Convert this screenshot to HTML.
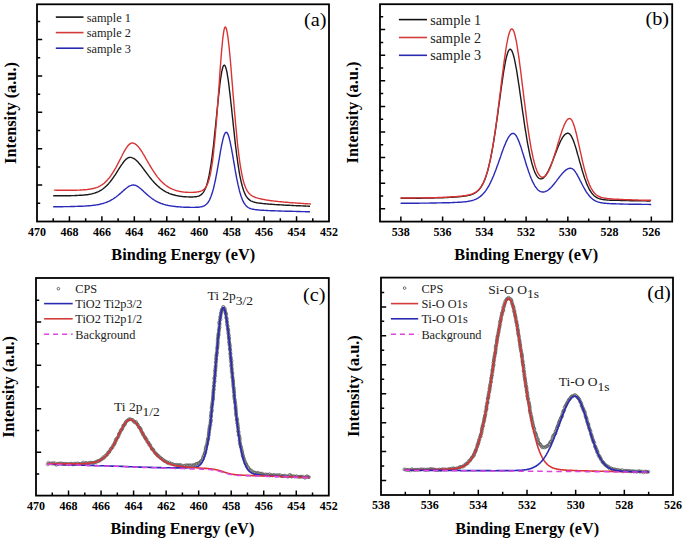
<!DOCTYPE html>
<html><head><meta charset="utf-8"><style>
html,body{margin:0;padding:0;background:#fff;width:685px;height:539px;overflow:hidden}
svg{display:block}
text{font-family:"Liberation Serif", serif}
</style></head><body>
<svg width="685" height="539" viewBox="0 0 685 539" font-family='"Liberation Serif", serif'>
<rect width="685" height="539" fill="#fff"/>
<rect x="37" y="4.3" width="292" height="217.2" fill="none" stroke="#000" stroke-width="1.8"/>
<path d="M53.22 221.5V218.3 M69.44 221.5V216.3 M85.67 221.5V218.3 M101.89 221.5V216.3 M118.11 221.5V218.3 M134.33 221.5V216.3 M150.56 221.5V218.3 M166.78 221.5V216.3 M183 221.5V218.3 M199.22 221.5V216.3 M215.44 221.5V218.3 M231.67 221.5V216.3 M247.89 221.5V218.3 M264.11 221.5V216.3 M280.33 221.5V218.3 M296.56 221.5V216.3 M312.78 221.5V218.3 M37 203.31H40.2 M37 185.12H42.2 M37 166.93H40.2 M37 148.74H42.2 M37 130.55H40.2 M37 112.36H42.2 M37 94.17H40.2 M37 75.98H42.2 M37 57.79H40.2 M37 39.6H42.2 M37 21.41H40.2" stroke="#000" stroke-width="1.5" fill="none"/>
<text transform="translate(37,236) scale(1,1.0)" font-size="12" font-weight="bold" text-anchor="middle">470</text>
<text transform="translate(69.44,236) scale(1,1.0)" font-size="12" font-weight="bold" text-anchor="middle">468</text>
<text transform="translate(101.89,236) scale(1,1.0)" font-size="12" font-weight="bold" text-anchor="middle">466</text>
<text transform="translate(134.33,236) scale(1,1.0)" font-size="12" font-weight="bold" text-anchor="middle">464</text>
<text transform="translate(166.78,236) scale(1,1.0)" font-size="12" font-weight="bold" text-anchor="middle">462</text>
<text transform="translate(199.22,236) scale(1,1.0)" font-size="12" font-weight="bold" text-anchor="middle">460</text>
<text transform="translate(231.67,236) scale(1,1.0)" font-size="12" font-weight="bold" text-anchor="middle">458</text>
<text transform="translate(264.11,236) scale(1,1.0)" font-size="12" font-weight="bold" text-anchor="middle">456</text>
<text transform="translate(296.56,236) scale(1,1.0)" font-size="12" font-weight="bold" text-anchor="middle">454</text>
<text transform="translate(329,236) scale(1,1.0)" font-size="12" font-weight="bold" text-anchor="middle">452</text>
<text x="183.2" y="259.8" font-size="16.3" font-weight="bold" text-anchor="middle">Binding Energy (eV)</text>
<text transform="translate(15.8,113) rotate(-90)" font-size="16.3" font-weight="bold" text-anchor="middle">Intensity (a.u.)</text>
<text transform="translate(326.6,26.3) scale(1.04,0.96)" font-size="19.5" text-anchor="end">(a)</text>
<rect x="380" y="4.2" width="292.2" height="217.4" fill="none" stroke="#000" stroke-width="1.8"/>
<path d="M400.87 221.6V216.4 M421.74 221.6V218.4 M442.61 221.6V216.4 M463.49 221.6V218.4 M484.36 221.6V216.4 M505.23 221.6V218.4 M526.1 221.6V216.4 M546.97 221.6V218.4 M567.84 221.6V216.4 M588.71 221.6V218.4 M609.59 221.6V216.4 M630.46 221.6V218.4 M651.33 221.6V216.4 M380 208.8H385.2 M380 196H383.2 M380 183.2H385.2 M380 170.4H383.2 M380 157.6H385.2 M380 144.8H383.2 M380 132H385.2 M380 119.2H383.2 M380 106.4H385.2 M380 93.6H383.2 M380 80.8H385.2 M380 68H383.2 M380 55.2H385.2 M380 42.4H383.2 M380 29.6H385.2 M380 16.8H383.2" stroke="#000" stroke-width="1.5" fill="none"/>
<text transform="translate(400.87,236) scale(1,1.0)" font-size="12" font-weight="bold" text-anchor="middle">538</text>
<text transform="translate(442.61,236) scale(1,1.0)" font-size="12" font-weight="bold" text-anchor="middle">536</text>
<text transform="translate(484.36,236) scale(1,1.0)" font-size="12" font-weight="bold" text-anchor="middle">534</text>
<text transform="translate(526.1,236) scale(1,1.0)" font-size="12" font-weight="bold" text-anchor="middle">532</text>
<text transform="translate(567.84,236) scale(1,1.0)" font-size="12" font-weight="bold" text-anchor="middle">530</text>
<text transform="translate(609.59,236) scale(1,1.0)" font-size="12" font-weight="bold" text-anchor="middle">528</text>
<text transform="translate(651.33,236) scale(1,1.0)" font-size="12" font-weight="bold" text-anchor="middle">526</text>
<text x="526.2" y="260" font-size="16.3" font-weight="bold" text-anchor="middle">Binding Energy (eV)</text>
<text transform="translate(358.4,112.5) rotate(-90)" font-size="16.3" font-weight="bold" text-anchor="middle">Intensity (a.u.)</text>
<text transform="translate(669.1,25.3) scale(1.04,0.96)" font-size="19.5" text-anchor="end">(b)</text>
<rect x="36" y="278" width="292.8" height="217.6" fill="none" stroke="#000" stroke-width="1.8"/>
<path d="M52.27 495.6V492.4 M68.53 495.6V490.4 M84.8 495.6V492.4 M101.07 495.6V490.4 M117.33 495.6V492.4 M133.6 495.6V490.4 M149.87 495.6V492.4 M166.13 495.6V490.4 M182.4 495.6V492.4 M198.67 495.6V490.4 M214.93 495.6V492.4 M231.2 495.6V490.4 M247.47 495.6V492.4 M263.73 495.6V490.4 M280 495.6V492.4 M296.27 495.6V490.4 M312.53 495.6V492.4 M36 473.89H39.2 M36 452.18H41.2 M36 430.47H39.2 M36 408.76H41.2 M36 387.05H39.2 M36 365.34H41.2 M36 343.63H39.2 M36 321.92H41.2 M36 300.21H39.2" stroke="#000" stroke-width="1.5" fill="none"/>
<text transform="translate(36,510) scale(1,1.0)" font-size="12" font-weight="bold" text-anchor="middle">470</text>
<text transform="translate(68.53,510) scale(1,1.0)" font-size="12" font-weight="bold" text-anchor="middle">468</text>
<text transform="translate(101.07,510) scale(1,1.0)" font-size="12" font-weight="bold" text-anchor="middle">466</text>
<text transform="translate(133.6,510) scale(1,1.0)" font-size="12" font-weight="bold" text-anchor="middle">464</text>
<text transform="translate(166.13,510) scale(1,1.0)" font-size="12" font-weight="bold" text-anchor="middle">462</text>
<text transform="translate(198.67,510) scale(1,1.0)" font-size="12" font-weight="bold" text-anchor="middle">460</text>
<text transform="translate(231.2,510) scale(1,1.0)" font-size="12" font-weight="bold" text-anchor="middle">458</text>
<text transform="translate(263.73,510) scale(1,1.0)" font-size="12" font-weight="bold" text-anchor="middle">456</text>
<text transform="translate(296.27,510) scale(1,1.0)" font-size="12" font-weight="bold" text-anchor="middle">454</text>
<text transform="translate(328.8,510) scale(1,1.0)" font-size="12" font-weight="bold" text-anchor="middle">452</text>
<text x="182.4" y="533.9" font-size="16.3" font-weight="bold" text-anchor="middle">Binding Energy (eV)</text>
<text transform="translate(13.8,386.9) rotate(-90)" font-size="16.3" font-weight="bold" text-anchor="middle">Intensity (a.u.)</text>
<text transform="translate(325.5,300.5) scale(1.04,0.96)" font-size="19.5" text-anchor="end">(c)</text>
<rect x="381" y="277.6" width="292" height="217.4" fill="none" stroke="#000" stroke-width="1.8"/>
<path d="M405.33 495V491.8 M429.67 495V489.8 M454 495V491.8 M478.33 495V489.8 M502.67 495V491.8 M527 495V489.8 M551.33 495V491.8 M575.67 495V489.8 M600 495V491.8 M624.33 495V489.8 M648.67 495V491.8 M381 480.53H386.2 M381 466.06H384.2 M381 451.59H386.2 M381 437.12H384.2 M381 422.65H386.2 M381 408.18H384.2 M381 393.71H386.2 M381 379.24H384.2 M381 364.77H386.2 M381 350.3H384.2 M381 335.83H386.2 M381 321.36H384.2 M381 306.89H386.2 M381 292.42H384.2" stroke="#000" stroke-width="1.5" fill="none"/>
<text transform="translate(381,509) scale(1,1.0)" font-size="12" font-weight="bold" text-anchor="middle">538</text>
<text transform="translate(429.67,509) scale(1,1.0)" font-size="12" font-weight="bold" text-anchor="middle">536</text>
<text transform="translate(478.33,509) scale(1,1.0)" font-size="12" font-weight="bold" text-anchor="middle">534</text>
<text transform="translate(527,509) scale(1,1.0)" font-size="12" font-weight="bold" text-anchor="middle">532</text>
<text transform="translate(575.67,509) scale(1,1.0)" font-size="12" font-weight="bold" text-anchor="middle">530</text>
<text transform="translate(624.33,509) scale(1,1.0)" font-size="12" font-weight="bold" text-anchor="middle">528</text>
<text transform="translate(673,509) scale(1,1.0)" font-size="12" font-weight="bold" text-anchor="middle">526</text>
<text x="527.2" y="533.8" font-size="16.3" font-weight="bold" text-anchor="middle">Binding Energy (eV)</text>
<text transform="translate(359.4,386.1) rotate(-90)" font-size="16.3" font-weight="bold" text-anchor="middle">Intensity (a.u.)</text>
<text transform="translate(670.8,298.6) scale(1.04,0.96)" font-size="19.5" text-anchor="end">(d)</text>
<path d="M55.8 17.1H83.5" stroke="#111" stroke-width="1.6"/>
<text x="86.8" y="21.53" font-size="12.3" fill="#222">sample 1</text>
<path d="M55.8 32.6H83.5" stroke="#d43c3c" stroke-width="1.6"/>
<text x="86.8" y="37.03" font-size="12.3" fill="#222">sample 2</text>
<path d="M55.8 48.2H83.5" stroke="#2a2ab0" stroke-width="1.6"/>
<text x="86.8" y="52.63" font-size="12.3" fill="#222">sample 3</text>
<path d="M398.9 19.6H427" stroke="#111" stroke-width="1.6"/>
<text x="430.3" y="24.71" font-size="14.2" fill="#222">sample 1</text>
<path d="M398.9 37.5H427" stroke="#d43c3c" stroke-width="1.6"/>
<text x="430.3" y="42.61" font-size="14.2" fill="#222">sample 2</text>
<path d="M398.9 55.3H427" stroke="#2a2ab0" stroke-width="1.6"/>
<text x="430.3" y="60.41" font-size="14.2" fill="#222">sample 3</text>
<circle cx="58.4" cy="288.7" r="1.3" fill="none" stroke="#333" stroke-width="0.7"/>
<text x="75.3" y="293.13" font-size="12.3" fill="#222">CPS</text>
<path d="M44.1 303.6H72.7" stroke="#2a2ab0" stroke-width="1.6"/>
<text x="75.3" y="308.03" font-size="12.3" fill="#222">TiO2 Ti2p3/2</text>
<path d="M44.1 318.8H72.7" stroke="#d43c3c" stroke-width="1.6"/>
<text x="75.3" y="323.23" font-size="12.3" fill="#222">TiO2 Ti2p1/2</text>
<path d="M44.1 334.2H72.7" stroke="#dd44dd" stroke-width="1.6" stroke-dasharray="5,4"/>
<text x="75.3" y="338.63" font-size="12.3" fill="#222">Background</text>
<circle cx="404.55" cy="288.1" r="1.3" fill="none" stroke="#333" stroke-width="0.7"/>
<text x="421.4" y="292.53" font-size="12.3" fill="#222">CPS</text>
<path d="M390.9 303.6H418.2" stroke="#d43c3c" stroke-width="1.6"/>
<text x="421.4" y="308.03" font-size="12.3" fill="#222">Si-O O1s</text>
<path d="M390.9 318.8H418.2" stroke="#2a2ab0" stroke-width="1.6"/>
<text x="421.4" y="323.23" font-size="12.3" fill="#222">Ti-O O1s</text>
<path d="M390.9 334.2H418.2" stroke="#dd44dd" stroke-width="1.6" stroke-dasharray="5,4"/>
<text x="421.4" y="338.63" font-size="12.3" fill="#222">Background</text>
<text transform="translate(207.4,300.4) scale(1,1.0)" font-size="13.5" fill="#222">Ti 2p<tspan dy="4.4">3/2</tspan></text>
<text transform="translate(114,411.4) scale(1,1.0)" font-size="13.5" fill="#222">Ti 2p<tspan dy="4.4">1/2</tspan></text>
<text transform="translate(488.3,293.6) scale(1,1.0)" font-size="13.5" fill="#222">Si-O O<tspan dy="4.4">1s</tspan></text>
<text transform="translate(558.7,386.4) scale(1,1.0)" font-size="13.5" fill="#222">Ti-O O<tspan dy="4.4">1s</tspan></text>
<path d="M53.2 206.7 L53.8 206.7 L54.5 206.7 L55.1 206.7 L55.8 206.7 L56.4 206.7 L57.1 206.7 L57.7 206.7 L58.3 206.7 L59.0 206.7 L59.6 206.7 L60.3 206.7 L60.9 206.7 L61.6 206.7 L62.2 206.7 L62.9 206.7 L63.5 206.6 L64.1 206.6 L64.8 206.6 L65.4 206.6 L66.1 206.6 L66.7 206.6 L67.4 206.6 L68.0 206.6 L68.6 206.6 L69.3 206.6 L69.9 206.6 L70.6 206.5 L71.2 206.5 L71.9 206.5 L72.5 206.5 L73.2 206.5 L73.8 206.5 L74.4 206.5 L75.1 206.4 L75.7 206.4 L76.4 206.4 L77.0 206.4 L77.7 206.4 L78.3 206.3 L78.9 206.3 L79.6 206.3 L80.2 206.3 L80.9 206.2 L81.5 206.2 L82.2 206.2 L82.8 206.2 L83.4 206.1 L84.1 206.1 L84.7 206.1 L85.4 206.0 L86.0 206.0 L86.7 205.9 L87.3 205.9 L88.0 205.8 L88.6 205.8 L89.2 205.7 L89.9 205.7 L90.5 205.6 L91.2 205.6 L91.8 205.5 L92.5 205.4 L93.1 205.4 L93.7 205.3 L94.4 205.2 L95.0 205.1 L95.7 205.0 L96.3 204.9 L97.0 204.8 L97.6 204.7 L98.3 204.6 L98.9 204.5 L99.5 204.3 L100.2 204.2 L100.8 204.0 L101.5 203.9 L102.1 203.7 L102.8 203.5 L103.4 203.3 L104.0 203.1 L104.7 202.9 L105.3 202.7 L106.0 202.5 L106.6 202.2 L107.3 202.0 L107.9 201.7 L108.6 201.4 L109.2 201.1 L109.8 200.8 L110.5 200.5 L111.1 200.1 L111.8 199.7 L112.4 199.4 L113.1 199.0 L113.7 198.5 L114.3 198.1 L115.0 197.7 L115.6 197.2 L116.3 196.7 L116.9 196.2 L117.6 195.7 L118.2 195.2 L118.8 194.7 L119.5 194.1 L120.1 193.6 L120.8 193.0 L121.4 192.4 L122.1 191.9 L122.7 191.3 L123.4 190.7 L124.0 190.1 L124.6 189.6 L125.3 189.0 L125.9 188.5 L126.6 188.0 L127.2 187.5 L127.9 187.0 L128.5 186.6 L129.1 186.2 L129.8 185.9 L130.4 185.6 L131.1 185.4 L131.7 185.2 L132.4 185.1 L133.0 185.0 L133.7 185.0 L134.3 185.1 L134.9 185.2 L135.6 185.4 L136.2 185.7 L136.9 186.0 L137.5 186.4 L138.2 186.8 L138.8 187.2 L139.4 187.7 L140.1 188.2 L140.7 188.8 L141.4 189.3 L142.0 189.9 L142.7 190.5 L143.3 191.1 L143.9 191.7 L144.6 192.3 L145.2 192.9 L145.9 193.5 L146.5 194.1 L147.2 194.6 L147.8 195.2 L148.5 195.7 L149.1 196.3 L149.7 196.8 L150.4 197.3 L151.0 197.8 L151.7 198.3 L152.3 198.8 L153.0 199.2 L153.6 199.6 L154.2 200.0 L154.9 200.4 L155.5 200.8 L156.2 201.2 L156.8 201.5 L157.5 201.8 L158.1 202.2 L158.8 202.5 L159.4 202.7 L160.0 203.0 L160.7 203.3 L161.3 203.5 L162.0 203.7 L162.6 204.0 L163.3 204.2 L163.9 204.4 L164.5 204.6 L165.2 204.7 L165.8 204.9 L166.5 205.1 L167.1 205.2 L167.8 205.3 L168.4 205.5 L169.0 205.6 L169.7 205.7 L170.3 205.8 L171.0 205.9 L171.6 206.0 L172.3 206.1 L172.9 206.2 L173.6 206.3 L174.2 206.4 L174.8 206.5 L175.5 206.5 L176.1 206.6 L176.8 206.7 L177.4 206.7 L178.1 206.8 L178.7 206.8 L179.3 206.9 L180.0 206.9 L180.6 207.0 L181.3 207.0 L181.9 207.1 L182.6 207.1 L183.2 207.1 L183.9 207.2 L184.5 207.2 L185.1 207.2 L185.8 207.2 L186.4 207.3 L187.1 207.3 L187.7 207.3 L188.4 207.3 L189.0 207.3 L189.6 207.3 L190.3 207.4 L190.9 207.4 L191.6 207.4 L192.2 207.4 L192.9 207.4 L193.5 207.4 L194.2 207.4 L194.8 207.4 L195.4 207.3 L196.1 207.3 L196.7 207.3 L197.4 207.3 L198.0 207.2 L198.7 207.2 L199.3 207.1 L199.9 207.0 L200.6 206.9 L201.2 206.8 L201.9 206.6 L202.5 206.5 L203.2 206.2 L203.8 206.0 L204.4 205.7 L205.1 205.3 L205.7 204.8 L206.4 204.3 L207.0 203.6 L207.7 202.9 L208.3 202.0 L209.0 200.9 L209.6 199.7 L210.2 198.4 L210.9 196.8 L211.5 195.1 L212.2 193.1 L212.8 190.9 L213.5 188.5 L214.1 185.9 L214.7 183.1 L215.4 180.0 L216.0 176.8 L216.7 173.3 L217.3 169.8 L218.0 166.1 L218.6 162.4 L219.3 158.6 L219.9 154.8 L220.5 151.2 L221.2 147.6 L221.8 144.3 L222.5 141.3 L223.1 138.6 L223.8 136.3 L224.4 134.5 L225.0 133.2 L225.7 132.4 L226.3 132.3 L227.0 132.6 L227.6 133.6 L228.3 135.1 L228.9 137.0 L229.5 139.4 L230.2 142.2 L230.8 145.3 L231.5 148.7 L232.1 152.2 L232.8 155.9 L233.4 159.7 L234.1 163.5 L234.7 167.2 L235.3 170.9 L236.0 174.5 L236.6 177.9 L237.3 181.1 L237.9 184.2 L238.6 187.0 L239.2 189.7 L239.8 192.1 L240.5 194.3 L241.1 196.3 L241.8 198.1 L242.4 199.7 L243.1 201.1 L243.7 202.4 L244.4 203.5 L245.0 204.4 L245.6 205.2 L246.3 205.9 L246.9 206.5 L247.6 207.1 L248.2 207.5 L248.9 207.9 L249.5 208.2 L250.1 208.5 L250.8 208.7 L251.4 208.9 L252.1 209.1 L252.7 209.2 L253.4 209.3 L254.0 209.4 L254.6 209.5 L255.3 209.6 L255.9 209.7 L256.6 209.8 L257.2 209.8 L257.9 209.9 L258.5 210.0 L259.2 210.0 L259.8 210.1 L260.4 210.1 L261.1 210.2 L261.7 210.2 L262.4 210.2 L263.0 210.3 L263.7 210.3 L264.3 210.4 L264.9 210.4 L265.6 210.4 L266.2 210.5 L266.9 210.5 L267.5 210.5 L268.2 210.6 L268.8 210.6 L269.5 210.6 L270.1 210.6 L270.7 210.7 L271.4 210.7 L272.0 210.7 L272.7 210.8 L273.3 210.8 L274.0 210.8 L274.6 210.8 L275.2 210.9 L275.9 210.9 L276.5 210.9 L277.2 210.9 L277.8 210.9 L278.5 211.0 L279.1 211.0 L279.8 211.0 L280.4 211.0 L281.0 211.0 L281.7 211.1 L282.3 211.1 L283.0 211.1 L283.6 211.1 L284.3 211.1 L284.9 211.2 L285.5 211.2 L286.2 211.2 L286.8 211.2 L287.5 211.2 L288.1 211.2 L288.8 211.3 L289.4 211.3 L290.0 211.3 L290.7 211.3 L291.3 211.3 L292.0 211.3 L292.6 211.4 L293.3 211.4 L293.9 211.4 L294.6 211.4 L295.2 211.4 L295.8 211.4 L296.5 211.5 L297.1 211.5 L297.8 211.5 L298.4 211.5 L299.1 211.5 L299.7 211.5 L300.3 211.5 L301.0 211.6 L301.6 211.6 L302.3 211.6 L302.9 211.6 L303.6 211.6 L304.2 211.6 L304.9 211.6 L305.5 211.7 L306.1 211.7 L306.8 211.7 L307.4 211.7 L308.1 211.7 L308.7 211.7 L309.4 211.7 L310.0 211.7" fill="none" stroke="#2a2ab8" stroke-width="1.4" stroke-linejoin="round"/>
<path d="M53.2 195.7 L53.8 195.7 L54.5 195.8 L55.1 195.8 L55.8 195.8 L56.4 195.8 L57.1 195.8 L57.7 195.8 L58.3 195.8 L59.0 195.8 L59.6 195.8 L60.3 195.8 L60.9 195.8 L61.6 195.8 L62.2 195.8 L62.9 195.7 L63.5 195.7 L64.1 195.7 L64.8 195.7 L65.4 195.7 L66.1 195.7 L66.7 195.7 L67.4 195.7 L68.0 195.7 L68.6 195.7 L69.3 195.7 L69.9 195.7 L70.6 195.7 L71.2 195.6 L71.9 195.6 L72.5 195.6 L73.2 195.6 L73.8 195.6 L74.4 195.6 L75.1 195.5 L75.7 195.5 L76.4 195.5 L77.0 195.5 L77.7 195.4 L78.3 195.4 L78.9 195.4 L79.6 195.3 L80.2 195.3 L80.9 195.3 L81.5 195.2 L82.2 195.2 L82.8 195.1 L83.4 195.1 L84.1 195.0 L84.7 195.0 L85.4 194.9 L86.0 194.8 L86.7 194.7 L87.3 194.7 L88.0 194.6 L88.6 194.5 L89.2 194.4 L89.9 194.3 L90.5 194.1 L91.2 194.0 L91.8 193.9 L92.5 193.7 L93.1 193.5 L93.7 193.4 L94.4 193.2 L95.0 193.0 L95.7 192.7 L96.3 192.5 L97.0 192.2 L97.6 192.0 L98.3 191.7 L98.9 191.4 L99.5 191.0 L100.2 190.7 L100.8 190.3 L101.5 189.9 L102.1 189.5 L102.8 189.0 L103.4 188.5 L104.0 188.0 L104.7 187.5 L105.3 186.9 L106.0 186.3 L106.6 185.7 L107.3 185.1 L107.9 184.4 L108.6 183.7 L109.2 182.9 L109.8 182.2 L110.5 181.4 L111.1 180.5 L111.8 179.7 L112.4 178.8 L113.1 177.9 L113.7 177.0 L114.3 176.0 L115.0 175.1 L115.6 174.1 L116.3 173.1 L116.9 172.1 L117.6 171.0 L118.2 170.0 L118.8 169.0 L119.5 168.0 L120.1 167.0 L120.8 166.0 L121.4 165.0 L122.1 164.1 L122.7 163.2 L123.4 162.3 L124.0 161.5 L124.6 160.7 L125.3 160.0 L125.9 159.4 L126.6 158.8 L127.2 158.4 L127.9 158.0 L128.5 157.7 L129.1 157.5 L129.8 157.4 L130.4 157.4 L131.1 157.4 L131.7 157.6 L132.4 157.8 L133.0 158.1 L133.7 158.4 L134.3 158.8 L134.9 159.2 L135.6 159.7 L136.2 160.3 L136.9 160.9 L137.5 161.5 L138.2 162.2 L138.8 163.0 L139.4 163.7 L140.1 164.5 L140.7 165.3 L141.4 166.1 L142.0 166.9 L142.7 167.8 L143.3 168.7 L143.9 169.5 L144.6 170.4 L145.2 171.3 L145.9 172.1 L146.5 173.0 L147.2 173.9 L147.8 174.7 L148.5 175.6 L149.1 176.4 L149.7 177.2 L150.4 178.0 L151.0 178.8 L151.7 179.6 L152.3 180.4 L153.0 181.1 L153.6 181.8 L154.2 182.5 L154.9 183.2 L155.5 183.9 L156.2 184.5 L156.8 185.1 L157.5 185.7 L158.1 186.3 L158.8 186.9 L159.4 187.4 L160.0 188.0 L160.7 188.5 L161.3 188.9 L162.0 189.4 L162.6 189.8 L163.3 190.3 L163.9 190.7 L164.5 191.1 L165.2 191.4 L165.8 191.8 L166.5 192.1 L167.1 192.4 L167.8 192.7 L168.4 193.0 L169.0 193.3 L169.7 193.6 L170.3 193.8 L171.0 194.0 L171.6 194.3 L172.3 194.5 L172.9 194.7 L173.6 194.8 L174.2 195.0 L174.8 195.2 L175.5 195.3 L176.1 195.5 L176.8 195.6 L177.4 195.8 L178.1 195.9 L178.7 196.0 L179.3 196.1 L180.0 196.2 L180.6 196.3 L181.3 196.4 L181.9 196.5 L182.6 196.5 L183.2 196.6 L183.9 196.7 L184.5 196.7 L185.1 196.8 L185.8 196.8 L186.4 196.9 L187.1 196.9 L187.7 196.9 L188.4 196.9 L189.0 197.0 L189.6 197.0 L190.3 197.0 L190.9 197.0 L191.6 197.0 L192.2 197.0 L192.9 197.0 L193.5 196.9 L194.2 196.9 L194.8 196.8 L195.4 196.8 L196.1 196.7 L196.7 196.6 L197.4 196.4 L198.0 196.3 L198.7 196.1 L199.3 195.8 L199.9 195.5 L200.6 195.1 L201.2 194.6 L201.9 194.1 L202.5 193.4 L203.2 192.6 L203.8 191.6 L204.4 190.5 L205.1 189.2 L205.7 187.7 L206.4 185.9 L207.0 183.9 L207.7 181.6 L208.3 179.0 L209.0 176.0 L209.6 172.7 L210.2 169.1 L210.9 165.0 L211.5 160.7 L212.2 155.9 L212.8 150.8 L213.5 145.4 L214.1 139.6 L214.7 133.6 L215.4 127.4 L216.0 121.1 L216.7 114.7 L217.3 108.3 L218.0 102.0 L218.6 95.8 L219.3 90.0 L219.9 84.5 L220.5 79.5 L221.2 75.1 L221.8 71.4 L222.5 68.5 L223.1 66.4 L223.8 65.3 L224.4 65.1 L225.0 65.7 L225.7 67.2 L226.3 69.4 L227.0 72.4 L227.6 76.1 L228.3 80.3 L228.9 85.1 L229.5 90.3 L230.2 95.9 L230.8 101.7 L231.5 107.7 L232.1 113.8 L232.8 119.9 L233.4 126.0 L234.1 132.1 L234.7 137.9 L235.3 143.6 L236.0 149.0 L236.6 154.2 L237.3 159.0 L237.9 163.6 L238.6 167.8 L239.2 171.8 L239.8 175.4 L240.5 178.7 L241.1 181.6 L241.8 184.3 L242.4 186.7 L243.1 188.8 L243.7 190.7 L244.4 192.4 L245.0 193.9 L245.6 195.1 L246.3 196.3 L246.9 197.2 L247.6 198.0 L248.2 198.8 L248.9 199.4 L249.5 199.9 L250.1 200.4 L250.8 200.8 L251.4 201.1 L252.1 201.4 L252.7 201.7 L253.4 201.9 L254.0 202.1 L254.6 202.3 L255.3 202.4 L255.9 202.6 L256.6 202.7 L257.2 202.8 L257.9 202.9 L258.5 203.0 L259.2 203.1 L259.8 203.2 L260.4 203.3 L261.1 203.3 L261.7 203.4 L262.4 203.5 L263.0 203.6 L263.7 203.6 L264.3 203.7 L264.9 203.8 L265.6 203.8 L266.2 203.9 L266.9 203.9 L267.5 204.0 L268.2 204.0 L268.8 204.1 L269.5 204.1 L270.1 204.2 L270.7 204.2 L271.4 204.3 L272.0 204.3 L272.7 204.4 L273.3 204.4 L274.0 204.5 L274.6 204.5 L275.2 204.6 L275.9 204.6 L276.5 204.6 L277.2 204.7 L277.8 204.7 L278.5 204.8 L279.1 204.8 L279.8 204.8 L280.4 204.9 L281.0 204.9 L281.7 204.9 L282.3 205.0 L283.0 205.0 L283.6 205.0 L284.3 205.1 L284.9 205.1 L285.5 205.2 L286.2 205.2 L286.8 205.2 L287.5 205.2 L288.1 205.3 L288.8 205.3 L289.4 205.3 L290.0 205.4 L290.7 205.4 L291.3 205.4 L292.0 205.5 L292.6 205.5 L293.3 205.5 L293.9 205.6 L294.6 205.6 L295.2 205.6 L295.8 205.6 L296.5 205.7 L297.1 205.7 L297.8 205.7 L298.4 205.8 L299.1 205.8 L299.7 205.8 L300.3 205.8 L301.0 205.9 L301.6 205.9 L302.3 205.9 L302.9 205.9 L303.6 206.0 L304.2 206.0 L304.9 206.0 L305.5 206.0 L306.1 206.1 L306.8 206.1 L307.4 206.1 L308.1 206.1 L308.7 206.2 L309.4 206.2 L310.0 206.2" fill="none" stroke="#1a1a1a" stroke-width="1.4" stroke-linejoin="round"/>
<path d="M53.9 190.1 L54.5 190.1 L55.2 190.1 L55.8 190.1 L56.5 190.2 L57.1 190.2 L57.8 190.2 L58.4 190.2 L59.1 190.2 L59.7 190.2 L60.3 190.2 L61.0 190.2 L61.6 190.2 L62.3 190.2 L62.9 190.2 L63.6 190.2 L64.2 190.2 L64.9 190.2 L65.5 190.3 L66.1 190.3 L66.8 190.3 L67.4 190.3 L68.1 190.3 L68.7 190.3 L69.4 190.3 L70.0 190.2 L70.7 190.2 L71.3 190.2 L71.9 190.2 L72.6 190.2 L73.2 190.2 L73.9 190.2 L74.5 190.2 L75.2 190.2 L75.8 190.2 L76.5 190.2 L77.1 190.1 L77.7 190.1 L78.4 190.1 L79.0 190.1 L79.7 190.1 L80.3 190.0 L81.0 190.0 L81.6 190.0 L82.3 189.9 L82.9 189.9 L83.5 189.8 L84.2 189.8 L84.8 189.7 L85.5 189.7 L86.1 189.6 L86.8 189.6 L87.4 189.5 L88.1 189.4 L88.7 189.3 L89.3 189.2 L90.0 189.1 L90.6 189.0 L91.3 188.9 L91.9 188.8 L92.6 188.7 L93.2 188.5 L93.9 188.3 L94.5 188.2 L95.1 188.0 L95.8 187.8 L96.4 187.6 L97.1 187.3 L97.7 187.1 L98.4 186.8 L99.0 186.5 L99.6 186.2 L100.3 185.8 L100.9 185.4 L101.6 185.0 L102.2 184.6 L102.9 184.2 L103.5 183.7 L104.2 183.2 L104.8 182.6 L105.4 182.0 L106.1 181.4 L106.7 180.8 L107.4 180.1 L108.0 179.3 L108.7 178.6 L109.3 177.8 L110.0 176.9 L110.6 176.1 L111.2 175.2 L111.9 174.2 L112.5 173.2 L113.2 172.2 L113.8 171.1 L114.5 170.0 L115.1 168.9 L115.8 167.8 L116.4 166.6 L117.0 165.4 L117.7 164.1 L118.3 162.9 L119.0 161.6 L119.6 160.4 L120.3 159.1 L120.9 157.8 L121.6 156.5 L122.2 155.3 L122.8 154.0 L123.5 152.8 L124.1 151.6 L124.8 150.5 L125.4 149.4 L126.1 148.4 L126.7 147.4 L127.4 146.5 L128.0 145.7 L128.6 145.0 L129.3 144.4 L129.9 143.9 L130.6 143.5 L131.2 143.2 L131.9 143.0 L132.5 143.0 L133.2 143.1 L133.8 143.3 L134.4 143.5 L135.1 143.9 L135.7 144.3 L136.4 144.8 L137.0 145.4 L137.7 146.1 L138.3 146.8 L139.0 147.6 L139.6 148.4 L140.2 149.3 L140.9 150.2 L141.5 151.2 L142.2 152.2 L142.8 153.3 L143.5 154.3 L144.1 155.4 L144.8 156.5 L145.4 157.7 L146.0 158.8 L146.7 159.9 L147.3 161.0 L148.0 162.2 L148.6 163.3 L149.3 164.4 L149.9 165.5 L150.6 166.6 L151.2 167.6 L151.8 168.7 L152.5 169.7 L153.1 170.7 L153.8 171.7 L154.4 172.7 L155.1 173.6 L155.7 174.5 L156.4 175.4 L157.0 176.3 L157.6 177.1 L158.3 177.9 L158.9 178.7 L159.6 179.5 L160.2 180.2 L160.9 180.9 L161.5 181.5 L162.2 182.2 L162.8 182.8 L163.4 183.4 L164.1 183.9 L164.7 184.5 L165.4 185.0 L166.0 185.5 L166.7 185.9 L167.3 186.4 L168.0 186.8 L168.6 187.2 L169.2 187.6 L169.9 187.9 L170.5 188.3 L171.2 188.6 L171.8 188.9 L172.5 189.2 L173.1 189.4 L173.8 189.7 L174.4 189.9 L175.0 190.1 L175.7 190.4 L176.3 190.6 L177.0 190.7 L177.6 190.9 L178.3 191.1 L178.9 191.2 L179.6 191.3 L180.2 191.5 L180.8 191.6 L181.5 191.7 L182.1 191.8 L182.8 191.9 L183.4 192.0 L184.1 192.1 L184.7 192.1 L185.3 192.2 L186.0 192.2 L186.6 192.3 L187.3 192.3 L187.9 192.4 L188.6 192.4 L189.2 192.4 L189.9 192.4 L190.5 192.4 L191.1 192.4 L191.8 192.4 L192.4 192.4 L193.1 192.4 L193.7 192.3 L194.4 192.3 L195.0 192.3 L195.7 192.2 L196.3 192.1 L196.9 192.0 L197.6 191.9 L198.2 191.8 L198.9 191.7 L199.5 191.5 L200.2 191.3 L200.8 191.1 L201.5 190.9 L202.1 190.6 L202.7 190.2 L203.4 189.7 L204.0 189.2 L204.7 188.6 L205.3 187.8 L206.0 186.9 L206.6 185.8 L207.3 184.5 L207.9 183.0 L208.5 181.2 L209.2 179.0 L209.8 176.5 L210.5 173.5 L211.1 170.1 L211.8 166.2 L212.4 161.8 L213.1 156.8 L213.7 151.2 L214.3 145.0 L215.0 138.3 L215.6 131.0 L216.3 123.2 L216.9 114.9 L217.6 106.2 L218.2 97.3 L218.9 88.1 L219.5 79.0 L220.1 69.9 L220.8 61.3 L221.4 53.1 L222.1 45.7 L222.7 39.2 L223.4 33.9 L224.0 30.0 L224.7 27.6 L225.3 26.9 L225.9 27.6 L226.6 29.6 L227.2 32.7 L227.9 36.8 L228.5 42.0 L229.2 47.9 L229.8 54.5 L230.5 61.7 L231.1 69.3 L231.7 77.1 L232.4 85.1 L233.0 93.2 L233.7 101.2 L234.3 109.0 L235.0 116.6 L235.6 124.0 L236.3 130.9 L236.9 137.6 L237.5 143.8 L238.2 149.6 L238.8 154.9 L239.5 159.8 L240.1 164.3 L240.8 168.4 L241.4 172.0 L242.1 175.3 L242.7 178.2 L243.3 180.8 L244.0 183.1 L244.6 185.1 L245.3 186.8 L245.9 188.3 L246.6 189.7 L247.2 190.8 L247.9 191.8 L248.5 192.7 L249.1 193.4 L249.8 194.1 L250.4 194.7 L251.1 195.2 L251.7 195.6 L252.4 196.0 L253.0 196.4 L253.7 196.7 L254.3 197.0 L254.9 197.2 L255.6 197.5 L256.2 197.7 L256.9 197.9 L257.5 198.1 L258.2 198.3 L258.8 198.4 L259.5 198.6 L260.1 198.7 L260.7 198.9 L261.4 199.0 L262.0 199.2 L262.7 199.3 L263.3 199.4 L264.0 199.5 L264.6 199.7 L265.3 199.8 L265.9 199.9 L266.5 200.0 L267.2 200.1 L267.8 200.2 L268.5 200.3 L269.1 200.4 L269.8 200.5 L270.4 200.6 L271.0 200.7 L271.7 200.7 L272.3 200.8 L273.0 200.9 L273.6 201.0 L274.3 201.1 L274.9 201.1 L275.6 201.2 L276.2 201.3 L276.8 201.4 L277.5 201.4 L278.1 201.5 L278.8 201.6 L279.4 201.6 L280.1 201.7 L280.7 201.8 L281.4 201.8 L282.0 201.9 L282.6 201.9 L283.3 202.0 L283.9 202.1 L284.6 202.1 L285.2 202.2 L285.9 202.2 L286.5 202.3 L287.2 202.3 L287.8 202.4 L288.4 202.4 L289.1 202.5 L289.7 202.6 L290.4 202.6 L291.0 202.7 L291.7 202.7 L292.3 202.8 L293.0 202.8 L293.6 202.9 L294.2 202.9 L294.9 202.9 L295.5 203.0 L296.2 203.0 L296.8 203.1 L297.5 203.1 L298.1 203.2 L298.8 203.2 L299.4 203.3 L300.0 203.3 L300.7 203.4 L301.3 203.4 L302.0 203.4 L302.6 203.5 L303.3 203.5 L303.9 203.6 L304.6 203.6 L305.2 203.7 L305.8 203.7 L306.5 203.7 L307.1 203.8 L307.8 203.8 L308.4 203.9 L309.1 203.9 L309.7 203.9 L310.4 204.0 L311.0 204.0" fill="none" stroke="#d83434" stroke-width="1.4" stroke-linejoin="round"/>
<path d="M400.6 203.2 L401.2 203.2 L401.9 203.2 L402.5 203.2 L403.1 203.2 L403.7 203.2 L404.4 203.2 L405.0 203.2 L405.6 203.2 L406.3 203.2 L406.9 203.2 L407.5 203.2 L408.1 203.2 L408.8 203.2 L409.4 203.2 L410.0 203.2 L410.6 203.2 L411.3 203.2 L411.9 203.2 L412.5 203.2 L413.2 203.2 L413.8 203.2 L414.4 203.2 L415.0 203.2 L415.7 203.2 L416.3 203.2 L416.9 203.2 L417.6 203.2 L418.2 203.2 L418.8 203.2 L419.4 203.1 L420.1 203.1 L420.7 203.1 L421.3 203.1 L422.0 203.1 L422.6 203.1 L423.2 203.1 L423.8 203.1 L424.5 203.1 L425.1 203.1 L425.7 203.1 L426.4 203.1 L427.0 203.1 L427.6 203.1 L428.2 203.1 L428.9 203.1 L429.5 203.1 L430.1 203.0 L430.7 203.0 L431.4 203.0 L432.0 203.0 L432.6 203.0 L433.3 203.0 L433.9 203.0 L434.5 203.0 L435.1 203.0 L435.8 203.0 L436.4 203.0 L437.0 202.9 L437.7 202.9 L438.3 202.9 L438.9 202.9 L439.5 202.9 L440.2 202.9 L440.8 202.9 L441.4 202.9 L442.1 202.8 L442.7 202.8 L443.3 202.8 L443.9 202.8 L444.6 202.8 L445.2 202.8 L445.8 202.8 L446.4 202.7 L447.1 202.7 L447.7 202.7 L448.3 202.7 L449.0 202.7 L449.6 202.7 L450.2 202.6 L450.8 202.6 L451.5 202.6 L452.1 202.6 L452.7 202.5 L453.4 202.5 L454.0 202.5 L454.6 202.5 L455.2 202.4 L455.9 202.4 L456.5 202.4 L457.1 202.4 L457.8 202.3 L458.4 202.3 L459.0 202.3 L459.6 202.2 L460.3 202.2 L460.9 202.1 L461.5 202.1 L462.2 202.0 L462.8 202.0 L463.4 201.9 L464.0 201.9 L464.7 201.8 L465.3 201.7 L465.9 201.7 L466.5 201.6 L467.2 201.5 L467.8 201.4 L468.4 201.3 L469.1 201.2 L469.7 201.1 L470.3 200.9 L470.9 200.8 L471.6 200.6 L472.2 200.5 L472.8 200.3 L473.5 200.1 L474.1 199.9 L474.7 199.6 L475.3 199.4 L476.0 199.1 L476.6 198.8 L477.2 198.5 L477.9 198.1 L478.5 197.8 L479.1 197.3 L479.7 196.9 L480.4 196.4 L481.0 195.9 L481.6 195.4 L482.2 194.8 L482.9 194.1 L483.5 193.4 L484.1 192.7 L484.8 192.0 L485.4 191.1 L486.0 190.3 L486.6 189.3 L487.3 188.4 L487.9 187.3 L488.5 186.3 L489.2 185.1 L489.8 183.9 L490.4 182.7 L491.0 181.4 L491.7 180.0 L492.3 178.6 L492.9 177.2 L493.6 175.7 L494.2 174.1 L494.8 172.5 L495.4 170.9 L496.1 169.2 L496.7 167.5 L497.3 165.8 L498.0 164.0 L498.6 162.3 L499.2 160.5 L499.8 158.7 L500.5 156.9 L501.1 155.1 L501.7 153.3 L502.3 151.5 L503.0 149.8 L503.6 148.1 L504.2 146.5 L504.9 144.9 L505.5 143.4 L506.1 141.9 L506.7 140.6 L507.4 139.3 L508.0 138.1 L508.6 137.1 L509.3 136.1 L509.9 135.3 L510.5 134.7 L511.1 134.1 L511.8 133.7 L512.4 133.5 L513.0 133.4 L513.7 133.5 L514.3 133.7 L514.9 134.2 L515.5 134.9 L516.2 135.8 L516.8 136.8 L517.4 138.0 L518.0 139.4 L518.7 140.9 L519.3 142.5 L519.9 144.2 L520.6 146.0 L521.2 147.9 L521.8 149.9 L522.4 151.9 L523.1 153.9 L523.7 156.0 L524.3 158.1 L525.0 160.1 L525.6 162.2 L526.2 164.2 L526.8 166.2 L527.5 168.1 L528.1 170.0 L528.7 171.9 L529.4 173.6 L530.0 175.4 L530.6 177.0 L531.2 178.5 L531.9 180.0 L532.5 181.4 L533.1 182.7 L533.8 183.9 L534.4 185.0 L535.0 186.1 L535.6 187.0 L536.3 187.9 L536.9 188.7 L537.5 189.4 L538.1 190.0 L538.8 190.5 L539.4 190.9 L540.0 191.3 L540.7 191.6 L541.3 191.8 L541.9 191.9 L542.5 192.0 L543.2 192.0 L543.8 192.0 L544.4 191.9 L545.1 191.7 L545.7 191.4 L546.3 191.1 L546.9 190.8 L547.6 190.4 L548.2 190.0 L548.8 189.5 L549.5 188.9 L550.1 188.4 L550.7 187.8 L551.3 187.1 L552.0 186.5 L552.6 185.7 L553.2 185.0 L553.8 184.3 L554.5 183.5 L555.1 182.7 L555.7 181.9 L556.4 181.1 L557.0 180.2 L557.6 179.4 L558.2 178.6 L558.9 177.8 L559.5 176.9 L560.1 176.1 L560.8 175.3 L561.4 174.6 L562.0 173.8 L562.6 173.1 L563.3 172.4 L563.9 171.8 L564.5 171.2 L565.2 170.6 L565.8 170.1 L566.4 169.7 L567.0 169.3 L567.7 168.9 L568.3 168.7 L568.9 168.5 L569.6 168.3 L570.2 168.2 L570.8 168.2 L571.4 168.4 L572.1 168.6 L572.7 169.0 L573.3 169.5 L573.9 170.1 L574.6 170.8 L575.2 171.7 L575.8 172.6 L576.5 173.6 L577.1 174.7 L577.7 175.8 L578.3 176.9 L579.0 178.1 L579.6 179.4 L580.2 180.6 L580.9 181.8 L581.5 183.1 L582.1 184.3 L582.7 185.5 L583.4 186.7 L584.0 187.9 L584.6 189.0 L585.3 190.1 L585.9 191.1 L586.5 192.1 L587.1 193.0 L587.8 193.9 L588.4 194.7 L589.0 195.5 L589.6 196.3 L590.3 197.0 L590.9 197.6 L591.5 198.2 L592.2 198.7 L592.8 199.2 L593.4 199.7 L594.0 200.1 L594.7 200.5 L595.3 200.8 L595.9 201.1 L596.6 201.4 L597.2 201.7 L597.8 201.9 L598.4 202.1 L599.1 202.3 L599.7 202.4 L600.3 202.6 L601.0 202.7 L601.6 202.8 L602.2 202.9 L602.8 203.0 L603.5 203.1 L604.1 203.2 L604.7 203.3 L605.4 203.3 L606.0 203.4 L606.6 203.4 L607.2 203.5 L607.9 203.5 L608.5 203.5 L609.1 203.6 L609.7 203.6 L610.4 203.6 L611.0 203.7 L611.6 203.7 L612.3 203.7 L612.9 203.8 L613.5 203.8 L614.1 203.8 L614.8 203.8 L615.4 203.8 L616.0 203.9 L616.7 203.9 L617.3 203.9 L617.9 203.9 L618.5 203.9 L619.2 203.9 L619.8 204.0 L620.4 204.0 L621.1 204.0 L621.7 204.0 L622.3 204.0 L622.9 204.0 L623.6 204.1 L624.2 204.1 L624.8 204.1 L625.4 204.1 L626.1 204.1 L626.7 204.1 L627.3 204.1 L628.0 204.1 L628.6 204.2 L629.2 204.2 L629.8 204.2 L630.5 204.2 L631.1 204.2 L631.7 204.2 L632.4 204.2 L633.0 204.2 L633.6 204.2 L634.2 204.3 L634.9 204.3 L635.5 204.3 L636.1 204.3 L636.8 204.3 L637.4 204.3 L638.0 204.3 L638.6 204.3 L639.3 204.3 L639.9 204.3 L640.5 204.3 L641.2 204.4 L641.8 204.4 L642.4 204.4 L643.0 204.4 L643.7 204.4 L644.3 204.4 L644.9 204.4 L645.5 204.4 L646.2 204.4 L646.8 204.4 L647.4 204.4 L648.1 204.4 L648.7 204.4 L649.3 204.5 L649.9 204.5 L650.6 204.5 L651.2 204.5" fill="none" stroke="#2a2ab8" stroke-width="1.4" stroke-linejoin="round"/>
<path d="M400.6 198.3 L401.2 198.3 L401.9 198.3 L402.5 198.3 L403.1 198.3 L403.7 198.3 L404.4 198.3 L405.0 198.3 L405.6 198.3 L406.2 198.3 L406.9 198.3 L407.5 198.3 L408.1 198.3 L408.7 198.3 L409.4 198.2 L410.0 198.2 L410.6 198.2 L411.2 198.2 L411.9 198.2 L412.5 198.2 L413.1 198.2 L413.8 198.2 L414.4 198.2 L415.0 198.2 L415.6 198.2 L416.3 198.2 L416.9 198.2 L417.5 198.2 L418.1 198.2 L418.8 198.2 L419.4 198.2 L420.0 198.2 L420.6 198.2 L421.3 198.2 L421.9 198.2 L422.5 198.1 L423.1 198.1 L423.8 198.1 L424.4 198.1 L425.0 198.1 L425.7 198.1 L426.3 198.1 L426.9 198.1 L427.5 198.1 L428.2 198.1 L428.8 198.1 L429.4 198.0 L430.0 198.0 L430.7 198.0 L431.3 198.0 L431.9 198.0 L432.5 198.0 L433.2 198.0 L433.8 198.0 L434.4 197.9 L435.0 197.9 L435.7 197.9 L436.3 197.9 L436.9 197.9 L437.6 197.9 L438.2 197.8 L438.8 197.8 L439.4 197.8 L440.1 197.8 L440.7 197.8 L441.3 197.8 L441.9 197.7 L442.6 197.7 L443.2 197.7 L443.8 197.7 L444.4 197.6 L445.1 197.6 L445.7 197.6 L446.3 197.6 L446.9 197.5 L447.6 197.5 L448.2 197.5 L448.8 197.4 L449.5 197.4 L450.1 197.4 L450.7 197.3 L451.3 197.3 L452.0 197.3 L452.6 197.2 L453.2 197.2 L453.8 197.1 L454.5 197.1 L455.1 197.1 L455.7 197.0 L456.3 197.0 L457.0 196.9 L457.6 196.9 L458.2 196.8 L458.8 196.8 L459.5 196.7 L460.1 196.6 L460.7 196.6 L461.4 196.5 L462.0 196.4 L462.6 196.4 L463.2 196.3 L463.9 196.2 L464.5 196.1 L465.1 196.0 L465.7 195.9 L466.4 195.8 L467.0 195.7 L467.6 195.6 L468.2 195.4 L468.9 195.3 L469.5 195.1 L470.1 195.0 L470.7 194.8 L471.4 194.6 L472.0 194.3 L472.6 194.1 L473.3 193.8 L473.9 193.5 L474.5 193.2 L475.1 192.9 L475.8 192.5 L476.4 192.0 L477.0 191.5 L477.6 191.0 L478.3 190.4 L478.9 189.8 L479.5 189.1 L480.1 188.3 L480.8 187.4 L481.4 186.5 L482.0 185.4 L482.6 184.3 L483.3 183.0 L483.9 181.6 L484.5 180.2 L485.2 178.6 L485.8 176.8 L486.4 174.9 L487.0 172.9 L487.7 170.7 L488.3 168.4 L488.9 165.9 L489.5 163.2 L490.2 160.4 L490.8 157.3 L491.4 154.2 L492.0 150.8 L492.7 147.3 L493.3 143.7 L493.9 139.9 L494.5 135.9 L495.2 131.8 L495.8 127.6 L496.4 123.2 L497.1 118.8 L497.7 114.3 L498.3 109.7 L498.9 105.1 L499.6 100.5 L500.2 95.9 L500.8 91.3 L501.4 86.8 L502.1 82.4 L502.7 78.1 L503.3 74.0 L503.9 70.1 L504.6 66.4 L505.2 63.0 L505.8 59.9 L506.4 57.1 L507.1 54.7 L507.7 52.7 L508.3 51.2 L509.0 50.0 L509.6 49.4 L510.2 49.2 L510.8 49.5 L511.5 50.2 L512.1 51.3 L512.7 52.9 L513.3 54.8 L514.0 57.2 L514.6 59.8 L515.2 62.8 L515.8 66.1 L516.5 69.6 L517.1 73.4 L517.7 77.4 L518.3 81.5 L519.0 85.7 L519.6 90.0 L520.2 94.4 L520.9 98.8 L521.5 103.3 L522.1 107.7 L522.7 112.1 L523.4 116.5 L524.0 120.8 L524.6 125.0 L525.2 129.1 L525.9 133.0 L526.5 136.9 L527.1 140.6 L527.7 144.1 L528.4 147.5 L529.0 150.7 L529.6 153.7 L530.2 156.6 L530.9 159.3 L531.5 161.8 L532.1 164.1 L532.8 166.3 L533.4 168.2 L534.0 170.0 L534.6 171.6 L535.3 173.1 L535.9 174.3 L536.5 175.4 L537.1 176.4 L537.8 177.2 L538.4 177.8 L539.0 178.3 L539.6 178.6 L540.3 178.8 L540.9 178.9 L541.5 178.8 L542.1 178.6 L542.8 178.3 L543.4 177.9 L544.0 177.3 L544.7 176.6 L545.3 175.9 L545.9 175.0 L546.5 174.1 L547.2 173.0 L547.8 171.9 L548.4 170.7 L549.0 169.4 L549.7 168.0 L550.3 166.6 L550.9 165.2 L551.5 163.7 L552.2 162.1 L552.8 160.5 L553.4 158.9 L554.0 157.3 L554.7 155.6 L555.3 154.0 L555.9 152.4 L556.6 150.7 L557.2 149.1 L557.8 147.6 L558.4 146.0 L559.1 144.6 L559.7 143.1 L560.3 141.8 L560.9 140.5 L561.6 139.3 L562.2 138.2 L562.8 137.2 L563.4 136.3 L564.1 135.5 L564.7 134.8 L565.3 134.2 L565.9 133.8 L566.6 133.5 L567.2 133.3 L567.8 133.2 L568.5 133.3 L569.1 133.6 L569.7 134.0 L570.3 134.7 L571.0 135.6 L571.6 136.7 L572.2 137.9 L572.8 139.3 L573.5 140.9 L574.1 142.6 L574.7 144.4 L575.3 146.3 L576.0 148.4 L576.6 150.5 L577.2 152.7 L577.8 154.9 L578.5 157.1 L579.1 159.4 L579.7 161.7 L580.4 163.9 L581.0 166.1 L581.6 168.3 L582.2 170.5 L582.9 172.6 L583.5 174.6 L584.1 176.5 L584.7 178.4 L585.4 180.1 L586.0 181.8 L586.6 183.4 L587.2 184.9 L587.9 186.3 L588.5 187.6 L589.1 188.9 L589.7 190.0 L590.4 191.0 L591.0 192.0 L591.6 192.9 L592.3 193.7 L592.9 194.4 L593.5 195.1 L594.1 195.7 L594.8 196.2 L595.4 196.7 L596.0 197.1 L596.6 197.5 L597.3 197.8 L597.9 198.1 L598.5 198.4 L599.1 198.6 L599.8 198.8 L600.4 199.0 L601.0 199.2 L601.6 199.3 L602.3 199.4 L602.9 199.6 L603.5 199.6 L604.2 199.7 L604.8 199.8 L605.4 199.9 L606.0 199.9 L606.7 200.0 L607.3 200.0 L607.9 200.1 L608.5 200.1 L609.2 200.1 L609.8 200.2 L610.4 200.2 L611.0 200.2 L611.7 200.2 L612.3 200.2 L612.9 200.3 L613.5 200.3 L614.2 200.3 L614.8 200.3 L615.4 200.3 L616.1 200.4 L616.7 200.4 L617.3 200.4 L617.9 200.4 L618.6 200.4 L619.2 200.4 L619.8 200.4 L620.4 200.5 L621.1 200.5 L621.7 200.5 L622.3 200.5 L622.9 200.5 L623.6 200.5 L624.2 200.5 L624.8 200.6 L625.4 200.6 L626.1 200.6 L626.7 200.6 L627.3 200.6 L628.0 200.6 L628.6 200.6 L629.2 200.6 L629.8 200.7 L630.5 200.7 L631.1 200.7 L631.7 200.7 L632.3 200.7 L633.0 200.7 L633.6 200.7 L634.2 200.7 L634.8 200.7 L635.5 200.8 L636.1 200.8 L636.7 200.8 L637.3 200.8 L638.0 200.8 L638.6 200.8 L639.2 200.8 L639.9 200.8 L640.5 200.8 L641.1 200.9 L641.7 200.9 L642.4 200.9 L643.0 200.9 L643.6 200.9 L644.2 200.9 L644.9 200.9 L645.5 200.9 L646.1 200.9 L646.7 201.0 L647.4 201.0 L648.0 201.0 L648.6 201.0 L649.2 201.0 L649.9 201.0 L650.5 201.0" fill="none" stroke="#1a1a1a" stroke-width="1.4" stroke-linejoin="round"/>
<path d="M400.6 198.1 L401.2 198.0 L401.9 198.0 L402.5 198.0 L403.1 198.0 L403.7 198.0 L404.4 198.0 L405.0 198.0 L405.6 198.0 L406.3 198.0 L406.9 198.0 L407.5 198.0 L408.1 198.0 L408.8 198.0 L409.4 198.0 L410.0 198.0 L410.6 198.0 L411.3 198.0 L411.9 198.0 L412.5 198.0 L413.2 198.0 L413.8 198.0 L414.4 198.0 L415.0 198.0 L415.7 197.9 L416.3 197.9 L416.9 197.9 L417.6 197.9 L418.2 197.9 L418.8 197.9 L419.4 197.9 L420.1 197.9 L420.7 197.9 L421.3 197.9 L422.0 197.9 L422.6 197.9 L423.2 197.9 L423.8 197.8 L424.5 197.8 L425.1 197.8 L425.7 197.8 L426.4 197.8 L427.0 197.8 L427.6 197.8 L428.2 197.8 L428.9 197.8 L429.5 197.7 L430.1 197.7 L430.7 197.7 L431.4 197.7 L432.0 197.7 L432.6 197.7 L433.3 197.7 L433.9 197.6 L434.5 197.6 L435.1 197.6 L435.8 197.6 L436.4 197.6 L437.0 197.6 L437.7 197.5 L438.3 197.5 L438.9 197.5 L439.5 197.5 L440.2 197.4 L440.8 197.4 L441.4 197.4 L442.1 197.4 L442.7 197.4 L443.3 197.3 L443.9 197.3 L444.6 197.3 L445.2 197.2 L445.8 197.2 L446.4 197.2 L447.1 197.2 L447.7 197.1 L448.3 197.1 L449.0 197.1 L449.6 197.0 L450.2 197.0 L450.8 197.0 L451.5 196.9 L452.1 196.9 L452.7 196.8 L453.4 196.8 L454.0 196.8 L454.6 196.7 L455.2 196.7 L455.9 196.6 L456.5 196.6 L457.1 196.5 L457.8 196.5 L458.4 196.4 L459.0 196.3 L459.6 196.3 L460.3 196.2 L460.9 196.1 L461.5 196.1 L462.2 196.0 L462.8 195.9 L463.4 195.8 L464.0 195.8 L464.7 195.7 L465.3 195.6 L465.9 195.5 L466.5 195.4 L467.2 195.2 L467.8 195.1 L468.4 195.0 L469.1 194.8 L469.7 194.7 L470.3 194.5 L470.9 194.3 L471.6 194.1 L472.2 193.9 L472.8 193.6 L473.5 193.4 L474.1 193.1 L474.7 192.7 L475.3 192.4 L476.0 192.0 L476.6 191.5 L477.2 191.1 L477.9 190.5 L478.5 189.9 L479.1 189.3 L479.7 188.5 L480.4 187.7 L481.0 186.9 L481.6 185.9 L482.2 184.8 L482.9 183.7 L483.5 182.4 L484.1 181.0 L484.8 179.5 L485.4 177.9 L486.0 176.1 L486.6 174.2 L487.3 172.1 L487.9 169.9 L488.5 167.5 L489.2 164.9 L489.8 162.2 L490.4 159.3 L491.0 156.2 L491.7 152.9 L492.3 149.4 L492.9 145.8 L493.6 141.9 L494.2 137.9 L494.8 133.8 L495.4 129.4 L496.1 124.9 L496.7 120.3 L497.3 115.6 L498.0 110.7 L498.6 105.7 L499.2 100.7 L499.8 95.6 L500.5 90.5 L501.1 85.4 L501.7 80.3 L502.3 75.3 L503.0 70.3 L503.6 65.5 L504.2 60.8 L504.9 56.3 L505.5 52.0 L506.1 48.0 L506.7 44.3 L507.4 40.9 L508.0 37.9 L508.6 35.2 L509.3 33.0 L509.9 31.3 L510.5 30.0 L511.1 29.2 L511.8 28.9 L512.4 29.1 L513.0 29.8 L513.7 31.1 L514.3 32.8 L514.9 35.0 L515.5 37.6 L516.2 40.6 L516.8 44.0 L517.4 47.8 L518.0 51.8 L518.7 56.1 L519.3 60.7 L519.9 65.4 L520.6 70.3 L521.2 75.3 L521.8 80.4 L522.4 85.5 L523.1 90.6 L523.7 95.8 L524.3 100.9 L525.0 105.9 L525.6 110.8 L526.2 115.7 L526.8 120.4 L527.5 125.0 L528.1 129.4 L528.7 133.6 L529.4 137.7 L530.0 141.6 L530.6 145.2 L531.2 148.7 L531.9 152.0 L532.5 155.0 L533.1 157.9 L533.8 160.5 L534.4 163.0 L535.0 165.2 L535.6 167.2 L536.3 169.1 L536.9 170.7 L537.5 172.1 L538.1 173.4 L538.8 174.4 L539.4 175.3 L540.0 176.0 L540.7 176.6 L541.3 177.0 L541.9 177.2 L542.5 177.2 L543.2 177.2 L543.8 176.9 L544.4 176.6 L545.1 176.1 L545.7 175.4 L546.3 174.7 L546.9 173.8 L547.6 172.8 L548.2 171.7 L548.8 170.4 L549.5 169.1 L550.1 167.7 L550.7 166.2 L551.3 164.5 L552.0 162.8 L552.6 161.1 L553.2 159.2 L553.8 157.3 L554.5 155.3 L555.1 153.3 L555.7 151.2 L556.4 149.2 L557.0 147.1 L557.6 144.9 L558.2 142.8 L558.9 140.7 L559.5 138.7 L560.1 136.6 L560.8 134.6 L561.4 132.7 L562.0 130.8 L562.6 129.1 L563.3 127.4 L563.9 125.8 L564.5 124.4 L565.2 123.1 L565.8 121.9 L566.4 120.9 L567.0 120.1 L567.7 119.4 L568.3 118.9 L568.9 118.6 L569.6 118.5 L570.2 118.6 L570.8 119.0 L571.4 119.7 L572.1 120.7 L572.7 122.0 L573.3 123.5 L573.9 125.3 L574.6 127.3 L575.2 129.5 L575.8 131.8 L576.5 134.3 L577.1 137.0 L577.7 139.7 L578.3 142.5 L579.0 145.3 L579.6 148.2 L580.2 151.0 L580.9 153.9 L581.5 156.7 L582.1 159.5 L582.7 162.2 L583.4 164.8 L584.0 167.3 L584.6 169.8 L585.3 172.1 L585.9 174.3 L586.5 176.4 L587.1 178.4 L587.8 180.2 L588.4 182.0 L589.0 183.6 L589.6 185.1 L590.3 186.4 L590.9 187.7 L591.5 188.9 L592.2 189.9 L592.8 190.9 L593.4 191.8 L594.0 192.5 L594.7 193.2 L595.3 193.9 L595.9 194.5 L596.6 195.0 L597.2 195.4 L597.8 195.8 L598.4 196.2 L599.1 196.5 L599.7 196.8 L600.3 197.0 L601.0 197.3 L601.6 197.5 L602.2 197.6 L602.8 197.8 L603.5 197.9 L604.1 198.1 L604.7 198.2 L605.4 198.3 L606.0 198.4 L606.6 198.5 L607.2 198.5 L607.9 198.6 L608.5 198.7 L609.1 198.7 L609.7 198.8 L610.4 198.8 L611.0 198.9 L611.6 198.9 L612.3 199.0 L612.9 199.0 L613.5 199.1 L614.1 199.1 L614.8 199.1 L615.4 199.2 L616.0 199.2 L616.7 199.2 L617.3 199.3 L617.9 199.3 L618.5 199.3 L619.2 199.4 L619.8 199.4 L620.4 199.4 L621.1 199.5 L621.7 199.5 L622.3 199.5 L622.9 199.5 L623.6 199.6 L624.2 199.6 L624.8 199.6 L625.4 199.6 L626.1 199.7 L626.7 199.7 L627.3 199.7 L628.0 199.7 L628.6 199.8 L629.2 199.8 L629.8 199.8 L630.5 199.8 L631.1 199.8 L631.7 199.9 L632.4 199.9 L633.0 199.9 L633.6 199.9 L634.2 199.9 L634.9 200.0 L635.5 200.0 L636.1 200.0 L636.8 200.0 L637.4 200.0 L638.0 200.0 L638.6 200.1 L639.3 200.1 L639.9 200.1 L640.5 200.1 L641.2 200.1 L641.8 200.1 L642.4 200.2 L643.0 200.2 L643.7 200.2 L644.3 200.2 L644.9 200.2 L645.5 200.2 L646.2 200.2 L646.8 200.3 L647.4 200.3 L648.1 200.3 L648.7 200.3 L649.3 200.3 L649.9 200.3 L650.6 200.3 L651.2 200.4" fill="none" stroke="#d83434" stroke-width="1.4" stroke-linejoin="round"/>
<path d="M46.0 464.4a1.4 1.4 0 1 0 2.8 0a1.4 1.4 0 1 0 -2.8 0M47.0 462.6a1.4 1.4 0 1 0 2.8 0a1.4 1.4 0 1 0 -2.8 0M47.6 463.8a1.4 1.4 0 1 0 2.8 0a1.4 1.4 0 1 0 -2.8 0M48.6 463.4a1.4 1.4 0 1 0 2.8 0a1.4 1.4 0 1 0 -2.8 0M50.1 463.4a1.4 1.4 0 1 0 2.8 0a1.4 1.4 0 1 0 -2.8 0M50.6 463.6a1.4 1.4 0 1 0 2.8 0a1.4 1.4 0 1 0 -2.8 0M52.0 462.9a1.4 1.4 0 1 0 2.8 0a1.4 1.4 0 1 0 -2.8 0M52.8 463.6a1.4 1.4 0 1 0 2.8 0a1.4 1.4 0 1 0 -2.8 0M54.0 463.3a1.4 1.4 0 1 0 2.8 0a1.4 1.4 0 1 0 -2.8 0M54.9 465.0a1.4 1.4 0 1 0 2.8 0a1.4 1.4 0 1 0 -2.8 0M56.0 463.8a1.4 1.4 0 1 0 2.8 0a1.4 1.4 0 1 0 -2.8 0M57.0 463.6a1.4 1.4 0 1 0 2.8 0a1.4 1.4 0 1 0 -2.8 0M57.6 463.6a1.4 1.4 0 1 0 2.8 0a1.4 1.4 0 1 0 -2.8 0M58.9 463.5a1.4 1.4 0 1 0 2.8 0a1.4 1.4 0 1 0 -2.8 0M59.8 463.3a1.4 1.4 0 1 0 2.8 0a1.4 1.4 0 1 0 -2.8 0M60.9 463.6a1.4 1.4 0 1 0 2.8 0a1.4 1.4 0 1 0 -2.8 0M62.0 464.0a1.4 1.4 0 1 0 2.8 0a1.4 1.4 0 1 0 -2.8 0M62.7 463.7a1.4 1.4 0 1 0 2.8 0a1.4 1.4 0 1 0 -2.8 0M63.7 464.2a1.4 1.4 0 1 0 2.8 0a1.4 1.4 0 1 0 -2.8 0M64.7 463.7a1.4 1.4 0 1 0 2.8 0a1.4 1.4 0 1 0 -2.8 0M65.7 463.8a1.4 1.4 0 1 0 2.8 0a1.4 1.4 0 1 0 -2.8 0M66.9 464.4a1.4 1.4 0 1 0 2.8 0a1.4 1.4 0 1 0 -2.8 0M67.6 464.0a1.4 1.4 0 1 0 2.8 0a1.4 1.4 0 1 0 -2.8 0M69.0 463.6a1.4 1.4 0 1 0 2.8 0a1.4 1.4 0 1 0 -2.8 0M69.9 463.7a1.4 1.4 0 1 0 2.8 0a1.4 1.4 0 1 0 -2.8 0M70.8 464.0a1.4 1.4 0 1 0 2.8 0a1.4 1.4 0 1 0 -2.8 0M71.5 464.5a1.4 1.4 0 1 0 2.8 0a1.4 1.4 0 1 0 -2.8 0M72.8 463.6a1.4 1.4 0 1 0 2.8 0a1.4 1.4 0 1 0 -2.8 0M73.9 463.6a1.4 1.4 0 1 0 2.8 0a1.4 1.4 0 1 0 -2.8 0M74.4 464.1a1.4 1.4 0 1 0 2.8 0a1.4 1.4 0 1 0 -2.8 0M76.0 463.3a1.4 1.4 0 1 0 2.8 0a1.4 1.4 0 1 0 -2.8 0M77.1 463.6a1.4 1.4 0 1 0 2.8 0a1.4 1.4 0 1 0 -2.8 0M77.9 464.0a1.4 1.4 0 1 0 2.8 0a1.4 1.4 0 1 0 -2.8 0M78.9 463.9a1.4 1.4 0 1 0 2.8 0a1.4 1.4 0 1 0 -2.8 0M80.3 463.6a1.4 1.4 0 1 0 2.8 0a1.4 1.4 0 1 0 -2.8 0M81.0 463.8a1.4 1.4 0 1 0 2.8 0a1.4 1.4 0 1 0 -2.8 0M81.6 462.4a1.4 1.4 0 1 0 2.8 0a1.4 1.4 0 1 0 -2.8 0M82.8 463.9a1.4 1.4 0 1 0 2.8 0a1.4 1.4 0 1 0 -2.8 0M83.8 463.0a1.4 1.4 0 1 0 2.8 0a1.4 1.4 0 1 0 -2.8 0M84.8 462.7a1.4 1.4 0 1 0 2.8 0a1.4 1.4 0 1 0 -2.8 0M85.3 463.4a1.4 1.4 0 1 0 2.8 0a1.4 1.4 0 1 0 -2.8 0M86.9 463.5a1.4 1.4 0 1 0 2.8 0a1.4 1.4 0 1 0 -2.8 0M87.7 462.9a1.4 1.4 0 1 0 2.8 0a1.4 1.4 0 1 0 -2.8 0M88.8 462.5a1.4 1.4 0 1 0 2.8 0a1.4 1.4 0 1 0 -2.8 0M89.7 462.8a1.4 1.4 0 1 0 2.8 0a1.4 1.4 0 1 0 -2.8 0M90.9 462.7a1.4 1.4 0 1 0 2.8 0a1.4 1.4 0 1 0 -2.8 0M91.7 463.1a1.4 1.4 0 1 0 2.8 0a1.4 1.4 0 1 0 -2.8 0M92.6 462.6a1.4 1.4 0 1 0 2.8 0a1.4 1.4 0 1 0 -2.8 0M93.8 462.1a1.4 1.4 0 1 0 2.8 0a1.4 1.4 0 1 0 -2.8 0M94.9 462.2a1.4 1.4 0 1 0 2.8 0a1.4 1.4 0 1 0 -2.8 0M95.5 461.4a1.4 1.4 0 1 0 2.8 0a1.4 1.4 0 1 0 -2.8 0M96.8 460.8a1.4 1.4 0 1 0 2.8 0a1.4 1.4 0 1 0 -2.8 0M97.5 461.0a1.4 1.4 0 1 0 2.8 0a1.4 1.4 0 1 0 -2.8 0M98.3 460.5a1.4 1.4 0 1 0 2.8 0a1.4 1.4 0 1 0 -2.8 0M99.5 459.8a1.4 1.4 0 1 0 2.8 0a1.4 1.4 0 1 0 -2.8 0M99.9 459.0a1.4 1.4 0 1 0 2.8 0a1.4 1.4 0 1 0 -2.8 0M101.1 458.9a1.4 1.4 0 1 0 2.8 0a1.4 1.4 0 1 0 -2.8 0M101.7 457.2a1.4 1.4 0 1 0 2.8 0a1.4 1.4 0 1 0 -2.8 0M102.6 457.9a1.4 1.4 0 1 0 2.8 0a1.4 1.4 0 1 0 -2.8 0M103.0 457.1a1.4 1.4 0 1 0 2.8 0a1.4 1.4 0 1 0 -2.8 0M103.9 455.6a1.4 1.4 0 1 0 2.8 0a1.4 1.4 0 1 0 -2.8 0M104.9 455.6a1.4 1.4 0 1 0 2.8 0a1.4 1.4 0 1 0 -2.8 0M105.5 454.4a1.4 1.4 0 1 0 2.8 0a1.4 1.4 0 1 0 -2.8 0M106.1 454.4a1.4 1.4 0 1 0 2.8 0a1.4 1.4 0 1 0 -2.8 0M106.6 452.5a1.4 1.4 0 1 0 2.8 0a1.4 1.4 0 1 0 -2.8 0M107.4 452.1a1.4 1.4 0 1 0 2.8 0a1.4 1.4 0 1 0 -2.8 0M107.7 452.0a1.4 1.4 0 1 0 2.8 0a1.4 1.4 0 1 0 -2.8 0M108.3 451.4a1.4 1.4 0 1 0 2.8 0a1.4 1.4 0 1 0 -2.8 0M109.0 449.2a1.4 1.4 0 1 0 2.8 0a1.4 1.4 0 1 0 -2.8 0M109.5 449.0a1.4 1.4 0 1 0 2.8 0a1.4 1.4 0 1 0 -2.8 0M110.0 448.5a1.4 1.4 0 1 0 2.8 0a1.4 1.4 0 1 0 -2.8 0M110.7 447.3a1.4 1.4 0 1 0 2.8 0a1.4 1.4 0 1 0 -2.8 0M111.2 447.3a1.4 1.4 0 1 0 2.8 0a1.4 1.4 0 1 0 -2.8 0M111.7 445.3a1.4 1.4 0 1 0 2.8 0a1.4 1.4 0 1 0 -2.8 0M112.5 445.1a1.4 1.4 0 1 0 2.8 0a1.4 1.4 0 1 0 -2.8 0M112.9 443.6a1.4 1.4 0 1 0 2.8 0a1.4 1.4 0 1 0 -2.8 0M113.4 443.7a1.4 1.4 0 1 0 2.8 0a1.4 1.4 0 1 0 -2.8 0M113.6 442.3a1.4 1.4 0 1 0 2.8 0a1.4 1.4 0 1 0 -2.8 0M114.0 441.3a1.4 1.4 0 1 0 2.8 0a1.4 1.4 0 1 0 -2.8 0M114.3 439.8a1.4 1.4 0 1 0 2.8 0a1.4 1.4 0 1 0 -2.8 0M114.9 440.3a1.4 1.4 0 1 0 2.8 0a1.4 1.4 0 1 0 -2.8 0M115.0 439.0a1.4 1.4 0 1 0 2.8 0a1.4 1.4 0 1 0 -2.8 0M115.8 438.1a1.4 1.4 0 1 0 2.8 0a1.4 1.4 0 1 0 -2.8 0M116.5 437.4a1.4 1.4 0 1 0 2.8 0a1.4 1.4 0 1 0 -2.8 0M117.1 436.2a1.4 1.4 0 1 0 2.8 0a1.4 1.4 0 1 0 -2.8 0M117.4 434.9a1.4 1.4 0 1 0 2.8 0a1.4 1.4 0 1 0 -2.8 0M117.5 433.9a1.4 1.4 0 1 0 2.8 0a1.4 1.4 0 1 0 -2.8 0M118.2 433.0a1.4 1.4 0 1 0 2.8 0a1.4 1.4 0 1 0 -2.8 0M118.4 433.0a1.4 1.4 0 1 0 2.8 0a1.4 1.4 0 1 0 -2.8 0M119.2 431.0a1.4 1.4 0 1 0 2.8 0a1.4 1.4 0 1 0 -2.8 0M119.4 430.4a1.4 1.4 0 1 0 2.8 0a1.4 1.4 0 1 0 -2.8 0M120.1 429.7a1.4 1.4 0 1 0 2.8 0a1.4 1.4 0 1 0 -2.8 0M120.9 429.0a1.4 1.4 0 1 0 2.8 0a1.4 1.4 0 1 0 -2.8 0M121.0 428.2a1.4 1.4 0 1 0 2.8 0a1.4 1.4 0 1 0 -2.8 0M121.8 426.6a1.4 1.4 0 1 0 2.8 0a1.4 1.4 0 1 0 -2.8 0M121.8 425.6a1.4 1.4 0 1 0 2.8 0a1.4 1.4 0 1 0 -2.8 0M122.2 425.4a1.4 1.4 0 1 0 2.8 0a1.4 1.4 0 1 0 -2.8 0M123.1 425.0a1.4 1.4 0 1 0 2.8 0a1.4 1.4 0 1 0 -2.8 0M123.7 424.0a1.4 1.4 0 1 0 2.8 0a1.4 1.4 0 1 0 -2.8 0M123.8 423.0a1.4 1.4 0 1 0 2.8 0a1.4 1.4 0 1 0 -2.8 0M124.5 422.0a1.4 1.4 0 1 0 2.8 0a1.4 1.4 0 1 0 -2.8 0M124.9 421.4a1.4 1.4 0 1 0 2.8 0a1.4 1.4 0 1 0 -2.8 0M125.8 420.5a1.4 1.4 0 1 0 2.8 0a1.4 1.4 0 1 0 -2.8 0M126.8 420.3a1.4 1.4 0 1 0 2.8 0a1.4 1.4 0 1 0 -2.8 0M127.5 419.2a1.4 1.4 0 1 0 2.8 0a1.4 1.4 0 1 0 -2.8 0M128.4 419.3a1.4 1.4 0 1 0 2.8 0a1.4 1.4 0 1 0 -2.8 0M129.2 419.2a1.4 1.4 0 1 0 2.8 0a1.4 1.4 0 1 0 -2.8 0M130.5 419.7a1.4 1.4 0 1 0 2.8 0a1.4 1.4 0 1 0 -2.8 0M131.5 420.0a1.4 1.4 0 1 0 2.8 0a1.4 1.4 0 1 0 -2.8 0M132.3 421.5a1.4 1.4 0 1 0 2.8 0a1.4 1.4 0 1 0 -2.8 0M133.0 421.7a1.4 1.4 0 1 0 2.8 0a1.4 1.4 0 1 0 -2.8 0M133.4 422.4a1.4 1.4 0 1 0 2.8 0a1.4 1.4 0 1 0 -2.8 0M134.7 421.7a1.4 1.4 0 1 0 2.8 0a1.4 1.4 0 1 0 -2.8 0M135.0 423.2a1.4 1.4 0 1 0 2.8 0a1.4 1.4 0 1 0 -2.8 0M135.6 423.8a1.4 1.4 0 1 0 2.8 0a1.4 1.4 0 1 0 -2.8 0M136.4 425.1a1.4 1.4 0 1 0 2.8 0a1.4 1.4 0 1 0 -2.8 0M136.4 424.8a1.4 1.4 0 1 0 2.8 0a1.4 1.4 0 1 0 -2.8 0M137.3 427.0a1.4 1.4 0 1 0 2.8 0a1.4 1.4 0 1 0 -2.8 0M137.9 427.8a1.4 1.4 0 1 0 2.8 0a1.4 1.4 0 1 0 -2.8 0M138.5 427.7a1.4 1.4 0 1 0 2.8 0a1.4 1.4 0 1 0 -2.8 0M139.2 428.7a1.4 1.4 0 1 0 2.8 0a1.4 1.4 0 1 0 -2.8 0M139.6 429.6a1.4 1.4 0 1 0 2.8 0a1.4 1.4 0 1 0 -2.8 0M139.6 430.8a1.4 1.4 0 1 0 2.8 0a1.4 1.4 0 1 0 -2.8 0M140.4 431.9a1.4 1.4 0 1 0 2.8 0a1.4 1.4 0 1 0 -2.8 0M141.0 433.3a1.4 1.4 0 1 0 2.8 0a1.4 1.4 0 1 0 -2.8 0M141.5 433.3a1.4 1.4 0 1 0 2.8 0a1.4 1.4 0 1 0 -2.8 0M141.7 434.6a1.4 1.4 0 1 0 2.8 0a1.4 1.4 0 1 0 -2.8 0M142.1 435.2a1.4 1.4 0 1 0 2.8 0a1.4 1.4 0 1 0 -2.8 0M143.1 436.7a1.4 1.4 0 1 0 2.8 0a1.4 1.4 0 1 0 -2.8 0M143.5 437.2a1.4 1.4 0 1 0 2.8 0a1.4 1.4 0 1 0 -2.8 0M144.0 438.3a1.4 1.4 0 1 0 2.8 0a1.4 1.4 0 1 0 -2.8 0M144.1 438.2a1.4 1.4 0 1 0 2.8 0a1.4 1.4 0 1 0 -2.8 0M145.3 439.4a1.4 1.4 0 1 0 2.8 0a1.4 1.4 0 1 0 -2.8 0M144.9 440.0a1.4 1.4 0 1 0 2.8 0a1.4 1.4 0 1 0 -2.8 0M145.9 441.8a1.4 1.4 0 1 0 2.8 0a1.4 1.4 0 1 0 -2.8 0M146.9 442.3a1.4 1.4 0 1 0 2.8 0a1.4 1.4 0 1 0 -2.8 0M147.0 442.8a1.4 1.4 0 1 0 2.8 0a1.4 1.4 0 1 0 -2.8 0M147.6 443.6a1.4 1.4 0 1 0 2.8 0a1.4 1.4 0 1 0 -2.8 0M147.8 444.8a1.4 1.4 0 1 0 2.8 0a1.4 1.4 0 1 0 -2.8 0M148.9 445.2a1.4 1.4 0 1 0 2.8 0a1.4 1.4 0 1 0 -2.8 0M148.9 445.9a1.4 1.4 0 1 0 2.8 0a1.4 1.4 0 1 0 -2.8 0M149.7 447.3a1.4 1.4 0 1 0 2.8 0a1.4 1.4 0 1 0 -2.8 0M150.3 448.9a1.4 1.4 0 1 0 2.8 0a1.4 1.4 0 1 0 -2.8 0M150.6 448.7a1.4 1.4 0 1 0 2.8 0a1.4 1.4 0 1 0 -2.8 0M151.6 449.4a1.4 1.4 0 1 0 2.8 0a1.4 1.4 0 1 0 -2.8 0M151.7 449.9a1.4 1.4 0 1 0 2.8 0a1.4 1.4 0 1 0 -2.8 0M152.4 450.7a1.4 1.4 0 1 0 2.8 0a1.4 1.4 0 1 0 -2.8 0M153.2 452.2a1.4 1.4 0 1 0 2.8 0a1.4 1.4 0 1 0 -2.8 0M153.7 453.1a1.4 1.4 0 1 0 2.8 0a1.4 1.4 0 1 0 -2.8 0M154.6 453.5a1.4 1.4 0 1 0 2.8 0a1.4 1.4 0 1 0 -2.8 0M155.3 454.4a1.4 1.4 0 1 0 2.8 0a1.4 1.4 0 1 0 -2.8 0M155.8 455.0a1.4 1.4 0 1 0 2.8 0a1.4 1.4 0 1 0 -2.8 0M156.4 455.8a1.4 1.4 0 1 0 2.8 0a1.4 1.4 0 1 0 -2.8 0M157.1 455.8a1.4 1.4 0 1 0 2.8 0a1.4 1.4 0 1 0 -2.8 0M157.9 456.9a1.4 1.4 0 1 0 2.8 0a1.4 1.4 0 1 0 -2.8 0M158.9 457.8a1.4 1.4 0 1 0 2.8 0a1.4 1.4 0 1 0 -2.8 0M159.4 458.1a1.4 1.4 0 1 0 2.8 0a1.4 1.4 0 1 0 -2.8 0M160.4 458.8a1.4 1.4 0 1 0 2.8 0a1.4 1.4 0 1 0 -2.8 0M161.1 459.2a1.4 1.4 0 1 0 2.8 0a1.4 1.4 0 1 0 -2.8 0M161.8 460.0a1.4 1.4 0 1 0 2.8 0a1.4 1.4 0 1 0 -2.8 0M163.0 461.0a1.4 1.4 0 1 0 2.8 0a1.4 1.4 0 1 0 -2.8 0M163.4 461.0a1.4 1.4 0 1 0 2.8 0a1.4 1.4 0 1 0 -2.8 0M164.5 461.5a1.4 1.4 0 1 0 2.8 0a1.4 1.4 0 1 0 -2.8 0M165.7 462.4a1.4 1.4 0 1 0 2.8 0a1.4 1.4 0 1 0 -2.8 0M166.1 462.7a1.4 1.4 0 1 0 2.8 0a1.4 1.4 0 1 0 -2.8 0M167.3 463.5a1.4 1.4 0 1 0 2.8 0a1.4 1.4 0 1 0 -2.8 0M167.9 462.3a1.4 1.4 0 1 0 2.8 0a1.4 1.4 0 1 0 -2.8 0M169.1 463.8a1.4 1.4 0 1 0 2.8 0a1.4 1.4 0 1 0 -2.8 0M169.9 463.5a1.4 1.4 0 1 0 2.8 0a1.4 1.4 0 1 0 -2.8 0M171.1 464.0a1.4 1.4 0 1 0 2.8 0a1.4 1.4 0 1 0 -2.8 0M172.0 464.5a1.4 1.4 0 1 0 2.8 0a1.4 1.4 0 1 0 -2.8 0M173.1 464.8a1.4 1.4 0 1 0 2.8 0a1.4 1.4 0 1 0 -2.8 0M174.4 464.9a1.4 1.4 0 1 0 2.8 0a1.4 1.4 0 1 0 -2.8 0M175.1 464.7a1.4 1.4 0 1 0 2.8 0a1.4 1.4 0 1 0 -2.8 0M176.2 465.5a1.4 1.4 0 1 0 2.8 0a1.4 1.4 0 1 0 -2.8 0M177.0 464.8a1.4 1.4 0 1 0 2.8 0a1.4 1.4 0 1 0 -2.8 0M178.0 465.0a1.4 1.4 0 1 0 2.8 0a1.4 1.4 0 1 0 -2.8 0M178.9 465.4a1.4 1.4 0 1 0 2.8 0a1.4 1.4 0 1 0 -2.8 0M179.7 465.0a1.4 1.4 0 1 0 2.8 0a1.4 1.4 0 1 0 -2.8 0M181.0 466.1a1.4 1.4 0 1 0 2.8 0a1.4 1.4 0 1 0 -2.8 0M182.4 465.7a1.4 1.4 0 1 0 2.8 0a1.4 1.4 0 1 0 -2.8 0M183.1 466.2a1.4 1.4 0 1 0 2.8 0a1.4 1.4 0 1 0 -2.8 0M183.9 465.3a1.4 1.4 0 1 0 2.8 0a1.4 1.4 0 1 0 -2.8 0M185.4 465.2a1.4 1.4 0 1 0 2.8 0a1.4 1.4 0 1 0 -2.8 0M185.9 465.4a1.4 1.4 0 1 0 2.8 0a1.4 1.4 0 1 0 -2.8 0M186.9 465.6a1.4 1.4 0 1 0 2.8 0a1.4 1.4 0 1 0 -2.8 0M187.8 465.1a1.4 1.4 0 1 0 2.8 0a1.4 1.4 0 1 0 -2.8 0M188.8 465.4a1.4 1.4 0 1 0 2.8 0a1.4 1.4 0 1 0 -2.8 0M190.0 465.2a1.4 1.4 0 1 0 2.8 0a1.4 1.4 0 1 0 -2.8 0M191.4 465.8a1.4 1.4 0 1 0 2.8 0a1.4 1.4 0 1 0 -2.8 0M192.0 464.7a1.4 1.4 0 1 0 2.8 0a1.4 1.4 0 1 0 -2.8 0M192.8 465.3a1.4 1.4 0 1 0 2.8 0a1.4 1.4 0 1 0 -2.8 0M193.9 464.4a1.4 1.4 0 1 0 2.8 0a1.4 1.4 0 1 0 -2.8 0M194.9 464.0a1.4 1.4 0 1 0 2.8 0a1.4 1.4 0 1 0 -2.8 0M195.5 463.7a1.4 1.4 0 1 0 2.8 0a1.4 1.4 0 1 0 -2.8 0M196.8 463.1a1.4 1.4 0 1 0 2.8 0a1.4 1.4 0 1 0 -2.8 0M197.7 463.1a1.4 1.4 0 1 0 2.8 0a1.4 1.4 0 1 0 -2.8 0M198.5 462.8a1.4 1.4 0 1 0 2.8 0a1.4 1.4 0 1 0 -2.8 0M199.2 461.8a1.4 1.4 0 1 0 2.8 0a1.4 1.4 0 1 0 -2.8 0M199.5 461.2a1.4 1.4 0 1 0 2.8 0a1.4 1.4 0 1 0 -2.8 0M200.0 460.8a1.4 1.4 0 1 0 2.8 0a1.4 1.4 0 1 0 -2.8 0M201.1 459.4a1.4 1.4 0 1 0 2.8 0a1.4 1.4 0 1 0 -2.8 0M201.6 458.5a1.4 1.4 0 1 0 2.8 0a1.4 1.4 0 1 0 -2.8 0M201.5 457.4a1.4 1.4 0 1 0 2.8 0a1.4 1.4 0 1 0 -2.8 0M202.2 455.9a1.4 1.4 0 1 0 2.8 0a1.4 1.4 0 1 0 -2.8 0M202.6 455.9a1.4 1.4 0 1 0 2.8 0a1.4 1.4 0 1 0 -2.8 0M203.0 454.0a1.4 1.4 0 1 0 2.8 0a1.4 1.4 0 1 0 -2.8 0M203.3 454.0a1.4 1.4 0 1 0 2.8 0a1.4 1.4 0 1 0 -2.8 0M203.4 452.8a1.4 1.4 0 1 0 2.8 0a1.4 1.4 0 1 0 -2.8 0M203.9 452.3a1.4 1.4 0 1 0 2.8 0a1.4 1.4 0 1 0 -2.8 0M204.1 450.9a1.4 1.4 0 1 0 2.8 0a1.4 1.4 0 1 0 -2.8 0M204.3 449.6a1.4 1.4 0 1 0 2.8 0a1.4 1.4 0 1 0 -2.8 0M204.2 449.1a1.4 1.4 0 1 0 2.8 0a1.4 1.4 0 1 0 -2.8 0M204.2 447.8a1.4 1.4 0 1 0 2.8 0a1.4 1.4 0 1 0 -2.8 0M204.9 446.9a1.4 1.4 0 1 0 2.8 0a1.4 1.4 0 1 0 -2.8 0M204.9 446.0a1.4 1.4 0 1 0 2.8 0a1.4 1.4 0 1 0 -2.8 0M205.5 445.0a1.4 1.4 0 1 0 2.8 0a1.4 1.4 0 1 0 -2.8 0M205.8 444.0a1.4 1.4 0 1 0 2.8 0a1.4 1.4 0 1 0 -2.8 0M205.9 442.8a1.4 1.4 0 1 0 2.8 0a1.4 1.4 0 1 0 -2.8 0M206.0 442.0a1.4 1.4 0 1 0 2.8 0a1.4 1.4 0 1 0 -2.8 0M206.2 440.3a1.4 1.4 0 1 0 2.8 0a1.4 1.4 0 1 0 -2.8 0M206.6 440.1a1.4 1.4 0 1 0 2.8 0a1.4 1.4 0 1 0 -2.8 0M206.4 438.7a1.4 1.4 0 1 0 2.8 0a1.4 1.4 0 1 0 -2.8 0M206.9 438.6a1.4 1.4 0 1 0 2.8 0a1.4 1.4 0 1 0 -2.8 0M207.0 437.7a1.4 1.4 0 1 0 2.8 0a1.4 1.4 0 1 0 -2.8 0M207.1 435.4a1.4 1.4 0 1 0 2.8 0a1.4 1.4 0 1 0 -2.8 0M207.5 435.3a1.4 1.4 0 1 0 2.8 0a1.4 1.4 0 1 0 -2.8 0M207.2 434.2a1.4 1.4 0 1 0 2.8 0a1.4 1.4 0 1 0 -2.8 0M207.7 432.8a1.4 1.4 0 1 0 2.8 0a1.4 1.4 0 1 0 -2.8 0M207.5 432.4a1.4 1.4 0 1 0 2.8 0a1.4 1.4 0 1 0 -2.8 0M207.6 431.1a1.4 1.4 0 1 0 2.8 0a1.4 1.4 0 1 0 -2.8 0M207.7 429.5a1.4 1.4 0 1 0 2.8 0a1.4 1.4 0 1 0 -2.8 0M208.2 429.2a1.4 1.4 0 1 0 2.8 0a1.4 1.4 0 1 0 -2.8 0M208.0 428.2a1.4 1.4 0 1 0 2.8 0a1.4 1.4 0 1 0 -2.8 0M208.3 427.3a1.4 1.4 0 1 0 2.8 0a1.4 1.4 0 1 0 -2.8 0M208.2 425.8a1.4 1.4 0 1 0 2.8 0a1.4 1.4 0 1 0 -2.8 0M208.8 425.5a1.4 1.4 0 1 0 2.8 0a1.4 1.4 0 1 0 -2.8 0M209.1 424.6a1.4 1.4 0 1 0 2.8 0a1.4 1.4 0 1 0 -2.8 0M208.9 422.9a1.4 1.4 0 1 0 2.8 0a1.4 1.4 0 1 0 -2.8 0M209.3 422.1a1.4 1.4 0 1 0 2.8 0a1.4 1.4 0 1 0 -2.8 0M209.2 421.3a1.4 1.4 0 1 0 2.8 0a1.4 1.4 0 1 0 -2.8 0M209.6 420.1a1.4 1.4 0 1 0 2.8 0a1.4 1.4 0 1 0 -2.8 0M209.3 420.0a1.4 1.4 0 1 0 2.8 0a1.4 1.4 0 1 0 -2.8 0M209.1 418.4a1.4 1.4 0 1 0 2.8 0a1.4 1.4 0 1 0 -2.8 0M209.8 416.9a1.4 1.4 0 1 0 2.8 0a1.4 1.4 0 1 0 -2.8 0M209.6 416.0a1.4 1.4 0 1 0 2.8 0a1.4 1.4 0 1 0 -2.8 0M209.5 415.3a1.4 1.4 0 1 0 2.8 0a1.4 1.4 0 1 0 -2.8 0M209.7 415.3a1.4 1.4 0 1 0 2.8 0a1.4 1.4 0 1 0 -2.8 0M209.6 413.3a1.4 1.4 0 1 0 2.8 0a1.4 1.4 0 1 0 -2.8 0M210.0 412.4a1.4 1.4 0 1 0 2.8 0a1.4 1.4 0 1 0 -2.8 0M210.0 411.6a1.4 1.4 0 1 0 2.8 0a1.4 1.4 0 1 0 -2.8 0M210.6 410.4a1.4 1.4 0 1 0 2.8 0a1.4 1.4 0 1 0 -2.8 0M210.5 410.3a1.4 1.4 0 1 0 2.8 0a1.4 1.4 0 1 0 -2.8 0M210.1 408.2a1.4 1.4 0 1 0 2.8 0a1.4 1.4 0 1 0 -2.8 0M210.3 407.7a1.4 1.4 0 1 0 2.8 0a1.4 1.4 0 1 0 -2.8 0M210.6 406.5a1.4 1.4 0 1 0 2.8 0a1.4 1.4 0 1 0 -2.8 0M210.4 405.7a1.4 1.4 0 1 0 2.8 0a1.4 1.4 0 1 0 -2.8 0M210.9 404.0a1.4 1.4 0 1 0 2.8 0a1.4 1.4 0 1 0 -2.8 0M211.0 404.1a1.4 1.4 0 1 0 2.8 0a1.4 1.4 0 1 0 -2.8 0M210.9 402.4a1.4 1.4 0 1 0 2.8 0a1.4 1.4 0 1 0 -2.8 0M211.1 401.4a1.4 1.4 0 1 0 2.8 0a1.4 1.4 0 1 0 -2.8 0M211.4 400.1a1.4 1.4 0 1 0 2.8 0a1.4 1.4 0 1 0 -2.8 0M211.6 399.2a1.4 1.4 0 1 0 2.8 0a1.4 1.4 0 1 0 -2.8 0M211.7 398.7a1.4 1.4 0 1 0 2.8 0a1.4 1.4 0 1 0 -2.8 0M211.5 397.8a1.4 1.4 0 1 0 2.8 0a1.4 1.4 0 1 0 -2.8 0M211.8 396.8a1.4 1.4 0 1 0 2.8 0a1.4 1.4 0 1 0 -2.8 0M211.6 395.9a1.4 1.4 0 1 0 2.8 0a1.4 1.4 0 1 0 -2.8 0M211.9 394.8a1.4 1.4 0 1 0 2.8 0a1.4 1.4 0 1 0 -2.8 0M211.7 393.5a1.4 1.4 0 1 0 2.8 0a1.4 1.4 0 1 0 -2.8 0M212.1 392.8a1.4 1.4 0 1 0 2.8 0a1.4 1.4 0 1 0 -2.8 0M211.8 391.7a1.4 1.4 0 1 0 2.8 0a1.4 1.4 0 1 0 -2.8 0M212.0 390.4a1.4 1.4 0 1 0 2.8 0a1.4 1.4 0 1 0 -2.8 0M212.3 389.8a1.4 1.4 0 1 0 2.8 0a1.4 1.4 0 1 0 -2.8 0M212.5 389.0a1.4 1.4 0 1 0 2.8 0a1.4 1.4 0 1 0 -2.8 0M212.2 387.6a1.4 1.4 0 1 0 2.8 0a1.4 1.4 0 1 0 -2.8 0M212.4 386.4a1.4 1.4 0 1 0 2.8 0a1.4 1.4 0 1 0 -2.8 0M212.6 385.8a1.4 1.4 0 1 0 2.8 0a1.4 1.4 0 1 0 -2.8 0M212.7 385.3a1.4 1.4 0 1 0 2.8 0a1.4 1.4 0 1 0 -2.8 0M212.6 383.4a1.4 1.4 0 1 0 2.8 0a1.4 1.4 0 1 0 -2.8 0M212.9 382.5a1.4 1.4 0 1 0 2.8 0a1.4 1.4 0 1 0 -2.8 0M212.9 381.5a1.4 1.4 0 1 0 2.8 0a1.4 1.4 0 1 0 -2.8 0M213.3 381.0a1.4 1.4 0 1 0 2.8 0a1.4 1.4 0 1 0 -2.8 0M213.2 378.8a1.4 1.4 0 1 0 2.8 0a1.4 1.4 0 1 0 -2.8 0M212.9 378.7a1.4 1.4 0 1 0 2.8 0a1.4 1.4 0 1 0 -2.8 0M212.9 378.0a1.4 1.4 0 1 0 2.8 0a1.4 1.4 0 1 0 -2.8 0M213.4 376.2a1.4 1.4 0 1 0 2.8 0a1.4 1.4 0 1 0 -2.8 0M213.7 376.1a1.4 1.4 0 1 0 2.8 0a1.4 1.4 0 1 0 -2.8 0M213.6 374.8a1.4 1.4 0 1 0 2.8 0a1.4 1.4 0 1 0 -2.8 0M213.8 373.3a1.4 1.4 0 1 0 2.8 0a1.4 1.4 0 1 0 -2.8 0M213.6 372.6a1.4 1.4 0 1 0 2.8 0a1.4 1.4 0 1 0 -2.8 0M213.5 370.9a1.4 1.4 0 1 0 2.8 0a1.4 1.4 0 1 0 -2.8 0M214.0 370.3a1.4 1.4 0 1 0 2.8 0a1.4 1.4 0 1 0 -2.8 0M214.0 370.3a1.4 1.4 0 1 0 2.8 0a1.4 1.4 0 1 0 -2.8 0M214.2 368.2a1.4 1.4 0 1 0 2.8 0a1.4 1.4 0 1 0 -2.8 0M213.9 368.3a1.4 1.4 0 1 0 2.8 0a1.4 1.4 0 1 0 -2.8 0M214.3 366.5a1.4 1.4 0 1 0 2.8 0a1.4 1.4 0 1 0 -2.8 0M214.2 366.0a1.4 1.4 0 1 0 2.8 0a1.4 1.4 0 1 0 -2.8 0M214.6 364.6a1.4 1.4 0 1 0 2.8 0a1.4 1.4 0 1 0 -2.8 0M214.4 362.7a1.4 1.4 0 1 0 2.8 0a1.4 1.4 0 1 0 -2.8 0M214.4 362.4a1.4 1.4 0 1 0 2.8 0a1.4 1.4 0 1 0 -2.8 0M214.5 361.7a1.4 1.4 0 1 0 2.8 0a1.4 1.4 0 1 0 -2.8 0M215.0 360.1a1.4 1.4 0 1 0 2.8 0a1.4 1.4 0 1 0 -2.8 0M214.8 359.1a1.4 1.4 0 1 0 2.8 0a1.4 1.4 0 1 0 -2.8 0M214.7 358.7a1.4 1.4 0 1 0 2.8 0a1.4 1.4 0 1 0 -2.8 0M214.8 357.3a1.4 1.4 0 1 0 2.8 0a1.4 1.4 0 1 0 -2.8 0M214.9 355.9a1.4 1.4 0 1 0 2.8 0a1.4 1.4 0 1 0 -2.8 0M215.4 355.3a1.4 1.4 0 1 0 2.8 0a1.4 1.4 0 1 0 -2.8 0M214.9 355.0a1.4 1.4 0 1 0 2.8 0a1.4 1.4 0 1 0 -2.8 0M215.2 353.4a1.4 1.4 0 1 0 2.8 0a1.4 1.4 0 1 0 -2.8 0M215.5 353.0a1.4 1.4 0 1 0 2.8 0a1.4 1.4 0 1 0 -2.8 0M215.7 352.2a1.4 1.4 0 1 0 2.8 0a1.4 1.4 0 1 0 -2.8 0M215.5 350.6a1.4 1.4 0 1 0 2.8 0a1.4 1.4 0 1 0 -2.8 0M215.8 349.2a1.4 1.4 0 1 0 2.8 0a1.4 1.4 0 1 0 -2.8 0M215.9 348.1a1.4 1.4 0 1 0 2.8 0a1.4 1.4 0 1 0 -2.8 0M216.0 347.6a1.4 1.4 0 1 0 2.8 0a1.4 1.4 0 1 0 -2.8 0M215.9 347.0a1.4 1.4 0 1 0 2.8 0a1.4 1.4 0 1 0 -2.8 0M216.3 345.8a1.4 1.4 0 1 0 2.8 0a1.4 1.4 0 1 0 -2.8 0M216.1 344.9a1.4 1.4 0 1 0 2.8 0a1.4 1.4 0 1 0 -2.8 0M216.5 343.5a1.4 1.4 0 1 0 2.8 0a1.4 1.4 0 1 0 -2.8 0M216.1 342.8a1.4 1.4 0 1 0 2.8 0a1.4 1.4 0 1 0 -2.8 0M216.6 341.5a1.4 1.4 0 1 0 2.8 0a1.4 1.4 0 1 0 -2.8 0M216.2 340.5a1.4 1.4 0 1 0 2.8 0a1.4 1.4 0 1 0 -2.8 0M216.3 339.2a1.4 1.4 0 1 0 2.8 0a1.4 1.4 0 1 0 -2.8 0M216.8 338.0a1.4 1.4 0 1 0 2.8 0a1.4 1.4 0 1 0 -2.8 0M216.6 337.5a1.4 1.4 0 1 0 2.8 0a1.4 1.4 0 1 0 -2.8 0M216.9 336.2a1.4 1.4 0 1 0 2.8 0a1.4 1.4 0 1 0 -2.8 0M216.7 335.3a1.4 1.4 0 1 0 2.8 0a1.4 1.4 0 1 0 -2.8 0M217.4 335.0a1.4 1.4 0 1 0 2.8 0a1.4 1.4 0 1 0 -2.8 0M217.1 333.7a1.4 1.4 0 1 0 2.8 0a1.4 1.4 0 1 0 -2.8 0M217.0 333.9a1.4 1.4 0 1 0 2.8 0a1.4 1.4 0 1 0 -2.8 0M217.4 332.1a1.4 1.4 0 1 0 2.8 0a1.4 1.4 0 1 0 -2.8 0M217.6 330.5a1.4 1.4 0 1 0 2.8 0a1.4 1.4 0 1 0 -2.8 0M217.4 330.0a1.4 1.4 0 1 0 2.8 0a1.4 1.4 0 1 0 -2.8 0M217.7 328.9a1.4 1.4 0 1 0 2.8 0a1.4 1.4 0 1 0 -2.8 0M218.2 327.5a1.4 1.4 0 1 0 2.8 0a1.4 1.4 0 1 0 -2.8 0M218.0 327.2a1.4 1.4 0 1 0 2.8 0a1.4 1.4 0 1 0 -2.8 0M218.0 325.4a1.4 1.4 0 1 0 2.8 0a1.4 1.4 0 1 0 -2.8 0M218.0 323.5a1.4 1.4 0 1 0 2.8 0a1.4 1.4 0 1 0 -2.8 0M218.3 324.1a1.4 1.4 0 1 0 2.8 0a1.4 1.4 0 1 0 -2.8 0M218.0 322.5a1.4 1.4 0 1 0 2.8 0a1.4 1.4 0 1 0 -2.8 0M217.8 322.4a1.4 1.4 0 1 0 2.8 0a1.4 1.4 0 1 0 -2.8 0M218.4 320.5a1.4 1.4 0 1 0 2.8 0a1.4 1.4 0 1 0 -2.8 0M218.5 319.3a1.4 1.4 0 1 0 2.8 0a1.4 1.4 0 1 0 -2.8 0M219.2 319.4a1.4 1.4 0 1 0 2.8 0a1.4 1.4 0 1 0 -2.8 0M219.0 317.4a1.4 1.4 0 1 0 2.8 0a1.4 1.4 0 1 0 -2.8 0M218.9 316.9a1.4 1.4 0 1 0 2.8 0a1.4 1.4 0 1 0 -2.8 0M219.0 316.4a1.4 1.4 0 1 0 2.8 0a1.4 1.4 0 1 0 -2.8 0M219.5 314.9a1.4 1.4 0 1 0 2.8 0a1.4 1.4 0 1 0 -2.8 0M219.4 313.8a1.4 1.4 0 1 0 2.8 0a1.4 1.4 0 1 0 -2.8 0M219.6 312.9a1.4 1.4 0 1 0 2.8 0a1.4 1.4 0 1 0 -2.8 0M219.9 312.2a1.4 1.4 0 1 0 2.8 0a1.4 1.4 0 1 0 -2.8 0M220.1 310.6a1.4 1.4 0 1 0 2.8 0a1.4 1.4 0 1 0 -2.8 0M220.4 310.2a1.4 1.4 0 1 0 2.8 0a1.4 1.4 0 1 0 -2.8 0M220.6 309.2a1.4 1.4 0 1 0 2.8 0a1.4 1.4 0 1 0 -2.8 0M221.2 309.0a1.4 1.4 0 1 0 2.8 0a1.4 1.4 0 1 0 -2.8 0M221.8 307.0a1.4 1.4 0 1 0 2.8 0a1.4 1.4 0 1 0 -2.8 0M222.0 306.9a1.4 1.4 0 1 0 2.8 0a1.4 1.4 0 1 0 -2.8 0M223.3 308.4a1.4 1.4 0 1 0 2.8 0a1.4 1.4 0 1 0 -2.8 0M223.2 308.9a1.4 1.4 0 1 0 2.8 0a1.4 1.4 0 1 0 -2.8 0M223.7 310.1a1.4 1.4 0 1 0 2.8 0a1.4 1.4 0 1 0 -2.8 0M223.6 311.0a1.4 1.4 0 1 0 2.8 0a1.4 1.4 0 1 0 -2.8 0M224.0 312.4a1.4 1.4 0 1 0 2.8 0a1.4 1.4 0 1 0 -2.8 0M224.2 312.7a1.4 1.4 0 1 0 2.8 0a1.4 1.4 0 1 0 -2.8 0M224.4 313.9a1.4 1.4 0 1 0 2.8 0a1.4 1.4 0 1 0 -2.8 0M224.7 313.9a1.4 1.4 0 1 0 2.8 0a1.4 1.4 0 1 0 -2.8 0M224.8 315.5a1.4 1.4 0 1 0 2.8 0a1.4 1.4 0 1 0 -2.8 0M224.7 317.5a1.4 1.4 0 1 0 2.8 0a1.4 1.4 0 1 0 -2.8 0M225.0 317.6a1.4 1.4 0 1 0 2.8 0a1.4 1.4 0 1 0 -2.8 0M225.3 318.6a1.4 1.4 0 1 0 2.8 0a1.4 1.4 0 1 0 -2.8 0M225.4 319.3a1.4 1.4 0 1 0 2.8 0a1.4 1.4 0 1 0 -2.8 0M225.4 321.0a1.4 1.4 0 1 0 2.8 0a1.4 1.4 0 1 0 -2.8 0M225.5 321.9a1.4 1.4 0 1 0 2.8 0a1.4 1.4 0 1 0 -2.8 0M225.7 322.3a1.4 1.4 0 1 0 2.8 0a1.4 1.4 0 1 0 -2.8 0M225.6 324.1a1.4 1.4 0 1 0 2.8 0a1.4 1.4 0 1 0 -2.8 0M225.7 324.9a1.4 1.4 0 1 0 2.8 0a1.4 1.4 0 1 0 -2.8 0M226.4 326.1a1.4 1.4 0 1 0 2.8 0a1.4 1.4 0 1 0 -2.8 0M226.1 326.5a1.4 1.4 0 1 0 2.8 0a1.4 1.4 0 1 0 -2.8 0M226.4 328.5a1.4 1.4 0 1 0 2.8 0a1.4 1.4 0 1 0 -2.8 0M226.3 328.9a1.4 1.4 0 1 0 2.8 0a1.4 1.4 0 1 0 -2.8 0M226.8 329.7a1.4 1.4 0 1 0 2.8 0a1.4 1.4 0 1 0 -2.8 0M227.0 330.5a1.4 1.4 0 1 0 2.8 0a1.4 1.4 0 1 0 -2.8 0M226.8 331.6a1.4 1.4 0 1 0 2.8 0a1.4 1.4 0 1 0 -2.8 0M227.0 333.1a1.4 1.4 0 1 0 2.8 0a1.4 1.4 0 1 0 -2.8 0M226.9 333.6a1.4 1.4 0 1 0 2.8 0a1.4 1.4 0 1 0 -2.8 0M227.5 335.1a1.4 1.4 0 1 0 2.8 0a1.4 1.4 0 1 0 -2.8 0M227.4 335.9a1.4 1.4 0 1 0 2.8 0a1.4 1.4 0 1 0 -2.8 0M227.2 337.2a1.4 1.4 0 1 0 2.8 0a1.4 1.4 0 1 0 -2.8 0M227.7 338.0a1.4 1.4 0 1 0 2.8 0a1.4 1.4 0 1 0 -2.8 0M227.6 338.7a1.4 1.4 0 1 0 2.8 0a1.4 1.4 0 1 0 -2.8 0M227.7 338.9a1.4 1.4 0 1 0 2.8 0a1.4 1.4 0 1 0 -2.8 0M227.8 340.8a1.4 1.4 0 1 0 2.8 0a1.4 1.4 0 1 0 -2.8 0M227.7 342.0a1.4 1.4 0 1 0 2.8 0a1.4 1.4 0 1 0 -2.8 0M227.8 342.7a1.4 1.4 0 1 0 2.8 0a1.4 1.4 0 1 0 -2.8 0M228.2 343.9a1.4 1.4 0 1 0 2.8 0a1.4 1.4 0 1 0 -2.8 0M228.1 344.5a1.4 1.4 0 1 0 2.8 0a1.4 1.4 0 1 0 -2.8 0M228.1 345.5a1.4 1.4 0 1 0 2.8 0a1.4 1.4 0 1 0 -2.8 0M228.8 346.3a1.4 1.4 0 1 0 2.8 0a1.4 1.4 0 1 0 -2.8 0M228.4 348.2a1.4 1.4 0 1 0 2.8 0a1.4 1.4 0 1 0 -2.8 0M228.4 348.7a1.4 1.4 0 1 0 2.8 0a1.4 1.4 0 1 0 -2.8 0M228.5 349.4a1.4 1.4 0 1 0 2.8 0a1.4 1.4 0 1 0 -2.8 0M228.9 350.1a1.4 1.4 0 1 0 2.8 0a1.4 1.4 0 1 0 -2.8 0M229.0 351.6a1.4 1.4 0 1 0 2.8 0a1.4 1.4 0 1 0 -2.8 0M229.0 353.2a1.4 1.4 0 1 0 2.8 0a1.4 1.4 0 1 0 -2.8 0M229.2 353.8a1.4 1.4 0 1 0 2.8 0a1.4 1.4 0 1 0 -2.8 0M228.8 354.3a1.4 1.4 0 1 0 2.8 0a1.4 1.4 0 1 0 -2.8 0M229.1 356.2a1.4 1.4 0 1 0 2.8 0a1.4 1.4 0 1 0 -2.8 0M229.2 357.2a1.4 1.4 0 1 0 2.8 0a1.4 1.4 0 1 0 -2.8 0M229.4 358.0a1.4 1.4 0 1 0 2.8 0a1.4 1.4 0 1 0 -2.8 0M229.6 358.9a1.4 1.4 0 1 0 2.8 0a1.4 1.4 0 1 0 -2.8 0M229.2 360.1a1.4 1.4 0 1 0 2.8 0a1.4 1.4 0 1 0 -2.8 0M230.3 360.8a1.4 1.4 0 1 0 2.8 0a1.4 1.4 0 1 0 -2.8 0M229.6 361.9a1.4 1.4 0 1 0 2.8 0a1.4 1.4 0 1 0 -2.8 0M229.9 362.3a1.4 1.4 0 1 0 2.8 0a1.4 1.4 0 1 0 -2.8 0M230.1 364.2a1.4 1.4 0 1 0 2.8 0a1.4 1.4 0 1 0 -2.8 0M230.2 364.7a1.4 1.4 0 1 0 2.8 0a1.4 1.4 0 1 0 -2.8 0M230.2 366.4a1.4 1.4 0 1 0 2.8 0a1.4 1.4 0 1 0 -2.8 0M229.6 365.7a1.4 1.4 0 1 0 2.8 0a1.4 1.4 0 1 0 -2.8 0M230.1 367.8a1.4 1.4 0 1 0 2.8 0a1.4 1.4 0 1 0 -2.8 0M230.6 368.9a1.4 1.4 0 1 0 2.8 0a1.4 1.4 0 1 0 -2.8 0M230.3 369.4a1.4 1.4 0 1 0 2.8 0a1.4 1.4 0 1 0 -2.8 0M230.4 370.7a1.4 1.4 0 1 0 2.8 0a1.4 1.4 0 1 0 -2.8 0M230.2 371.8a1.4 1.4 0 1 0 2.8 0a1.4 1.4 0 1 0 -2.8 0M231.0 372.8a1.4 1.4 0 1 0 2.8 0a1.4 1.4 0 1 0 -2.8 0M231.0 373.3a1.4 1.4 0 1 0 2.8 0a1.4 1.4 0 1 0 -2.8 0M230.8 374.5a1.4 1.4 0 1 0 2.8 0a1.4 1.4 0 1 0 -2.8 0M231.0 375.9a1.4 1.4 0 1 0 2.8 0a1.4 1.4 0 1 0 -2.8 0M231.1 377.0a1.4 1.4 0 1 0 2.8 0a1.4 1.4 0 1 0 -2.8 0M231.0 377.6a1.4 1.4 0 1 0 2.8 0a1.4 1.4 0 1 0 -2.8 0M231.3 378.5a1.4 1.4 0 1 0 2.8 0a1.4 1.4 0 1 0 -2.8 0M231.5 379.6a1.4 1.4 0 1 0 2.8 0a1.4 1.4 0 1 0 -2.8 0M231.6 380.9a1.4 1.4 0 1 0 2.8 0a1.4 1.4 0 1 0 -2.8 0M231.8 381.1a1.4 1.4 0 1 0 2.8 0a1.4 1.4 0 1 0 -2.8 0M231.7 382.0a1.4 1.4 0 1 0 2.8 0a1.4 1.4 0 1 0 -2.8 0M231.7 383.5a1.4 1.4 0 1 0 2.8 0a1.4 1.4 0 1 0 -2.8 0M232.0 384.0a1.4 1.4 0 1 0 2.8 0a1.4 1.4 0 1 0 -2.8 0M231.8 385.2a1.4 1.4 0 1 0 2.8 0a1.4 1.4 0 1 0 -2.8 0M231.8 386.5a1.4 1.4 0 1 0 2.8 0a1.4 1.4 0 1 0 -2.8 0M232.4 387.7a1.4 1.4 0 1 0 2.8 0a1.4 1.4 0 1 0 -2.8 0M232.2 388.0a1.4 1.4 0 1 0 2.8 0a1.4 1.4 0 1 0 -2.8 0M232.4 389.8a1.4 1.4 0 1 0 2.8 0a1.4 1.4 0 1 0 -2.8 0M232.6 389.7a1.4 1.4 0 1 0 2.8 0a1.4 1.4 0 1 0 -2.8 0M232.3 391.7a1.4 1.4 0 1 0 2.8 0a1.4 1.4 0 1 0 -2.8 0M232.8 391.8a1.4 1.4 0 1 0 2.8 0a1.4 1.4 0 1 0 -2.8 0M232.8 392.9a1.4 1.4 0 1 0 2.8 0a1.4 1.4 0 1 0 -2.8 0M232.8 394.7a1.4 1.4 0 1 0 2.8 0a1.4 1.4 0 1 0 -2.8 0M233.0 395.3a1.4 1.4 0 1 0 2.8 0a1.4 1.4 0 1 0 -2.8 0M232.9 396.1a1.4 1.4 0 1 0 2.8 0a1.4 1.4 0 1 0 -2.8 0M232.7 397.2a1.4 1.4 0 1 0 2.8 0a1.4 1.4 0 1 0 -2.8 0M233.2 398.6a1.4 1.4 0 1 0 2.8 0a1.4 1.4 0 1 0 -2.8 0M233.1 399.4a1.4 1.4 0 1 0 2.8 0a1.4 1.4 0 1 0 -2.8 0M233.6 400.4a1.4 1.4 0 1 0 2.8 0a1.4 1.4 0 1 0 -2.8 0M233.6 401.8a1.4 1.4 0 1 0 2.8 0a1.4 1.4 0 1 0 -2.8 0M233.5 402.1a1.4 1.4 0 1 0 2.8 0a1.4 1.4 0 1 0 -2.8 0M233.7 403.2a1.4 1.4 0 1 0 2.8 0a1.4 1.4 0 1 0 -2.8 0M234.1 404.2a1.4 1.4 0 1 0 2.8 0a1.4 1.4 0 1 0 -2.8 0M234.2 405.9a1.4 1.4 0 1 0 2.8 0a1.4 1.4 0 1 0 -2.8 0M234.1 406.8a1.4 1.4 0 1 0 2.8 0a1.4 1.4 0 1 0 -2.8 0M234.2 407.9a1.4 1.4 0 1 0 2.8 0a1.4 1.4 0 1 0 -2.8 0M234.2 408.4a1.4 1.4 0 1 0 2.8 0a1.4 1.4 0 1 0 -2.8 0M234.3 409.3a1.4 1.4 0 1 0 2.8 0a1.4 1.4 0 1 0 -2.8 0M234.6 410.7a1.4 1.4 0 1 0 2.8 0a1.4 1.4 0 1 0 -2.8 0M234.5 411.2a1.4 1.4 0 1 0 2.8 0a1.4 1.4 0 1 0 -2.8 0M234.7 412.7a1.4 1.4 0 1 0 2.8 0a1.4 1.4 0 1 0 -2.8 0M234.6 413.6a1.4 1.4 0 1 0 2.8 0a1.4 1.4 0 1 0 -2.8 0M234.6 414.1a1.4 1.4 0 1 0 2.8 0a1.4 1.4 0 1 0 -2.8 0M234.7 415.3a1.4 1.4 0 1 0 2.8 0a1.4 1.4 0 1 0 -2.8 0M235.0 416.3a1.4 1.4 0 1 0 2.8 0a1.4 1.4 0 1 0 -2.8 0M235.5 418.0a1.4 1.4 0 1 0 2.8 0a1.4 1.4 0 1 0 -2.8 0M235.6 419.3a1.4 1.4 0 1 0 2.8 0a1.4 1.4 0 1 0 -2.8 0M235.3 419.3a1.4 1.4 0 1 0 2.8 0a1.4 1.4 0 1 0 -2.8 0M235.3 420.3a1.4 1.4 0 1 0 2.8 0a1.4 1.4 0 1 0 -2.8 0M235.9 420.4a1.4 1.4 0 1 0 2.8 0a1.4 1.4 0 1 0 -2.8 0M235.9 422.4a1.4 1.4 0 1 0 2.8 0a1.4 1.4 0 1 0 -2.8 0M235.7 423.3a1.4 1.4 0 1 0 2.8 0a1.4 1.4 0 1 0 -2.8 0M236.3 423.8a1.4 1.4 0 1 0 2.8 0a1.4 1.4 0 1 0 -2.8 0M236.2 425.6a1.4 1.4 0 1 0 2.8 0a1.4 1.4 0 1 0 -2.8 0M236.6 425.6a1.4 1.4 0 1 0 2.8 0a1.4 1.4 0 1 0 -2.8 0M236.5 427.2a1.4 1.4 0 1 0 2.8 0a1.4 1.4 0 1 0 -2.8 0M236.8 428.3a1.4 1.4 0 1 0 2.8 0a1.4 1.4 0 1 0 -2.8 0M236.8 428.7a1.4 1.4 0 1 0 2.8 0a1.4 1.4 0 1 0 -2.8 0M236.7 430.6a1.4 1.4 0 1 0 2.8 0a1.4 1.4 0 1 0 -2.8 0M236.9 431.6a1.4 1.4 0 1 0 2.8 0a1.4 1.4 0 1 0 -2.8 0M237.0 431.6a1.4 1.4 0 1 0 2.8 0a1.4 1.4 0 1 0 -2.8 0M237.4 432.6a1.4 1.4 0 1 0 2.8 0a1.4 1.4 0 1 0 -2.8 0M237.2 434.4a1.4 1.4 0 1 0 2.8 0a1.4 1.4 0 1 0 -2.8 0M237.2 435.1a1.4 1.4 0 1 0 2.8 0a1.4 1.4 0 1 0 -2.8 0M237.8 435.7a1.4 1.4 0 1 0 2.8 0a1.4 1.4 0 1 0 -2.8 0M238.1 437.0a1.4 1.4 0 1 0 2.8 0a1.4 1.4 0 1 0 -2.8 0M238.3 438.1a1.4 1.4 0 1 0 2.8 0a1.4 1.4 0 1 0 -2.8 0M238.4 439.1a1.4 1.4 0 1 0 2.8 0a1.4 1.4 0 1 0 -2.8 0M238.0 440.4a1.4 1.4 0 1 0 2.8 0a1.4 1.4 0 1 0 -2.8 0M238.4 441.2a1.4 1.4 0 1 0 2.8 0a1.4 1.4 0 1 0 -2.8 0M238.5 442.8a1.4 1.4 0 1 0 2.8 0a1.4 1.4 0 1 0 -2.8 0M238.8 443.6a1.4 1.4 0 1 0 2.8 0a1.4 1.4 0 1 0 -2.8 0M238.6 444.3a1.4 1.4 0 1 0 2.8 0a1.4 1.4 0 1 0 -2.8 0M239.2 445.5a1.4 1.4 0 1 0 2.8 0a1.4 1.4 0 1 0 -2.8 0M239.4 446.5a1.4 1.4 0 1 0 2.8 0a1.4 1.4 0 1 0 -2.8 0M239.4 447.3a1.4 1.4 0 1 0 2.8 0a1.4 1.4 0 1 0 -2.8 0M239.8 447.5a1.4 1.4 0 1 0 2.8 0a1.4 1.4 0 1 0 -2.8 0M240.2 449.3a1.4 1.4 0 1 0 2.8 0a1.4 1.4 0 1 0 -2.8 0M240.2 450.0a1.4 1.4 0 1 0 2.8 0a1.4 1.4 0 1 0 -2.8 0M240.6 451.6a1.4 1.4 0 1 0 2.8 0a1.4 1.4 0 1 0 -2.8 0M240.8 451.9a1.4 1.4 0 1 0 2.8 0a1.4 1.4 0 1 0 -2.8 0M240.9 453.1a1.4 1.4 0 1 0 2.8 0a1.4 1.4 0 1 0 -2.8 0M241.1 454.0a1.4 1.4 0 1 0 2.8 0a1.4 1.4 0 1 0 -2.8 0M241.2 455.5a1.4 1.4 0 1 0 2.8 0a1.4 1.4 0 1 0 -2.8 0M241.8 455.8a1.4 1.4 0 1 0 2.8 0a1.4 1.4 0 1 0 -2.8 0M241.7 456.6a1.4 1.4 0 1 0 2.8 0a1.4 1.4 0 1 0 -2.8 0M242.0 457.8a1.4 1.4 0 1 0 2.8 0a1.4 1.4 0 1 0 -2.8 0M242.6 458.5a1.4 1.4 0 1 0 2.8 0a1.4 1.4 0 1 0 -2.8 0M242.6 459.7a1.4 1.4 0 1 0 2.8 0a1.4 1.4 0 1 0 -2.8 0M243.1 460.5a1.4 1.4 0 1 0 2.8 0a1.4 1.4 0 1 0 -2.8 0M243.6 461.6a1.4 1.4 0 1 0 2.8 0a1.4 1.4 0 1 0 -2.8 0M243.8 463.2a1.4 1.4 0 1 0 2.8 0a1.4 1.4 0 1 0 -2.8 0M244.2 463.2a1.4 1.4 0 1 0 2.8 0a1.4 1.4 0 1 0 -2.8 0M244.8 464.2a1.4 1.4 0 1 0 2.8 0a1.4 1.4 0 1 0 -2.8 0M245.2 465.0a1.4 1.4 0 1 0 2.8 0a1.4 1.4 0 1 0 -2.8 0M245.2 466.3a1.4 1.4 0 1 0 2.8 0a1.4 1.4 0 1 0 -2.8 0M245.8 466.4a1.4 1.4 0 1 0 2.8 0a1.4 1.4 0 1 0 -2.8 0M246.9 467.4a1.4 1.4 0 1 0 2.8 0a1.4 1.4 0 1 0 -2.8 0M247.3 468.4a1.4 1.4 0 1 0 2.8 0a1.4 1.4 0 1 0 -2.8 0M247.5 469.4a1.4 1.4 0 1 0 2.8 0a1.4 1.4 0 1 0 -2.8 0M248.4 469.9a1.4 1.4 0 1 0 2.8 0a1.4 1.4 0 1 0 -2.8 0M249.4 470.3a1.4 1.4 0 1 0 2.8 0a1.4 1.4 0 1 0 -2.8 0M250.1 470.7a1.4 1.4 0 1 0 2.8 0a1.4 1.4 0 1 0 -2.8 0M251.2 471.7a1.4 1.4 0 1 0 2.8 0a1.4 1.4 0 1 0 -2.8 0M252.1 472.5a1.4 1.4 0 1 0 2.8 0a1.4 1.4 0 1 0 -2.8 0M253.1 472.4a1.4 1.4 0 1 0 2.8 0a1.4 1.4 0 1 0 -2.8 0M253.7 472.7a1.4 1.4 0 1 0 2.8 0a1.4 1.4 0 1 0 -2.8 0M255.0 473.1a1.4 1.4 0 1 0 2.8 0a1.4 1.4 0 1 0 -2.8 0M256.3 472.7a1.4 1.4 0 1 0 2.8 0a1.4 1.4 0 1 0 -2.8 0M256.7 473.2a1.4 1.4 0 1 0 2.8 0a1.4 1.4 0 1 0 -2.8 0M258.1 473.4a1.4 1.4 0 1 0 2.8 0a1.4 1.4 0 1 0 -2.8 0M259.0 473.8a1.4 1.4 0 1 0 2.8 0a1.4 1.4 0 1 0 -2.8 0M259.9 473.8a1.4 1.4 0 1 0 2.8 0a1.4 1.4 0 1 0 -2.8 0M260.8 473.5a1.4 1.4 0 1 0 2.8 0a1.4 1.4 0 1 0 -2.8 0M261.5 474.5a1.4 1.4 0 1 0 2.8 0a1.4 1.4 0 1 0 -2.8 0M262.6 474.9a1.4 1.4 0 1 0 2.8 0a1.4 1.4 0 1 0 -2.8 0M263.9 474.2a1.4 1.4 0 1 0 2.8 0a1.4 1.4 0 1 0 -2.8 0M265.0 474.6a1.4 1.4 0 1 0 2.8 0a1.4 1.4 0 1 0 -2.8 0M266.0 474.6a1.4 1.4 0 1 0 2.8 0a1.4 1.4 0 1 0 -2.8 0M266.9 474.9a1.4 1.4 0 1 0 2.8 0a1.4 1.4 0 1 0 -2.8 0M267.9 474.1a1.4 1.4 0 1 0 2.8 0a1.4 1.4 0 1 0 -2.8 0M268.7 475.5a1.4 1.4 0 1 0 2.8 0a1.4 1.4 0 1 0 -2.8 0M269.5 474.7a1.4 1.4 0 1 0 2.8 0a1.4 1.4 0 1 0 -2.8 0M270.8 475.5a1.4 1.4 0 1 0 2.8 0a1.4 1.4 0 1 0 -2.8 0M271.8 475.1a1.4 1.4 0 1 0 2.8 0a1.4 1.4 0 1 0 -2.8 0M272.7 475.0a1.4 1.4 0 1 0 2.8 0a1.4 1.4 0 1 0 -2.8 0M273.4 475.2a1.4 1.4 0 1 0 2.8 0a1.4 1.4 0 1 0 -2.8 0M274.6 475.7a1.4 1.4 0 1 0 2.8 0a1.4 1.4 0 1 0 -2.8 0M275.4 475.0a1.4 1.4 0 1 0 2.8 0a1.4 1.4 0 1 0 -2.8 0M276.7 475.3a1.4 1.4 0 1 0 2.8 0a1.4 1.4 0 1 0 -2.8 0M277.5 475.3a1.4 1.4 0 1 0 2.8 0a1.4 1.4 0 1 0 -2.8 0M278.7 474.9a1.4 1.4 0 1 0 2.8 0a1.4 1.4 0 1 0 -2.8 0M279.8 476.2a1.4 1.4 0 1 0 2.8 0a1.4 1.4 0 1 0 -2.8 0M280.7 475.9a1.4 1.4 0 1 0 2.8 0a1.4 1.4 0 1 0 -2.8 0M282.0 475.8a1.4 1.4 0 1 0 2.8 0a1.4 1.4 0 1 0 -2.8 0M282.5 476.3a1.4 1.4 0 1 0 2.8 0a1.4 1.4 0 1 0 -2.8 0M283.3 475.5a1.4 1.4 0 1 0 2.8 0a1.4 1.4 0 1 0 -2.8 0M284.9 475.9a1.4 1.4 0 1 0 2.8 0a1.4 1.4 0 1 0 -2.8 0M286.0 476.7a1.4 1.4 0 1 0 2.8 0a1.4 1.4 0 1 0 -2.8 0M287.0 476.5a1.4 1.4 0 1 0 2.8 0a1.4 1.4 0 1 0 -2.8 0M287.8 475.2a1.4 1.4 0 1 0 2.8 0a1.4 1.4 0 1 0 -2.8 0M288.8 474.8a1.4 1.4 0 1 0 2.8 0a1.4 1.4 0 1 0 -2.8 0M289.7 475.8a1.4 1.4 0 1 0 2.8 0a1.4 1.4 0 1 0 -2.8 0M290.4 476.7a1.4 1.4 0 1 0 2.8 0a1.4 1.4 0 1 0 -2.8 0M291.6 476.1a1.4 1.4 0 1 0 2.8 0a1.4 1.4 0 1 0 -2.8 0M292.8 476.3a1.4 1.4 0 1 0 2.8 0a1.4 1.4 0 1 0 -2.8 0M293.6 476.7a1.4 1.4 0 1 0 2.8 0a1.4 1.4 0 1 0 -2.8 0M295.1 476.1a1.4 1.4 0 1 0 2.8 0a1.4 1.4 0 1 0 -2.8 0M295.4 476.6a1.4 1.4 0 1 0 2.8 0a1.4 1.4 0 1 0 -2.8 0M296.6 476.9a1.4 1.4 0 1 0 2.8 0a1.4 1.4 0 1 0 -2.8 0M297.9 476.8a1.4 1.4 0 1 0 2.8 0a1.4 1.4 0 1 0 -2.8 0M298.6 476.8a1.4 1.4 0 1 0 2.8 0a1.4 1.4 0 1 0 -2.8 0M299.5 476.5a1.4 1.4 0 1 0 2.8 0a1.4 1.4 0 1 0 -2.8 0M300.4 477.0a1.4 1.4 0 1 0 2.8 0a1.4 1.4 0 1 0 -2.8 0M301.5 476.6a1.4 1.4 0 1 0 2.8 0a1.4 1.4 0 1 0 -2.8 0M303.0 477.4a1.4 1.4 0 1 0 2.8 0a1.4 1.4 0 1 0 -2.8 0M303.8 477.9a1.4 1.4 0 1 0 2.8 0a1.4 1.4 0 1 0 -2.8 0M304.8 476.6a1.4 1.4 0 1 0 2.8 0a1.4 1.4 0 1 0 -2.8 0M305.6 476.1a1.4 1.4 0 1 0 2.8 0a1.4 1.4 0 1 0 -2.8 0M306.8 476.8a1.4 1.4 0 1 0 2.8 0a1.4 1.4 0 1 0 -2.8 0M307.7 477.2a1.4 1.4 0 1 0 2.8 0a1.4 1.4 0 1 0 -2.8 0" fill="none" stroke="#555" stroke-width="0.6"/>
<path d="M47.2 464.2 L47.7 464.2 L48.3 464.2 L48.8 464.2 L49.3 464.2 L49.8 464.2 L50.4 464.3 L50.9 464.3 L51.4 464.3 L51.9 464.3 L52.5 464.3 L53.0 464.3 L53.5 464.3 L54.0 464.4 L54.6 464.4 L55.1 464.4 L55.6 464.4 L56.1 464.4 L56.7 464.4 L57.2 464.5 L57.7 464.5 L58.2 464.5 L58.8 464.5 L59.3 464.5 L59.8 464.5 L60.3 464.5 L60.9 464.6 L61.4 464.6 L61.9 464.6 L62.4 464.6 L63.0 464.6 L63.5 464.6 L64.0 464.7 L64.5 464.7 L65.1 464.7 L65.6 464.7 L66.1 464.7 L66.6 464.7 L67.2 464.8 L67.7 464.8 L68.2 464.8 L68.8 464.8 L69.3 464.8 L69.8 464.8 L70.3 464.8 L70.9 464.9 L71.4 464.9 L71.9 464.9 L72.4 464.9 L73.0 464.9 L73.5 464.9 L74.0 465.0 L74.5 465.0 L75.1 465.0 L75.6 465.0 L76.1 465.0 L76.6 465.0 L77.2 465.1 L77.7 465.1 L78.2 465.1 L78.7 465.1 L79.3 465.1 L79.8 465.1 L80.3 465.1 L80.8 465.2 L81.4 465.2 L81.9 465.2 L82.4 465.2 L82.9 465.2 L83.5 465.2 L84.0 465.3 L84.5 465.3 L85.0 465.3 L85.6 465.3 L86.1 465.3 L86.6 465.3 L87.1 465.3 L87.7 465.4 L88.2 465.4 L88.7 465.4 L89.3 465.4 L89.8 465.4 L90.3 465.4 L90.8 465.5 L91.4 465.5 L91.9 465.5 L92.4 465.5 L92.9 465.5 L93.5 465.5 L94.0 465.5 L94.5 465.6 L95.0 465.6 L95.6 465.6 L96.1 465.6 L96.6 465.6 L97.1 465.6 L97.7 465.7 L98.2 465.7 L98.7 465.7 L99.2 465.7 L99.8 465.7 L100.3 465.7 L100.8 465.7 L101.3 465.8 L101.9 465.8 L102.4 465.8 L102.9 465.8 L103.4 465.8 L104.0 465.8 L104.5 465.9 L105.0 465.9 L105.5 465.9 L106.1 465.9 L106.6 465.9 L107.1 465.9 L107.6 465.9 L108.2 466.0 L108.7 466.0 L109.2 466.0 L109.8 466.0 L110.3 466.0 L110.8 466.0 L111.3 466.1 L111.9 466.1 L112.4 466.1 L112.9 466.1 L113.4 466.1 L114.0 466.1 L114.5 466.2 L115.0 466.2 L115.5 466.2 L116.1 466.2 L116.6 466.2 L117.1 466.2 L117.6 466.3 L118.2 466.3 L118.7 466.3 L119.2 466.3 L119.7 466.3 L120.3 466.3 L120.8 466.4 L121.3 466.4 L121.8 466.4 L122.4 466.4 L122.9 466.4 L123.4 466.5 L123.9 466.5 L124.5 466.5 L125.0 466.5 L125.5 466.5 L126.0 466.6 L126.6 466.6 L127.1 466.6 L127.6 466.6 L128.2 466.6 L128.7 466.7 L129.2 466.7 L129.7 466.7 L130.3 466.7 L130.8 466.7 L131.3 466.8 L131.8 466.8 L132.4 466.8 L132.9 466.8 L133.4 466.9 L133.9 466.9 L134.5 466.9 L135.0 466.9 L135.5 466.9 L136.0 467.0 L136.6 467.0 L137.1 467.0 L137.6 467.0 L138.1 467.0 L138.7 467.0 L139.2 467.1 L139.7 467.1 L140.2 467.1 L140.8 467.1 L141.3 467.1 L141.8 467.2 L142.3 467.2 L142.9 467.2 L143.4 467.2 L143.9 467.2 L144.4 467.2 L145.0 467.2 L145.5 467.3 L146.0 467.3 L146.5 467.3 L147.1 467.3 L147.6 467.3 L148.1 467.3 L148.7 467.3 L149.2 467.4 L149.7 467.4 L150.2 467.4 L150.8 467.4 L151.3 467.4 L151.8 467.4 L152.3 467.4 L152.9 467.5 L153.4 467.5 L153.9 467.5 L154.4 467.5 L155.0 467.5 L155.5 467.5 L156.0 467.5 L156.5 467.5 L157.1 467.5 L157.6 467.6 L158.1 467.6 L158.6 467.6 L159.2 467.6 L159.7 467.6 L160.2 467.6 L160.7 467.6 L161.3 467.6 L161.8 467.7 L162.3 467.7 L162.8 467.7 L163.4 467.7 L163.9 467.7 L164.4 467.7 L164.9 467.7 L165.5 467.7 L166.0 467.7 L166.5 467.7 L167.0 467.8 L167.6 467.8 L168.1 467.8 L168.6 467.8 L169.2 467.8 L169.7 467.8 L170.2 467.8 L170.7 467.8 L171.3 467.8 L171.8 467.8 L172.3 467.8 L172.8 467.8 L173.4 467.8 L173.9 467.9 L174.4 467.9 L174.9 467.9 L175.5 467.9 L176.0 467.9 L176.5 467.9 L177.0 467.9 L177.6 467.9 L178.1 467.9 L178.6 467.9 L179.1 467.9 L179.7 467.9 L180.2 467.9 L180.7 467.9 L181.2 467.9 L181.8 467.9 L182.3 467.9 L182.8 467.9 L183.3 467.9 L183.9 467.9 L184.4 467.9 L184.9 467.9 L185.4 467.9 L186.0 467.9 L186.5 467.9 L187.0 467.9 L187.5 467.8 L188.1 467.8 L188.6 467.8 L189.1 467.8 L189.7 467.8 L190.2 467.8 L190.7 467.7 L191.2 467.7 L191.8 467.7 L192.3 467.6 L192.8 467.6 L193.3 467.5 L193.9 467.5 L194.4 467.4 L194.9 467.3 L195.4 467.2 L196.0 467.1 L196.5 467.0 L197.0 466.8 L197.5 466.6 L198.1 466.3 L198.6 466.1 L199.1 465.7 L199.6 465.3 L200.2 464.9 L200.7 464.3 L201.2 463.7 L201.7 463.0 L202.3 462.1 L202.8 461.2 L203.3 460.1 L203.8 458.8 L204.4 457.4 L204.9 455.8 L205.4 453.9 L205.9 451.9 L206.5 449.6 L207.0 447.1 L207.5 444.2 L208.0 441.2 L208.6 437.8 L209.1 434.1 L209.6 430.2 L210.2 425.9 L210.7 421.3 L211.2 416.5 L211.7 411.3 L212.3 405.9 L212.8 400.3 L213.3 394.4 L213.8 388.3 L214.4 382.2 L214.9 375.9 L215.4 369.5 L215.9 363.2 L216.5 356.9 L217.0 350.7 L217.5 344.7 L218.0 338.9 L218.6 333.4 L219.1 328.3 L219.6 323.7 L220.1 319.5 L220.7 315.9 L221.2 312.8 L221.7 310.5 L222.2 308.8 L222.8 307.8 L223.3 307.6 L223.8 308.0 L224.3 309.0 L224.9 310.6 L225.4 312.7 L225.9 315.3 L226.4 318.4 L227.0 322.0 L227.5 326.0 L228.0 330.3 L228.5 335.0 L229.1 340.0 L229.6 345.2 L230.1 350.6 L230.7 356.2 L231.2 361.9 L231.7 367.7 L232.2 373.5 L232.8 379.2 L233.3 385.0 L233.8 390.6 L234.3 396.2 L234.9 401.6 L235.4 406.8 L235.9 411.9 L236.4 416.7 L237.0 421.4 L237.5 425.8 L238.0 430.0 L238.5 433.9 L239.1 437.6 L239.6 441.1 L240.1 444.4 L240.6 447.4 L241.2 450.1 L241.7 452.7 L242.2 455.0 L242.7 457.2 L243.3 459.1 L243.8 460.9 L244.3 462.5 L244.8 463.9 L245.4 465.2 L245.9 466.4 L246.4 467.4 L246.9 468.3 L247.5 469.2 L248.0 469.9 L248.5 470.5 L249.1 471.1 L249.6 471.6 L250.1 472.0 L250.6 472.4 L251.2 472.8 L251.7 473.1 L252.2 473.3 L252.7 473.5 L253.3 473.7 L253.8 473.9 L254.3 474.1 L254.8 474.2 L255.4 474.3 L255.9 474.5 L256.4 474.5 L256.9 474.6 L257.5 474.7 L258.0 474.8 L258.5 474.9 L259.0 474.9 L259.6 475.0 L260.1 475.0 L260.6 475.1 L261.1 475.1 L261.7 475.2 L262.2 475.2 L262.7 475.3 L263.2 475.3 L263.8 475.4 L264.3 475.4 L264.8 475.4 L265.3 475.5 L265.9 475.5 L266.4 475.6 L266.9 475.6 L267.4 475.6 L268.0 475.7 L268.5 475.7 L269.0 475.7 L269.6 475.7 L270.1 475.8 L270.6 475.8 L271.1 475.8 L271.7 475.9 L272.2 475.9 L272.7 475.9 L273.2 476.0 L273.8 476.0 L274.3 476.0 L274.8 476.0 L275.3 476.1 L275.9 476.1 L276.4 476.1 L276.9 476.1 L277.4 476.2 L278.0 476.2 L278.5 476.2 L279.0 476.2 L279.5 476.3 L280.1 476.3 L280.6 476.3 L281.1 476.3 L281.6 476.4 L282.2 476.4 L282.7 476.4 L283.2 476.4 L283.7 476.5 L284.3 476.5 L284.8 476.5 L285.3 476.5 L285.8 476.6 L286.4 476.6 L286.9 476.6 L287.4 476.6 L287.9 476.6 L288.5 476.7 L289.0 476.7 L289.5 476.7 L290.1 476.7 L290.6 476.8 L291.1 476.8 L291.6 476.8 L292.2 476.8 L292.7 476.8 L293.2 476.9 L293.7 476.9 L294.3 476.9 L294.8 476.9 L295.3 476.9 L295.8 477.0 L296.4 477.0 L296.9 477.0 L297.4 477.0 L297.9 477.0 L298.5 477.1 L299.0 477.1 L299.5 477.1 L300.0 477.1 L300.6 477.1 L301.1 477.2 L301.6 477.2 L302.1 477.2 L302.7 477.2 L303.2 477.2 L303.7 477.3 L304.2 477.3 L304.8 477.3 L305.3 477.3 L305.8 477.3 L306.3 477.3 L306.9 477.4 L307.4 477.4 L307.9 477.4 L308.4 477.4 L309.0 477.4 L309.5 477.5" fill="none" stroke="#2a2ab8" stroke-width="1.6" stroke-linejoin="round"/>
<path d="M47.2 463.6 L47.7 463.7 L48.3 463.7 L48.8 463.7 L49.3 463.7 L49.8 463.7 L50.4 463.7 L50.9 463.7 L51.4 463.7 L51.9 463.7 L52.5 463.7 L53.0 463.7 L53.5 463.7 L54.0 463.8 L54.6 463.8 L55.1 463.8 L55.6 463.8 L56.1 463.8 L56.7 463.8 L57.2 463.8 L57.7 463.8 L58.2 463.8 L58.8 463.8 L59.3 463.8 L59.8 463.8 L60.3 463.8 L60.9 463.8 L61.4 463.8 L61.9 463.8 L62.4 463.8 L63.0 463.9 L63.5 463.9 L64.0 463.9 L64.5 463.9 L65.1 463.9 L65.6 463.9 L66.1 463.9 L66.6 463.9 L67.2 463.9 L67.7 463.9 L68.2 463.9 L68.8 463.9 L69.3 463.9 L69.8 463.9 L70.3 463.9 L70.9 463.9 L71.4 463.9 L71.9 463.9 L72.4 463.9 L73.0 463.9 L73.5 463.9 L74.0 463.9 L74.5 463.9 L75.1 463.8 L75.6 463.8 L76.1 463.8 L76.6 463.8 L77.2 463.8 L77.7 463.8 L78.2 463.8 L78.7 463.8 L79.3 463.8 L79.8 463.8 L80.3 463.8 L80.8 463.7 L81.4 463.7 L81.9 463.7 L82.4 463.7 L82.9 463.7 L83.5 463.6 L84.0 463.6 L84.5 463.6 L85.0 463.6 L85.6 463.5 L86.1 463.5 L86.6 463.5 L87.1 463.4 L87.7 463.4 L88.2 463.3 L88.7 463.3 L89.3 463.2 L89.8 463.2 L90.3 463.1 L90.8 463.0 L91.4 463.0 L91.9 462.9 L92.4 462.8 L92.9 462.7 L93.5 462.6 L94.0 462.5 L94.5 462.3 L95.0 462.2 L95.6 462.1 L96.1 461.9 L96.6 461.8 L97.1 461.6 L97.7 461.4 L98.2 461.2 L98.7 461.0 L99.2 460.7 L99.8 460.5 L100.3 460.2 L100.8 459.9 L101.3 459.6 L101.9 459.3 L102.4 458.9 L102.9 458.5 L103.4 458.1 L104.0 457.7 L104.5 457.3 L105.0 456.8 L105.5 456.3 L106.1 455.8 L106.6 455.2 L107.1 454.6 L107.6 454.0 L108.2 453.4 L108.7 452.7 L109.2 452.0 L109.8 451.3 L110.3 450.6 L110.8 449.8 L111.3 449.0 L111.9 448.1 L112.4 447.3 L112.9 446.4 L113.4 445.4 L114.0 444.5 L114.5 443.5 L115.0 442.5 L115.5 441.5 L116.1 440.5 L116.6 439.5 L117.1 438.4 L117.6 437.4 L118.2 436.3 L118.7 435.2 L119.2 434.2 L119.7 433.1 L120.3 432.0 L120.8 431.0 L121.3 430.0 L121.8 429.0 L122.4 428.0 L122.9 427.0 L123.4 426.1 L123.9 425.2 L124.5 424.4 L125.0 423.6 L125.5 422.8 L126.0 422.2 L126.6 421.6 L127.1 421.0 L127.6 420.6 L128.2 420.2 L128.7 419.9 L129.2 419.7 L129.7 419.5 L130.3 419.5 L130.8 419.5 L131.3 419.6 L131.8 419.8 L132.4 420.0 L132.9 420.3 L133.4 420.7 L133.9 421.0 L134.5 421.5 L135.0 422.0 L135.5 422.6 L136.0 423.2 L136.6 423.8 L137.1 424.5 L137.6 425.2 L138.1 425.9 L138.7 426.7 L139.2 427.5 L139.7 428.4 L140.2 429.2 L140.8 430.1 L141.3 431.0 L141.8 431.9 L142.3 432.8 L142.9 433.7 L143.4 434.6 L143.9 435.6 L144.4 436.5 L145.0 437.4 L145.5 438.4 L146.0 439.3 L146.5 440.2 L147.1 441.1 L147.6 442.0 L148.1 442.9 L148.7 443.8 L149.2 444.6 L149.7 445.5 L150.2 446.3 L150.8 447.1 L151.3 447.9 L151.8 448.7 L152.3 449.4 L152.9 450.2 L153.4 450.9 L153.9 451.6 L154.4 452.3 L155.0 452.9 L155.5 453.6 L156.0 454.2 L156.5 454.8 L157.1 455.4 L157.6 455.9 L158.1 456.5 L158.6 457.0 L159.2 457.5 L159.7 458.0 L160.2 458.4 L160.7 458.9 L161.3 459.3 L161.8 459.7 L162.3 460.1 L162.8 460.5 L163.4 460.8 L163.9 461.2 L164.4 461.5 L164.9 461.8 L165.5 462.1 L166.0 462.4 L166.5 462.6 L167.0 462.9 L167.6 463.1 L168.1 463.3 L168.6 463.6 L169.2 463.8 L169.7 464.0 L170.2 464.1 L170.7 464.3 L171.3 464.5 L171.8 464.6 L172.3 464.8 L172.8 464.9 L173.4 465.1 L173.9 465.2 L174.4 465.3 L174.9 465.4 L175.5 465.6 L176.0 465.7 L176.5 465.8 L177.0 465.9 L177.6 466.0 L178.1 466.0 L178.6 466.1 L179.1 466.2 L179.7 466.3 L180.2 466.4 L180.7 466.4 L181.2 466.5 L181.8 466.6 L182.3 466.6 L182.8 466.7 L183.3 466.8 L183.9 466.8 L184.4 466.9 L184.9 466.9 L185.4 467.0 L186.0 467.0 L186.5 467.1 L187.0 467.1 L187.5 467.2 L188.1 467.2 L188.6 467.3 L189.1 467.3 L189.7 467.3 L190.2 467.4 L190.7 467.4 L191.2 467.5 L191.8 467.5 L192.3 467.5 L192.8 467.6 L193.3 467.6 L193.9 467.7 L194.4 467.7 L194.9 467.7 L195.4 467.8 L196.0 467.8 L196.5 467.8 L197.0 467.9 L197.5 467.9 L198.1 467.9 L198.6 468.0 L199.1 468.0 L199.6 468.0 L200.2 468.1 L200.7 468.1 L201.2 468.1 L201.7 468.2 L202.3 468.2 L202.8 468.2 L203.3 468.3 L203.8 468.3 L204.4 468.3 L204.9 468.4 L205.4 468.4 L205.9 468.4 L206.5 468.5 L207.0 468.5 L207.5 468.5 L208.0 468.6 L208.6 468.6 L209.1 468.7 L209.6 468.7 L210.2 468.8 L210.7 468.8 L211.2 468.9 L211.7 469.0 L212.3 469.0 L212.8 469.1 L213.3 469.2 L213.8 469.3 L214.4 469.4 L214.9 469.4 L215.4 469.6 L215.9 469.7 L216.5 469.8 L217.0 469.9 L217.5 470.0 L218.0 470.2 L218.6 470.3 L219.1 470.5 L219.6 470.6 L220.1 470.8 L220.7 470.9 L221.2 471.1 L221.7 471.3 L222.2 471.5 L222.8 471.6 L223.3 471.8 L223.8 472.0 L224.3 472.2 L224.9 472.3 L225.4 472.5 L225.9 472.7 L226.4 472.8 L227.0 473.0 L227.5 473.2 L228.0 473.3 L228.5 473.4 L229.1 473.6 L229.6 473.7 L230.1 473.8 L230.7 473.9 L231.2 474.1 L231.7 474.2 L232.2 474.2 L232.8 474.3 L233.3 474.4 L233.8 474.5 L234.3 474.6 L234.9 474.6 L235.4 474.7 L235.9 474.7 L236.4 474.8 L237.0 474.8 L237.5 474.9 L238.0 474.9 L238.5 475.0 L239.1 475.0 L239.6 475.0 L240.1 475.1 L240.6 475.1 L241.2 475.1 L241.7 475.1 L242.2 475.2 L242.7 475.2 L243.3 475.2 L243.8 475.2 L244.3 475.3 L244.8 475.3 L245.4 475.3 L245.9 475.3 L246.4 475.3 L246.9 475.4 L247.5 475.4 L248.0 475.4 L248.5 475.4 L249.1 475.4 L249.6 475.5 L250.1 475.5 L250.6 475.5 L251.2 475.5 L251.7 475.5 L252.2 475.6 L252.7 475.6 L253.3 475.6 L253.8 475.6 L254.3 475.6 L254.8 475.6 L255.4 475.7 L255.9 475.7 L256.4 475.7 L256.9 475.7 L257.5 475.7 L258.0 475.8 L258.5 475.8 L259.0 475.8 L259.6 475.8 L260.1 475.8 L260.6 475.9 L261.1 475.9 L261.7 475.9 L262.2 475.9 L262.7 475.9 L263.2 475.9 L263.8 476.0 L264.3 476.0 L264.8 476.0 L265.3 476.0 L265.9 476.0 L266.4 476.1 L266.9 476.1 L267.4 476.1 L268.0 476.1 L268.5 476.1 L269.0 476.1 L269.6 476.2 L270.1 476.2 L270.6 476.2 L271.1 476.2 L271.7 476.2 L272.2 476.3 L272.7 476.3 L273.2 476.3 L273.8 476.3 L274.3 476.3 L274.8 476.3 L275.3 476.4 L275.9 476.4 L276.4 476.4 L276.9 476.4 L277.4 476.4 L278.0 476.5 L278.5 476.5 L279.0 476.5 L279.5 476.5 L280.1 476.5 L280.6 476.5 L281.1 476.6 L281.6 476.6 L282.2 476.6 L282.7 476.6 L283.2 476.6 L283.7 476.6 L284.3 476.7 L284.8 476.7 L285.3 476.7 L285.8 476.7 L286.4 476.7 L286.9 476.8 L287.4 476.8 L287.9 476.8 L288.5 476.8 L289.0 476.8 L289.5 476.8 L290.1 476.9 L290.6 476.9 L291.1 476.9 L291.6 476.9 L292.2 476.9 L292.7 476.9 L293.2 477.0 L293.7 477.0 L294.3 477.0 L294.8 477.0 L295.3 477.0 L295.8 477.1 L296.4 477.1 L296.9 477.1 L297.4 477.1 L297.9 477.1 L298.5 477.1 L299.0 477.2 L299.5 477.2 L300.0 477.2 L300.6 477.2 L301.1 477.2 L301.6 477.2 L302.1 477.3 L302.7 477.3 L303.2 477.3 L303.7 477.3 L304.2 477.3 L304.8 477.3 L305.3 477.4 L305.8 477.4 L306.3 477.4 L306.9 477.4 L307.4 477.4 L307.9 477.4 L308.4 477.5 L309.0 477.5 L309.5 477.5" fill="none" stroke="#d83434" stroke-width="1.6" stroke-linejoin="round"/>
<path d="M47.2 464.2 L47.7 464.2 L48.3 464.2 L48.8 464.2 L49.3 464.3 L49.8 464.3 L50.4 464.3 L50.9 464.3 L51.4 464.3 L51.9 464.3 L52.5 464.4 L53.0 464.4 L53.5 464.4 L54.0 464.4 L54.6 464.4 L55.1 464.4 L55.6 464.5 L56.1 464.5 L56.7 464.5 L57.2 464.5 L57.7 464.5 L58.2 464.5 L58.8 464.5 L59.3 464.6 L59.8 464.6 L60.3 464.6 L60.9 464.6 L61.4 464.6 L61.9 464.6 L62.4 464.7 L63.0 464.7 L63.5 464.7 L64.0 464.7 L64.5 464.7 L65.1 464.7 L65.6 464.8 L66.1 464.8 L66.6 464.8 L67.2 464.8 L67.7 464.8 L68.2 464.8 L68.8 464.9 L69.3 464.9 L69.8 464.9 L70.3 464.9 L70.9 464.9 L71.4 464.9 L71.9 464.9 L72.4 465.0 L73.0 465.0 L73.5 465.0 L74.0 465.0 L74.5 465.0 L75.1 465.0 L75.6 465.1 L76.1 465.1 L76.6 465.1 L77.2 465.1 L77.7 465.1 L78.2 465.1 L78.7 465.2 L79.3 465.2 L79.8 465.2 L80.3 465.2 L80.8 465.2 L81.4 465.2 L81.9 465.3 L82.4 465.3 L82.9 465.3 L83.5 465.3 L84.0 465.3 L84.5 465.3 L85.0 465.3 L85.6 465.4 L86.1 465.4 L86.6 465.4 L87.1 465.4 L87.7 465.4 L88.2 465.4 L88.7 465.5 L89.3 465.5 L89.8 465.5 L90.3 465.5 L90.8 465.5 L91.4 465.5 L91.9 465.6 L92.4 465.6 L92.9 465.6 L93.5 465.6 L94.0 465.6 L94.5 465.6 L95.0 465.7 L95.6 465.7 L96.1 465.7 L96.6 465.7 L97.1 465.7 L97.7 465.7 L98.2 465.7 L98.7 465.8 L99.2 465.8 L99.8 465.8 L100.3 465.8 L100.8 465.8 L101.3 465.8 L101.9 465.9 L102.4 465.9 L102.9 465.9 L103.4 465.9 L104.0 465.9 L104.5 465.9 L105.0 466.0 L105.5 466.0 L106.1 466.0 L106.6 466.0 L107.1 466.0 L107.6 466.0 L108.2 466.1 L108.7 466.1 L109.2 466.1 L109.8 466.1 L110.3 466.1 L110.8 466.1 L111.3 466.2 L111.9 466.2 L112.4 466.2 L112.9 466.2 L113.4 466.2 L114.0 466.2 L114.5 466.3 L115.0 466.3 L115.5 466.3 L116.1 466.3 L116.6 466.3 L117.1 466.3 L117.6 466.4 L118.2 466.4 L118.7 466.4 L119.2 466.4 L119.7 466.4 L120.3 466.5 L120.8 466.5 L121.3 466.5 L121.8 466.5 L122.4 466.5 L122.9 466.6 L123.4 466.6 L123.9 466.6 L124.5 466.6 L125.0 466.6 L125.5 466.7 L126.0 466.7 L126.6 466.7 L127.1 466.7 L127.6 466.8 L128.2 466.8 L128.7 466.8 L129.2 466.8 L129.7 466.8 L130.3 466.9 L130.8 466.9 L131.3 466.9 L131.8 466.9 L132.4 467.0 L132.9 467.0 L133.4 467.0 L133.9 467.0 L134.5 467.0 L135.0 467.1 L135.5 467.1 L136.0 467.1 L136.6 467.1 L137.1 467.2 L137.6 467.2 L138.1 467.2 L138.7 467.2 L139.2 467.2 L139.7 467.3 L140.2 467.3 L140.8 467.3 L141.3 467.3 L141.8 467.3 L142.3 467.4 L142.9 467.4 L143.4 467.4 L143.9 467.4 L144.4 467.4 L145.0 467.4 L145.5 467.5 L146.0 467.5 L146.5 467.5 L147.1 467.5 L147.6 467.5 L148.1 467.5 L148.7 467.6 L149.2 467.6 L149.7 467.6 L150.2 467.6 L150.8 467.6 L151.3 467.6 L151.8 467.7 L152.3 467.7 L152.9 467.7 L153.4 467.7 L153.9 467.7 L154.4 467.7 L155.0 467.8 L155.5 467.8 L156.0 467.8 L156.5 467.8 L157.1 467.8 L157.6 467.8 L158.1 467.9 L158.6 467.9 L159.2 467.9 L159.7 467.9 L160.2 467.9 L160.7 467.9 L161.3 468.0 L161.8 468.0 L162.3 468.0 L162.8 468.0 L163.4 468.0 L163.9 468.0 L164.4 468.0 L164.9 468.1 L165.5 468.1 L166.0 468.1 L166.5 468.1 L167.0 468.1 L167.6 468.1 L168.1 468.2 L168.6 468.2 L169.2 468.2 L169.7 468.2 L170.2 468.2 L170.7 468.2 L171.3 468.3 L171.8 468.3 L172.3 468.3 L172.8 468.3 L173.4 468.3 L173.9 468.3 L174.4 468.4 L174.9 468.4 L175.5 468.4 L176.0 468.4 L176.5 468.4 L177.0 468.4 L177.6 468.4 L178.1 468.5 L178.6 468.5 L179.1 468.5 L179.7 468.5 L180.2 468.5 L180.7 468.5 L181.2 468.6 L181.8 468.6 L182.3 468.6 L182.8 468.6 L183.3 468.6 L183.9 468.6 L184.4 468.7 L184.9 468.7 L185.4 468.7 L186.0 468.7 L186.5 468.7 L187.0 468.7 L187.5 468.8 L188.1 468.8 L188.6 468.8 L189.1 468.8 L189.7 468.8 L190.2 468.8 L190.7 468.9 L191.2 468.9 L191.8 468.9 L192.3 468.9 L192.8 468.9 L193.3 468.9 L193.9 468.9 L194.4 469.0 L194.9 469.0 L195.4 469.0 L196.0 469.0 L196.5 469.0 L197.0 469.0 L197.5 469.1 L198.1 469.1 L198.6 469.1 L199.1 469.1 L199.6 469.1 L200.2 469.1 L200.7 469.2 L201.2 469.2 L201.7 469.2 L202.3 469.2 L202.8 469.2 L203.3 469.2 L203.8 469.3 L204.4 469.3 L204.9 469.3 L205.4 469.3 L205.9 469.4 L206.5 469.4 L207.0 469.4 L207.5 469.4 L208.0 469.5 L208.6 469.5 L209.1 469.5 L209.6 469.6 L210.2 469.6 L210.7 469.7 L211.2 469.7 L211.7 469.8 L212.3 469.8 L212.8 469.9 L213.3 469.9 L213.8 470.0 L214.4 470.1 L214.9 470.2 L215.4 470.3 L215.9 470.4 L216.5 470.5 L217.0 470.6 L217.5 470.7 L218.0 470.9 L218.6 471.0 L219.1 471.1 L219.6 471.3 L220.1 471.4 L220.7 471.6 L221.2 471.8 L221.7 471.9 L222.2 472.1 L222.8 472.3 L223.3 472.4 L223.8 472.6 L224.3 472.8 L224.9 472.9 L225.4 473.1 L225.9 473.3 L226.4 473.4 L227.0 473.6 L227.5 473.7 L228.0 473.9 L228.5 474.0 L229.1 474.1 L229.6 474.3 L230.1 474.4 L230.7 474.5 L231.2 474.6 L231.7 474.7 L232.2 474.8 L232.8 474.9 L233.3 474.9 L233.8 475.0 L234.3 475.1 L234.9 475.1 L235.4 475.2 L235.9 475.2 L236.4 475.3 L237.0 475.3 L237.5 475.4 L238.0 475.4 L238.5 475.4 L239.1 475.5 L239.6 475.5 L240.1 475.5 L240.6 475.5 L241.2 475.6 L241.7 475.6 L242.2 475.6 L242.7 475.6 L243.3 475.6 L243.8 475.7 L244.3 475.7 L244.8 475.7 L245.4 475.7 L245.9 475.7 L246.4 475.7 L246.9 475.8 L247.5 475.8 L248.0 475.8 L248.5 475.8 L249.1 475.8 L249.6 475.8 L250.1 475.9 L250.6 475.9 L251.2 475.9 L251.7 475.9 L252.2 475.9 L252.7 475.9 L253.3 476.0 L253.8 476.0 L254.3 476.0 L254.8 476.0 L255.4 476.0 L255.9 476.0 L256.4 476.1 L256.9 476.1 L257.5 476.1 L258.0 476.1 L258.5 476.1 L259.0 476.1 L259.6 476.1 L260.1 476.2 L260.6 476.2 L261.1 476.2 L261.7 476.2 L262.2 476.2 L262.7 476.2 L263.2 476.3 L263.8 476.3 L264.3 476.3 L264.8 476.3 L265.3 476.3 L265.9 476.3 L266.4 476.4 L266.9 476.4 L267.4 476.4 L268.0 476.4 L268.5 476.4 L269.0 476.4 L269.6 476.5 L270.1 476.5 L270.6 476.5 L271.1 476.5 L271.7 476.5 L272.2 476.5 L272.7 476.5 L273.2 476.6 L273.8 476.6 L274.3 476.6 L274.8 476.6 L275.3 476.6 L275.9 476.6 L276.4 476.7 L276.9 476.7 L277.4 476.7 L278.0 476.7 L278.5 476.7 L279.0 476.7 L279.5 476.8 L280.1 476.8 L280.6 476.8 L281.1 476.8 L281.6 476.8 L282.2 476.8 L282.7 476.9 L283.2 476.9 L283.7 476.9 L284.3 476.9 L284.8 476.9 L285.3 476.9 L285.8 476.9 L286.4 477.0 L286.9 477.0 L287.4 477.0 L287.9 477.0 L288.5 477.0 L289.0 477.0 L289.5 477.1 L290.1 477.1 L290.6 477.1 L291.1 477.1 L291.6 477.1 L292.2 477.1 L292.7 477.2 L293.2 477.2 L293.7 477.2 L294.3 477.2 L294.8 477.2 L295.3 477.2 L295.8 477.3 L296.4 477.3 L296.9 477.3 L297.4 477.3 L297.9 477.3 L298.5 477.3 L299.0 477.3 L299.5 477.4 L300.0 477.4 L300.6 477.4 L301.1 477.4 L301.6 477.4 L302.1 477.4 L302.7 477.5 L303.2 477.5 L303.7 477.5 L304.2 477.5 L304.8 477.5 L305.3 477.5 L305.8 477.6 L306.3 477.6 L306.9 477.6 L307.4 477.6 L307.9 477.6 L308.4 477.6 L309.0 477.7 L309.5 477.7" fill="none" stroke="#dd44dd" stroke-width="1.5" stroke-linejoin="round" stroke-dasharray="5.5,4"/>
<path d="M402.8 469.4a1.4 1.4 0 1 0 2.8 0a1.4 1.4 0 1 0 -2.8 0M403.8 469.6a1.4 1.4 0 1 0 2.8 0a1.4 1.4 0 1 0 -2.8 0M405.1 469.8a1.4 1.4 0 1 0 2.8 0a1.4 1.4 0 1 0 -2.8 0M406.1 470.2a1.4 1.4 0 1 0 2.8 0a1.4 1.4 0 1 0 -2.8 0M406.7 469.7a1.4 1.4 0 1 0 2.8 0a1.4 1.4 0 1 0 -2.8 0M407.9 469.9a1.4 1.4 0 1 0 2.8 0a1.4 1.4 0 1 0 -2.8 0M409.1 470.5a1.4 1.4 0 1 0 2.8 0a1.4 1.4 0 1 0 -2.8 0M410.2 469.4a1.4 1.4 0 1 0 2.8 0a1.4 1.4 0 1 0 -2.8 0M410.7 469.2a1.4 1.4 0 1 0 2.8 0a1.4 1.4 0 1 0 -2.8 0M411.9 470.1a1.4 1.4 0 1 0 2.8 0a1.4 1.4 0 1 0 -2.8 0M413.2 469.9a1.4 1.4 0 1 0 2.8 0a1.4 1.4 0 1 0 -2.8 0M413.9 469.7a1.4 1.4 0 1 0 2.8 0a1.4 1.4 0 1 0 -2.8 0M414.9 469.8a1.4 1.4 0 1 0 2.8 0a1.4 1.4 0 1 0 -2.8 0M415.9 469.6a1.4 1.4 0 1 0 2.8 0a1.4 1.4 0 1 0 -2.8 0M416.7 469.9a1.4 1.4 0 1 0 2.8 0a1.4 1.4 0 1 0 -2.8 0M418.0 469.5a1.4 1.4 0 1 0 2.8 0a1.4 1.4 0 1 0 -2.8 0M419.1 470.0a1.4 1.4 0 1 0 2.8 0a1.4 1.4 0 1 0 -2.8 0M419.7 469.2a1.4 1.4 0 1 0 2.8 0a1.4 1.4 0 1 0 -2.8 0M421.0 469.3a1.4 1.4 0 1 0 2.8 0a1.4 1.4 0 1 0 -2.8 0M422.2 469.7a1.4 1.4 0 1 0 2.8 0a1.4 1.4 0 1 0 -2.8 0M423.0 469.4a1.4 1.4 0 1 0 2.8 0a1.4 1.4 0 1 0 -2.8 0M424.2 469.9a1.4 1.4 0 1 0 2.8 0a1.4 1.4 0 1 0 -2.8 0M424.9 469.6a1.4 1.4 0 1 0 2.8 0a1.4 1.4 0 1 0 -2.8 0M426.3 469.4a1.4 1.4 0 1 0 2.8 0a1.4 1.4 0 1 0 -2.8 0M426.8 469.7a1.4 1.4 0 1 0 2.8 0a1.4 1.4 0 1 0 -2.8 0M428.4 469.4a1.4 1.4 0 1 0 2.8 0a1.4 1.4 0 1 0 -2.8 0M428.9 468.9a1.4 1.4 0 1 0 2.8 0a1.4 1.4 0 1 0 -2.8 0M429.9 469.1a1.4 1.4 0 1 0 2.8 0a1.4 1.4 0 1 0 -2.8 0M430.8 469.2a1.4 1.4 0 1 0 2.8 0a1.4 1.4 0 1 0 -2.8 0M431.9 469.3a1.4 1.4 0 1 0 2.8 0a1.4 1.4 0 1 0 -2.8 0M432.9 469.5a1.4 1.4 0 1 0 2.8 0a1.4 1.4 0 1 0 -2.8 0M433.9 469.8a1.4 1.4 0 1 0 2.8 0a1.4 1.4 0 1 0 -2.8 0M434.9 469.7a1.4 1.4 0 1 0 2.8 0a1.4 1.4 0 1 0 -2.8 0M436.1 470.2a1.4 1.4 0 1 0 2.8 0a1.4 1.4 0 1 0 -2.8 0M437.2 469.9a1.4 1.4 0 1 0 2.8 0a1.4 1.4 0 1 0 -2.8 0M437.9 469.3a1.4 1.4 0 1 0 2.8 0a1.4 1.4 0 1 0 -2.8 0M439.2 470.0a1.4 1.4 0 1 0 2.8 0a1.4 1.4 0 1 0 -2.8 0M439.8 469.8a1.4 1.4 0 1 0 2.8 0a1.4 1.4 0 1 0 -2.8 0M440.8 469.1a1.4 1.4 0 1 0 2.8 0a1.4 1.4 0 1 0 -2.8 0M441.8 469.4a1.4 1.4 0 1 0 2.8 0a1.4 1.4 0 1 0 -2.8 0M443.1 469.7a1.4 1.4 0 1 0 2.8 0a1.4 1.4 0 1 0 -2.8 0M443.7 469.3a1.4 1.4 0 1 0 2.8 0a1.4 1.4 0 1 0 -2.8 0M444.7 469.6a1.4 1.4 0 1 0 2.8 0a1.4 1.4 0 1 0 -2.8 0M446.2 469.3a1.4 1.4 0 1 0 2.8 0a1.4 1.4 0 1 0 -2.8 0M447.3 469.3a1.4 1.4 0 1 0 2.8 0a1.4 1.4 0 1 0 -2.8 0M448.3 468.9a1.4 1.4 0 1 0 2.8 0a1.4 1.4 0 1 0 -2.8 0M448.7 469.1a1.4 1.4 0 1 0 2.8 0a1.4 1.4 0 1 0 -2.8 0M450.0 468.7a1.4 1.4 0 1 0 2.8 0a1.4 1.4 0 1 0 -2.8 0M451.1 469.0a1.4 1.4 0 1 0 2.8 0a1.4 1.4 0 1 0 -2.8 0M452.0 468.0a1.4 1.4 0 1 0 2.8 0a1.4 1.4 0 1 0 -2.8 0M452.6 468.7a1.4 1.4 0 1 0 2.8 0a1.4 1.4 0 1 0 -2.8 0M453.9 468.9a1.4 1.4 0 1 0 2.8 0a1.4 1.4 0 1 0 -2.8 0M454.6 468.5a1.4 1.4 0 1 0 2.8 0a1.4 1.4 0 1 0 -2.8 0M455.7 468.1a1.4 1.4 0 1 0 2.8 0a1.4 1.4 0 1 0 -2.8 0M457.3 468.1a1.4 1.4 0 1 0 2.8 0a1.4 1.4 0 1 0 -2.8 0M458.0 467.3a1.4 1.4 0 1 0 2.8 0a1.4 1.4 0 1 0 -2.8 0M458.5 467.0a1.4 1.4 0 1 0 2.8 0a1.4 1.4 0 1 0 -2.8 0M459.5 466.9a1.4 1.4 0 1 0 2.8 0a1.4 1.4 0 1 0 -2.8 0M460.8 466.6a1.4 1.4 0 1 0 2.8 0a1.4 1.4 0 1 0 -2.8 0M461.5 466.6a1.4 1.4 0 1 0 2.8 0a1.4 1.4 0 1 0 -2.8 0M462.6 465.4a1.4 1.4 0 1 0 2.8 0a1.4 1.4 0 1 0 -2.8 0M463.3 465.7a1.4 1.4 0 1 0 2.8 0a1.4 1.4 0 1 0 -2.8 0M464.2 464.1a1.4 1.4 0 1 0 2.8 0a1.4 1.4 0 1 0 -2.8 0M465.1 463.8a1.4 1.4 0 1 0 2.8 0a1.4 1.4 0 1 0 -2.8 0M465.6 463.5a1.4 1.4 0 1 0 2.8 0a1.4 1.4 0 1 0 -2.8 0M466.2 463.3a1.4 1.4 0 1 0 2.8 0a1.4 1.4 0 1 0 -2.8 0M467.0 461.9a1.4 1.4 0 1 0 2.8 0a1.4 1.4 0 1 0 -2.8 0M467.8 460.5a1.4 1.4 0 1 0 2.8 0a1.4 1.4 0 1 0 -2.8 0M468.5 460.8a1.4 1.4 0 1 0 2.8 0a1.4 1.4 0 1 0 -2.8 0M469.2 459.8a1.4 1.4 0 1 0 2.8 0a1.4 1.4 0 1 0 -2.8 0M469.7 458.6a1.4 1.4 0 1 0 2.8 0a1.4 1.4 0 1 0 -2.8 0M470.4 457.8a1.4 1.4 0 1 0 2.8 0a1.4 1.4 0 1 0 -2.8 0M470.7 457.1a1.4 1.4 0 1 0 2.8 0a1.4 1.4 0 1 0 -2.8 0M471.6 456.5a1.4 1.4 0 1 0 2.8 0a1.4 1.4 0 1 0 -2.8 0M472.2 455.9a1.4 1.4 0 1 0 2.8 0a1.4 1.4 0 1 0 -2.8 0M472.4 454.1a1.4 1.4 0 1 0 2.8 0a1.4 1.4 0 1 0 -2.8 0M472.8 454.8a1.4 1.4 0 1 0 2.8 0a1.4 1.4 0 1 0 -2.8 0M473.4 452.9a1.4 1.4 0 1 0 2.8 0a1.4 1.4 0 1 0 -2.8 0M473.7 451.9a1.4 1.4 0 1 0 2.8 0a1.4 1.4 0 1 0 -2.8 0M474.0 451.4a1.4 1.4 0 1 0 2.8 0a1.4 1.4 0 1 0 -2.8 0M474.3 450.2a1.4 1.4 0 1 0 2.8 0a1.4 1.4 0 1 0 -2.8 0M474.6 450.2a1.4 1.4 0 1 0 2.8 0a1.4 1.4 0 1 0 -2.8 0M474.9 448.8a1.4 1.4 0 1 0 2.8 0a1.4 1.4 0 1 0 -2.8 0M475.6 447.2a1.4 1.4 0 1 0 2.8 0a1.4 1.4 0 1 0 -2.8 0M476.0 446.3a1.4 1.4 0 1 0 2.8 0a1.4 1.4 0 1 0 -2.8 0M475.9 445.3a1.4 1.4 0 1 0 2.8 0a1.4 1.4 0 1 0 -2.8 0M476.4 444.4a1.4 1.4 0 1 0 2.8 0a1.4 1.4 0 1 0 -2.8 0M476.8 443.9a1.4 1.4 0 1 0 2.8 0a1.4 1.4 0 1 0 -2.8 0M477.0 442.4a1.4 1.4 0 1 0 2.8 0a1.4 1.4 0 1 0 -2.8 0M477.2 442.3a1.4 1.4 0 1 0 2.8 0a1.4 1.4 0 1 0 -2.8 0M477.6 440.7a1.4 1.4 0 1 0 2.8 0a1.4 1.4 0 1 0 -2.8 0M477.5 439.7a1.4 1.4 0 1 0 2.8 0a1.4 1.4 0 1 0 -2.8 0M478.2 439.2a1.4 1.4 0 1 0 2.8 0a1.4 1.4 0 1 0 -2.8 0M478.4 437.1a1.4 1.4 0 1 0 2.8 0a1.4 1.4 0 1 0 -2.8 0M479.2 436.5a1.4 1.4 0 1 0 2.8 0a1.4 1.4 0 1 0 -2.8 0M479.2 436.2a1.4 1.4 0 1 0 2.8 0a1.4 1.4 0 1 0 -2.8 0M479.2 435.0a1.4 1.4 0 1 0 2.8 0a1.4 1.4 0 1 0 -2.8 0M479.5 434.0a1.4 1.4 0 1 0 2.8 0a1.4 1.4 0 1 0 -2.8 0M480.1 433.2a1.4 1.4 0 1 0 2.8 0a1.4 1.4 0 1 0 -2.8 0M480.3 431.8a1.4 1.4 0 1 0 2.8 0a1.4 1.4 0 1 0 -2.8 0M480.3 431.0a1.4 1.4 0 1 0 2.8 0a1.4 1.4 0 1 0 -2.8 0M480.4 429.6a1.4 1.4 0 1 0 2.8 0a1.4 1.4 0 1 0 -2.8 0M480.4 428.4a1.4 1.4 0 1 0 2.8 0a1.4 1.4 0 1 0 -2.8 0M480.9 428.7a1.4 1.4 0 1 0 2.8 0a1.4 1.4 0 1 0 -2.8 0M481.1 426.8a1.4 1.4 0 1 0 2.8 0a1.4 1.4 0 1 0 -2.8 0M481.2 425.9a1.4 1.4 0 1 0 2.8 0a1.4 1.4 0 1 0 -2.8 0M481.9 425.8a1.4 1.4 0 1 0 2.8 0a1.4 1.4 0 1 0 -2.8 0M481.4 424.7a1.4 1.4 0 1 0 2.8 0a1.4 1.4 0 1 0 -2.8 0M482.0 423.1a1.4 1.4 0 1 0 2.8 0a1.4 1.4 0 1 0 -2.8 0M482.3 422.1a1.4 1.4 0 1 0 2.8 0a1.4 1.4 0 1 0 -2.8 0M482.5 421.3a1.4 1.4 0 1 0 2.8 0a1.4 1.4 0 1 0 -2.8 0M483.0 420.0a1.4 1.4 0 1 0 2.8 0a1.4 1.4 0 1 0 -2.8 0M482.6 419.6a1.4 1.4 0 1 0 2.8 0a1.4 1.4 0 1 0 -2.8 0M482.9 418.4a1.4 1.4 0 1 0 2.8 0a1.4 1.4 0 1 0 -2.8 0M483.2 417.5a1.4 1.4 0 1 0 2.8 0a1.4 1.4 0 1 0 -2.8 0M483.5 416.7a1.4 1.4 0 1 0 2.8 0a1.4 1.4 0 1 0 -2.8 0M483.5 415.7a1.4 1.4 0 1 0 2.8 0a1.4 1.4 0 1 0 -2.8 0M483.7 415.2a1.4 1.4 0 1 0 2.8 0a1.4 1.4 0 1 0 -2.8 0M484.2 414.1a1.4 1.4 0 1 0 2.8 0a1.4 1.4 0 1 0 -2.8 0M484.0 411.8a1.4 1.4 0 1 0 2.8 0a1.4 1.4 0 1 0 -2.8 0M484.3 411.9a1.4 1.4 0 1 0 2.8 0a1.4 1.4 0 1 0 -2.8 0M484.8 410.1a1.4 1.4 0 1 0 2.8 0a1.4 1.4 0 1 0 -2.8 0M485.1 409.0a1.4 1.4 0 1 0 2.8 0a1.4 1.4 0 1 0 -2.8 0M485.1 408.8a1.4 1.4 0 1 0 2.8 0a1.4 1.4 0 1 0 -2.8 0M484.9 407.3a1.4 1.4 0 1 0 2.8 0a1.4 1.4 0 1 0 -2.8 0M485.1 406.5a1.4 1.4 0 1 0 2.8 0a1.4 1.4 0 1 0 -2.8 0M485.3 406.0a1.4 1.4 0 1 0 2.8 0a1.4 1.4 0 1 0 -2.8 0M485.4 404.4a1.4 1.4 0 1 0 2.8 0a1.4 1.4 0 1 0 -2.8 0M485.7 403.3a1.4 1.4 0 1 0 2.8 0a1.4 1.4 0 1 0 -2.8 0M486.2 402.8a1.4 1.4 0 1 0 2.8 0a1.4 1.4 0 1 0 -2.8 0M486.2 402.2a1.4 1.4 0 1 0 2.8 0a1.4 1.4 0 1 0 -2.8 0M486.1 400.9a1.4 1.4 0 1 0 2.8 0a1.4 1.4 0 1 0 -2.8 0M486.3 399.1a1.4 1.4 0 1 0 2.8 0a1.4 1.4 0 1 0 -2.8 0M486.4 398.5a1.4 1.4 0 1 0 2.8 0a1.4 1.4 0 1 0 -2.8 0M487.0 397.7a1.4 1.4 0 1 0 2.8 0a1.4 1.4 0 1 0 -2.8 0M486.6 397.5a1.4 1.4 0 1 0 2.8 0a1.4 1.4 0 1 0 -2.8 0M487.2 396.1a1.4 1.4 0 1 0 2.8 0a1.4 1.4 0 1 0 -2.8 0M487.0 395.1a1.4 1.4 0 1 0 2.8 0a1.4 1.4 0 1 0 -2.8 0M487.2 394.3a1.4 1.4 0 1 0 2.8 0a1.4 1.4 0 1 0 -2.8 0M487.3 392.7a1.4 1.4 0 1 0 2.8 0a1.4 1.4 0 1 0 -2.8 0M488.0 392.0a1.4 1.4 0 1 0 2.8 0a1.4 1.4 0 1 0 -2.8 0M487.9 391.0a1.4 1.4 0 1 0 2.8 0a1.4 1.4 0 1 0 -2.8 0M488.6 389.4a1.4 1.4 0 1 0 2.8 0a1.4 1.4 0 1 0 -2.8 0M488.0 388.8a1.4 1.4 0 1 0 2.8 0a1.4 1.4 0 1 0 -2.8 0M488.2 388.1a1.4 1.4 0 1 0 2.8 0a1.4 1.4 0 1 0 -2.8 0M488.7 386.4a1.4 1.4 0 1 0 2.8 0a1.4 1.4 0 1 0 -2.8 0M488.8 386.2a1.4 1.4 0 1 0 2.8 0a1.4 1.4 0 1 0 -2.8 0M488.8 385.2a1.4 1.4 0 1 0 2.8 0a1.4 1.4 0 1 0 -2.8 0M488.6 384.3a1.4 1.4 0 1 0 2.8 0a1.4 1.4 0 1 0 -2.8 0M489.5 382.6a1.4 1.4 0 1 0 2.8 0a1.4 1.4 0 1 0 -2.8 0M489.4 382.0a1.4 1.4 0 1 0 2.8 0a1.4 1.4 0 1 0 -2.8 0M489.6 381.5a1.4 1.4 0 1 0 2.8 0a1.4 1.4 0 1 0 -2.8 0M489.5 380.3a1.4 1.4 0 1 0 2.8 0a1.4 1.4 0 1 0 -2.8 0M489.9 378.6a1.4 1.4 0 1 0 2.8 0a1.4 1.4 0 1 0 -2.8 0M489.8 378.1a1.4 1.4 0 1 0 2.8 0a1.4 1.4 0 1 0 -2.8 0M490.1 377.6a1.4 1.4 0 1 0 2.8 0a1.4 1.4 0 1 0 -2.8 0M490.2 376.0a1.4 1.4 0 1 0 2.8 0a1.4 1.4 0 1 0 -2.8 0M490.6 375.2a1.4 1.4 0 1 0 2.8 0a1.4 1.4 0 1 0 -2.8 0M490.5 375.1a1.4 1.4 0 1 0 2.8 0a1.4 1.4 0 1 0 -2.8 0M490.6 373.0a1.4 1.4 0 1 0 2.8 0a1.4 1.4 0 1 0 -2.8 0M491.1 372.0a1.4 1.4 0 1 0 2.8 0a1.4 1.4 0 1 0 -2.8 0M491.0 370.7a1.4 1.4 0 1 0 2.8 0a1.4 1.4 0 1 0 -2.8 0M491.1 369.8a1.4 1.4 0 1 0 2.8 0a1.4 1.4 0 1 0 -2.8 0M491.3 369.7a1.4 1.4 0 1 0 2.8 0a1.4 1.4 0 1 0 -2.8 0M491.6 368.0a1.4 1.4 0 1 0 2.8 0a1.4 1.4 0 1 0 -2.8 0M491.5 366.6a1.4 1.4 0 1 0 2.8 0a1.4 1.4 0 1 0 -2.8 0M491.8 365.7a1.4 1.4 0 1 0 2.8 0a1.4 1.4 0 1 0 -2.8 0M492.3 365.1a1.4 1.4 0 1 0 2.8 0a1.4 1.4 0 1 0 -2.8 0M492.1 364.4a1.4 1.4 0 1 0 2.8 0a1.4 1.4 0 1 0 -2.8 0M492.0 362.8a1.4 1.4 0 1 0 2.8 0a1.4 1.4 0 1 0 -2.8 0M492.1 362.4a1.4 1.4 0 1 0 2.8 0a1.4 1.4 0 1 0 -2.8 0M492.5 361.0a1.4 1.4 0 1 0 2.8 0a1.4 1.4 0 1 0 -2.8 0M492.4 360.3a1.4 1.4 0 1 0 2.8 0a1.4 1.4 0 1 0 -2.8 0M492.5 359.4a1.4 1.4 0 1 0 2.8 0a1.4 1.4 0 1 0 -2.8 0M492.8 358.4a1.4 1.4 0 1 0 2.8 0a1.4 1.4 0 1 0 -2.8 0M492.9 357.0a1.4 1.4 0 1 0 2.8 0a1.4 1.4 0 1 0 -2.8 0M493.4 356.2a1.4 1.4 0 1 0 2.8 0a1.4 1.4 0 1 0 -2.8 0M493.1 355.4a1.4 1.4 0 1 0 2.8 0a1.4 1.4 0 1 0 -2.8 0M493.9 353.7a1.4 1.4 0 1 0 2.8 0a1.4 1.4 0 1 0 -2.8 0M493.5 353.3a1.4 1.4 0 1 0 2.8 0a1.4 1.4 0 1 0 -2.8 0M493.9 352.5a1.4 1.4 0 1 0 2.8 0a1.4 1.4 0 1 0 -2.8 0M494.1 351.7a1.4 1.4 0 1 0 2.8 0a1.4 1.4 0 1 0 -2.8 0M494.2 350.3a1.4 1.4 0 1 0 2.8 0a1.4 1.4 0 1 0 -2.8 0M494.4 349.2a1.4 1.4 0 1 0 2.8 0a1.4 1.4 0 1 0 -2.8 0M494.3 348.4a1.4 1.4 0 1 0 2.8 0a1.4 1.4 0 1 0 -2.8 0M494.1 347.0a1.4 1.4 0 1 0 2.8 0a1.4 1.4 0 1 0 -2.8 0M494.7 346.2a1.4 1.4 0 1 0 2.8 0a1.4 1.4 0 1 0 -2.8 0M494.6 345.5a1.4 1.4 0 1 0 2.8 0a1.4 1.4 0 1 0 -2.8 0M494.9 344.5a1.4 1.4 0 1 0 2.8 0a1.4 1.4 0 1 0 -2.8 0M495.4 342.9a1.4 1.4 0 1 0 2.8 0a1.4 1.4 0 1 0 -2.8 0M495.3 342.2a1.4 1.4 0 1 0 2.8 0a1.4 1.4 0 1 0 -2.8 0M495.4 340.5a1.4 1.4 0 1 0 2.8 0a1.4 1.4 0 1 0 -2.8 0M495.5 340.7a1.4 1.4 0 1 0 2.8 0a1.4 1.4 0 1 0 -2.8 0M495.8 339.2a1.4 1.4 0 1 0 2.8 0a1.4 1.4 0 1 0 -2.8 0M496.0 338.5a1.4 1.4 0 1 0 2.8 0a1.4 1.4 0 1 0 -2.8 0M495.8 337.0a1.4 1.4 0 1 0 2.8 0a1.4 1.4 0 1 0 -2.8 0M496.4 336.4a1.4 1.4 0 1 0 2.8 0a1.4 1.4 0 1 0 -2.8 0M496.3 335.6a1.4 1.4 0 1 0 2.8 0a1.4 1.4 0 1 0 -2.8 0M496.7 334.9a1.4 1.4 0 1 0 2.8 0a1.4 1.4 0 1 0 -2.8 0M496.7 332.9a1.4 1.4 0 1 0 2.8 0a1.4 1.4 0 1 0 -2.8 0M497.2 332.8a1.4 1.4 0 1 0 2.8 0a1.4 1.4 0 1 0 -2.8 0M497.3 331.4a1.4 1.4 0 1 0 2.8 0a1.4 1.4 0 1 0 -2.8 0M497.3 330.2a1.4 1.4 0 1 0 2.8 0a1.4 1.4 0 1 0 -2.8 0M497.5 329.7a1.4 1.4 0 1 0 2.8 0a1.4 1.4 0 1 0 -2.8 0M497.7 328.4a1.4 1.4 0 1 0 2.8 0a1.4 1.4 0 1 0 -2.8 0M498.1 327.5a1.4 1.4 0 1 0 2.8 0a1.4 1.4 0 1 0 -2.8 0M498.2 326.3a1.4 1.4 0 1 0 2.8 0a1.4 1.4 0 1 0 -2.8 0M498.2 325.7a1.4 1.4 0 1 0 2.8 0a1.4 1.4 0 1 0 -2.8 0M498.4 324.6a1.4 1.4 0 1 0 2.8 0a1.4 1.4 0 1 0 -2.8 0M498.9 323.6a1.4 1.4 0 1 0 2.8 0a1.4 1.4 0 1 0 -2.8 0M498.4 322.3a1.4 1.4 0 1 0 2.8 0a1.4 1.4 0 1 0 -2.8 0M499.0 321.5a1.4 1.4 0 1 0 2.8 0a1.4 1.4 0 1 0 -2.8 0M498.9 320.8a1.4 1.4 0 1 0 2.8 0a1.4 1.4 0 1 0 -2.8 0M499.6 320.2a1.4 1.4 0 1 0 2.8 0a1.4 1.4 0 1 0 -2.8 0M499.4 318.7a1.4 1.4 0 1 0 2.8 0a1.4 1.4 0 1 0 -2.8 0M499.7 318.3a1.4 1.4 0 1 0 2.8 0a1.4 1.4 0 1 0 -2.8 0M499.7 316.8a1.4 1.4 0 1 0 2.8 0a1.4 1.4 0 1 0 -2.8 0M500.1 315.4a1.4 1.4 0 1 0 2.8 0a1.4 1.4 0 1 0 -2.8 0M500.5 315.1a1.4 1.4 0 1 0 2.8 0a1.4 1.4 0 1 0 -2.8 0M500.9 313.4a1.4 1.4 0 1 0 2.8 0a1.4 1.4 0 1 0 -2.8 0M500.5 313.0a1.4 1.4 0 1 0 2.8 0a1.4 1.4 0 1 0 -2.8 0M500.9 312.3a1.4 1.4 0 1 0 2.8 0a1.4 1.4 0 1 0 -2.8 0M502.0 310.8a1.4 1.4 0 1 0 2.8 0a1.4 1.4 0 1 0 -2.8 0M501.7 309.9a1.4 1.4 0 1 0 2.8 0a1.4 1.4 0 1 0 -2.8 0M501.7 310.0a1.4 1.4 0 1 0 2.8 0a1.4 1.4 0 1 0 -2.8 0M502.1 308.1a1.4 1.4 0 1 0 2.8 0a1.4 1.4 0 1 0 -2.8 0M501.7 307.2a1.4 1.4 0 1 0 2.8 0a1.4 1.4 0 1 0 -2.8 0M502.9 306.4a1.4 1.4 0 1 0 2.8 0a1.4 1.4 0 1 0 -2.8 0M502.9 305.1a1.4 1.4 0 1 0 2.8 0a1.4 1.4 0 1 0 -2.8 0M502.9 304.1a1.4 1.4 0 1 0 2.8 0a1.4 1.4 0 1 0 -2.8 0M503.7 303.4a1.4 1.4 0 1 0 2.8 0a1.4 1.4 0 1 0 -2.8 0M503.7 301.4a1.4 1.4 0 1 0 2.8 0a1.4 1.4 0 1 0 -2.8 0M504.0 302.0a1.4 1.4 0 1 0 2.8 0a1.4 1.4 0 1 0 -2.8 0M504.8 300.1a1.4 1.4 0 1 0 2.8 0a1.4 1.4 0 1 0 -2.8 0M505.3 299.2a1.4 1.4 0 1 0 2.8 0a1.4 1.4 0 1 0 -2.8 0M505.7 299.1a1.4 1.4 0 1 0 2.8 0a1.4 1.4 0 1 0 -2.8 0M506.6 298.2a1.4 1.4 0 1 0 2.8 0a1.4 1.4 0 1 0 -2.8 0M507.3 297.6a1.4 1.4 0 1 0 2.8 0a1.4 1.4 0 1 0 -2.8 0M508.1 298.8a1.4 1.4 0 1 0 2.8 0a1.4 1.4 0 1 0 -2.8 0M509.2 299.0a1.4 1.4 0 1 0 2.8 0a1.4 1.4 0 1 0 -2.8 0M509.8 300.0a1.4 1.4 0 1 0 2.8 0a1.4 1.4 0 1 0 -2.8 0M510.0 300.6a1.4 1.4 0 1 0 2.8 0a1.4 1.4 0 1 0 -2.8 0M510.4 301.8a1.4 1.4 0 1 0 2.8 0a1.4 1.4 0 1 0 -2.8 0M510.6 303.2a1.4 1.4 0 1 0 2.8 0a1.4 1.4 0 1 0 -2.8 0M511.0 304.1a1.4 1.4 0 1 0 2.8 0a1.4 1.4 0 1 0 -2.8 0M511.1 305.1a1.4 1.4 0 1 0 2.8 0a1.4 1.4 0 1 0 -2.8 0M511.9 306.3a1.4 1.4 0 1 0 2.8 0a1.4 1.4 0 1 0 -2.8 0M511.7 306.9a1.4 1.4 0 1 0 2.8 0a1.4 1.4 0 1 0 -2.8 0M512.2 307.6a1.4 1.4 0 1 0 2.8 0a1.4 1.4 0 1 0 -2.8 0M512.3 308.7a1.4 1.4 0 1 0 2.8 0a1.4 1.4 0 1 0 -2.8 0M512.3 310.5a1.4 1.4 0 1 0 2.8 0a1.4 1.4 0 1 0 -2.8 0M513.2 310.8a1.4 1.4 0 1 0 2.8 0a1.4 1.4 0 1 0 -2.8 0M512.9 311.9a1.4 1.4 0 1 0 2.8 0a1.4 1.4 0 1 0 -2.8 0M513.1 312.7a1.4 1.4 0 1 0 2.8 0a1.4 1.4 0 1 0 -2.8 0M513.5 313.8a1.4 1.4 0 1 0 2.8 0a1.4 1.4 0 1 0 -2.8 0M513.5 314.9a1.4 1.4 0 1 0 2.8 0a1.4 1.4 0 1 0 -2.8 0M513.9 315.7a1.4 1.4 0 1 0 2.8 0a1.4 1.4 0 1 0 -2.8 0M513.8 316.6a1.4 1.4 0 1 0 2.8 0a1.4 1.4 0 1 0 -2.8 0M514.3 317.3a1.4 1.4 0 1 0 2.8 0a1.4 1.4 0 1 0 -2.8 0M514.4 318.3a1.4 1.4 0 1 0 2.8 0a1.4 1.4 0 1 0 -2.8 0M514.3 319.8a1.4 1.4 0 1 0 2.8 0a1.4 1.4 0 1 0 -2.8 0M515.0 320.9a1.4 1.4 0 1 0 2.8 0a1.4 1.4 0 1 0 -2.8 0M515.0 321.9a1.4 1.4 0 1 0 2.8 0a1.4 1.4 0 1 0 -2.8 0M514.9 322.6a1.4 1.4 0 1 0 2.8 0a1.4 1.4 0 1 0 -2.8 0M515.4 323.2a1.4 1.4 0 1 0 2.8 0a1.4 1.4 0 1 0 -2.8 0M515.6 324.8a1.4 1.4 0 1 0 2.8 0a1.4 1.4 0 1 0 -2.8 0M516.0 325.8a1.4 1.4 0 1 0 2.8 0a1.4 1.4 0 1 0 -2.8 0M515.6 325.9a1.4 1.4 0 1 0 2.8 0a1.4 1.4 0 1 0 -2.8 0M516.2 327.8a1.4 1.4 0 1 0 2.8 0a1.4 1.4 0 1 0 -2.8 0M516.1 328.7a1.4 1.4 0 1 0 2.8 0a1.4 1.4 0 1 0 -2.8 0M516.4 330.1a1.4 1.4 0 1 0 2.8 0a1.4 1.4 0 1 0 -2.8 0M516.4 330.0a1.4 1.4 0 1 0 2.8 0a1.4 1.4 0 1 0 -2.8 0M516.6 330.9a1.4 1.4 0 1 0 2.8 0a1.4 1.4 0 1 0 -2.8 0M516.9 332.7a1.4 1.4 0 1 0 2.8 0a1.4 1.4 0 1 0 -2.8 0M516.7 332.7a1.4 1.4 0 1 0 2.8 0a1.4 1.4 0 1 0 -2.8 0M516.7 334.1a1.4 1.4 0 1 0 2.8 0a1.4 1.4 0 1 0 -2.8 0M517.2 334.9a1.4 1.4 0 1 0 2.8 0a1.4 1.4 0 1 0 -2.8 0M517.3 336.0a1.4 1.4 0 1 0 2.8 0a1.4 1.4 0 1 0 -2.8 0M517.6 336.6a1.4 1.4 0 1 0 2.8 0a1.4 1.4 0 1 0 -2.8 0M517.8 338.3a1.4 1.4 0 1 0 2.8 0a1.4 1.4 0 1 0 -2.8 0M517.8 339.7a1.4 1.4 0 1 0 2.8 0a1.4 1.4 0 1 0 -2.8 0M518.2 340.5a1.4 1.4 0 1 0 2.8 0a1.4 1.4 0 1 0 -2.8 0M518.1 341.5a1.4 1.4 0 1 0 2.8 0a1.4 1.4 0 1 0 -2.8 0M518.3 342.2a1.4 1.4 0 1 0 2.8 0a1.4 1.4 0 1 0 -2.8 0M518.6 343.9a1.4 1.4 0 1 0 2.8 0a1.4 1.4 0 1 0 -2.8 0M518.7 344.5a1.4 1.4 0 1 0 2.8 0a1.4 1.4 0 1 0 -2.8 0M518.7 345.7a1.4 1.4 0 1 0 2.8 0a1.4 1.4 0 1 0 -2.8 0M518.9 345.6a1.4 1.4 0 1 0 2.8 0a1.4 1.4 0 1 0 -2.8 0M518.9 347.4a1.4 1.4 0 1 0 2.8 0a1.4 1.4 0 1 0 -2.8 0M519.1 347.8a1.4 1.4 0 1 0 2.8 0a1.4 1.4 0 1 0 -2.8 0M519.3 349.4a1.4 1.4 0 1 0 2.8 0a1.4 1.4 0 1 0 -2.8 0M519.6 350.3a1.4 1.4 0 1 0 2.8 0a1.4 1.4 0 1 0 -2.8 0M519.5 350.8a1.4 1.4 0 1 0 2.8 0a1.4 1.4 0 1 0 -2.8 0M519.9 352.3a1.4 1.4 0 1 0 2.8 0a1.4 1.4 0 1 0 -2.8 0M520.3 353.7a1.4 1.4 0 1 0 2.8 0a1.4 1.4 0 1 0 -2.8 0M520.5 354.4a1.4 1.4 0 1 0 2.8 0a1.4 1.4 0 1 0 -2.8 0M520.2 355.4a1.4 1.4 0 1 0 2.8 0a1.4 1.4 0 1 0 -2.8 0M520.5 355.8a1.4 1.4 0 1 0 2.8 0a1.4 1.4 0 1 0 -2.8 0M520.6 356.9a1.4 1.4 0 1 0 2.8 0a1.4 1.4 0 1 0 -2.8 0M520.8 357.7a1.4 1.4 0 1 0 2.8 0a1.4 1.4 0 1 0 -2.8 0M520.9 359.2a1.4 1.4 0 1 0 2.8 0a1.4 1.4 0 1 0 -2.8 0M521.0 360.6a1.4 1.4 0 1 0 2.8 0a1.4 1.4 0 1 0 -2.8 0M521.2 361.3a1.4 1.4 0 1 0 2.8 0a1.4 1.4 0 1 0 -2.8 0M521.2 362.1a1.4 1.4 0 1 0 2.8 0a1.4 1.4 0 1 0 -2.8 0M521.3 362.6a1.4 1.4 0 1 0 2.8 0a1.4 1.4 0 1 0 -2.8 0M521.5 364.3a1.4 1.4 0 1 0 2.8 0a1.4 1.4 0 1 0 -2.8 0M521.7 365.0a1.4 1.4 0 1 0 2.8 0a1.4 1.4 0 1 0 -2.8 0M522.0 365.3a1.4 1.4 0 1 0 2.8 0a1.4 1.4 0 1 0 -2.8 0M521.9 366.4a1.4 1.4 0 1 0 2.8 0a1.4 1.4 0 1 0 -2.8 0M522.2 367.9a1.4 1.4 0 1 0 2.8 0a1.4 1.4 0 1 0 -2.8 0M522.4 368.7a1.4 1.4 0 1 0 2.8 0a1.4 1.4 0 1 0 -2.8 0M522.1 370.7a1.4 1.4 0 1 0 2.8 0a1.4 1.4 0 1 0 -2.8 0M522.4 371.0a1.4 1.4 0 1 0 2.8 0a1.4 1.4 0 1 0 -2.8 0M522.7 371.6a1.4 1.4 0 1 0 2.8 0a1.4 1.4 0 1 0 -2.8 0M522.7 372.8a1.4 1.4 0 1 0 2.8 0a1.4 1.4 0 1 0 -2.8 0M522.7 374.6a1.4 1.4 0 1 0 2.8 0a1.4 1.4 0 1 0 -2.8 0M523.2 374.6a1.4 1.4 0 1 0 2.8 0a1.4 1.4 0 1 0 -2.8 0M523.1 376.3a1.4 1.4 0 1 0 2.8 0a1.4 1.4 0 1 0 -2.8 0M523.1 377.1a1.4 1.4 0 1 0 2.8 0a1.4 1.4 0 1 0 -2.8 0M523.8 378.5a1.4 1.4 0 1 0 2.8 0a1.4 1.4 0 1 0 -2.8 0M523.3 379.1a1.4 1.4 0 1 0 2.8 0a1.4 1.4 0 1 0 -2.8 0M523.7 379.8a1.4 1.4 0 1 0 2.8 0a1.4 1.4 0 1 0 -2.8 0M523.8 381.1a1.4 1.4 0 1 0 2.8 0a1.4 1.4 0 1 0 -2.8 0M524.1 381.9a1.4 1.4 0 1 0 2.8 0a1.4 1.4 0 1 0 -2.8 0M524.3 383.3a1.4 1.4 0 1 0 2.8 0a1.4 1.4 0 1 0 -2.8 0M524.2 383.9a1.4 1.4 0 1 0 2.8 0a1.4 1.4 0 1 0 -2.8 0M524.5 385.7a1.4 1.4 0 1 0 2.8 0a1.4 1.4 0 1 0 -2.8 0M524.6 385.8a1.4 1.4 0 1 0 2.8 0a1.4 1.4 0 1 0 -2.8 0M524.6 387.0a1.4 1.4 0 1 0 2.8 0a1.4 1.4 0 1 0 -2.8 0M525.2 387.6a1.4 1.4 0 1 0 2.8 0a1.4 1.4 0 1 0 -2.8 0M525.1 388.9a1.4 1.4 0 1 0 2.8 0a1.4 1.4 0 1 0 -2.8 0M525.2 389.8a1.4 1.4 0 1 0 2.8 0a1.4 1.4 0 1 0 -2.8 0M525.2 390.9a1.4 1.4 0 1 0 2.8 0a1.4 1.4 0 1 0 -2.8 0M525.5 392.1a1.4 1.4 0 1 0 2.8 0a1.4 1.4 0 1 0 -2.8 0M525.7 392.6a1.4 1.4 0 1 0 2.8 0a1.4 1.4 0 1 0 -2.8 0M525.8 393.4a1.4 1.4 0 1 0 2.8 0a1.4 1.4 0 1 0 -2.8 0M526.3 395.2a1.4 1.4 0 1 0 2.8 0a1.4 1.4 0 1 0 -2.8 0M525.7 395.6a1.4 1.4 0 1 0 2.8 0a1.4 1.4 0 1 0 -2.8 0M525.9 396.5a1.4 1.4 0 1 0 2.8 0a1.4 1.4 0 1 0 -2.8 0M526.4 398.2a1.4 1.4 0 1 0 2.8 0a1.4 1.4 0 1 0 -2.8 0M526.3 399.0a1.4 1.4 0 1 0 2.8 0a1.4 1.4 0 1 0 -2.8 0M526.8 398.6a1.4 1.4 0 1 0 2.8 0a1.4 1.4 0 1 0 -2.8 0M526.8 400.5a1.4 1.4 0 1 0 2.8 0a1.4 1.4 0 1 0 -2.8 0M527.3 402.0a1.4 1.4 0 1 0 2.8 0a1.4 1.4 0 1 0 -2.8 0M527.4 403.0a1.4 1.4 0 1 0 2.8 0a1.4 1.4 0 1 0 -2.8 0M527.7 403.4a1.4 1.4 0 1 0 2.8 0a1.4 1.4 0 1 0 -2.8 0M527.8 405.2a1.4 1.4 0 1 0 2.8 0a1.4 1.4 0 1 0 -2.8 0M528.1 405.3a1.4 1.4 0 1 0 2.8 0a1.4 1.4 0 1 0 -2.8 0M528.1 406.5a1.4 1.4 0 1 0 2.8 0a1.4 1.4 0 1 0 -2.8 0M528.4 407.6a1.4 1.4 0 1 0 2.8 0a1.4 1.4 0 1 0 -2.8 0M528.4 408.6a1.4 1.4 0 1 0 2.8 0a1.4 1.4 0 1 0 -2.8 0M528.4 409.9a1.4 1.4 0 1 0 2.8 0a1.4 1.4 0 1 0 -2.8 0M528.4 410.9a1.4 1.4 0 1 0 2.8 0a1.4 1.4 0 1 0 -2.8 0M528.6 411.5a1.4 1.4 0 1 0 2.8 0a1.4 1.4 0 1 0 -2.8 0M529.2 413.0a1.4 1.4 0 1 0 2.8 0a1.4 1.4 0 1 0 -2.8 0M528.8 413.2a1.4 1.4 0 1 0 2.8 0a1.4 1.4 0 1 0 -2.8 0M529.5 414.4a1.4 1.4 0 1 0 2.8 0a1.4 1.4 0 1 0 -2.8 0M529.5 416.1a1.4 1.4 0 1 0 2.8 0a1.4 1.4 0 1 0 -2.8 0M530.0 416.5a1.4 1.4 0 1 0 2.8 0a1.4 1.4 0 1 0 -2.8 0M530.1 417.8a1.4 1.4 0 1 0 2.8 0a1.4 1.4 0 1 0 -2.8 0M530.1 418.2a1.4 1.4 0 1 0 2.8 0a1.4 1.4 0 1 0 -2.8 0M530.4 419.3a1.4 1.4 0 1 0 2.8 0a1.4 1.4 0 1 0 -2.8 0M530.2 420.3a1.4 1.4 0 1 0 2.8 0a1.4 1.4 0 1 0 -2.8 0M530.9 421.4a1.4 1.4 0 1 0 2.8 0a1.4 1.4 0 1 0 -2.8 0M531.2 422.2a1.4 1.4 0 1 0 2.8 0a1.4 1.4 0 1 0 -2.8 0M530.9 423.3a1.4 1.4 0 1 0 2.8 0a1.4 1.4 0 1 0 -2.8 0M531.7 424.5a1.4 1.4 0 1 0 2.8 0a1.4 1.4 0 1 0 -2.8 0M531.7 425.7a1.4 1.4 0 1 0 2.8 0a1.4 1.4 0 1 0 -2.8 0M532.0 426.2a1.4 1.4 0 1 0 2.8 0a1.4 1.4 0 1 0 -2.8 0M531.9 427.4a1.4 1.4 0 1 0 2.8 0a1.4 1.4 0 1 0 -2.8 0M532.6 428.5a1.4 1.4 0 1 0 2.8 0a1.4 1.4 0 1 0 -2.8 0M532.8 428.7a1.4 1.4 0 1 0 2.8 0a1.4 1.4 0 1 0 -2.8 0M533.0 429.4a1.4 1.4 0 1 0 2.8 0a1.4 1.4 0 1 0 -2.8 0M533.0 431.7a1.4 1.4 0 1 0 2.8 0a1.4 1.4 0 1 0 -2.8 0M533.7 432.5a1.4 1.4 0 1 0 2.8 0a1.4 1.4 0 1 0 -2.8 0M534.0 433.0a1.4 1.4 0 1 0 2.8 0a1.4 1.4 0 1 0 -2.8 0M534.2 434.0a1.4 1.4 0 1 0 2.8 0a1.4 1.4 0 1 0 -2.8 0M534.6 434.5a1.4 1.4 0 1 0 2.8 0a1.4 1.4 0 1 0 -2.8 0M534.6 435.3a1.4 1.4 0 1 0 2.8 0a1.4 1.4 0 1 0 -2.8 0M535.1 436.9a1.4 1.4 0 1 0 2.8 0a1.4 1.4 0 1 0 -2.8 0M535.4 437.1a1.4 1.4 0 1 0 2.8 0a1.4 1.4 0 1 0 -2.8 0M535.7 439.0a1.4 1.4 0 1 0 2.8 0a1.4 1.4 0 1 0 -2.8 0M536.7 439.3a1.4 1.4 0 1 0 2.8 0a1.4 1.4 0 1 0 -2.8 0M536.6 440.6a1.4 1.4 0 1 0 2.8 0a1.4 1.4 0 1 0 -2.8 0M536.8 442.2a1.4 1.4 0 1 0 2.8 0a1.4 1.4 0 1 0 -2.8 0M537.5 443.0a1.4 1.4 0 1 0 2.8 0a1.4 1.4 0 1 0 -2.8 0M537.6 443.1a1.4 1.4 0 1 0 2.8 0a1.4 1.4 0 1 0 -2.8 0M538.4 444.4a1.4 1.4 0 1 0 2.8 0a1.4 1.4 0 1 0 -2.8 0M539.1 444.4a1.4 1.4 0 1 0 2.8 0a1.4 1.4 0 1 0 -2.8 0M539.5 445.4a1.4 1.4 0 1 0 2.8 0a1.4 1.4 0 1 0 -2.8 0M540.2 446.5a1.4 1.4 0 1 0 2.8 0a1.4 1.4 0 1 0 -2.8 0M540.9 447.4a1.4 1.4 0 1 0 2.8 0a1.4 1.4 0 1 0 -2.8 0M542.0 447.0a1.4 1.4 0 1 0 2.8 0a1.4 1.4 0 1 0 -2.8 0M542.9 447.6a1.4 1.4 0 1 0 2.8 0a1.4 1.4 0 1 0 -2.8 0M544.3 447.2a1.4 1.4 0 1 0 2.8 0a1.4 1.4 0 1 0 -2.8 0M545.0 446.2a1.4 1.4 0 1 0 2.8 0a1.4 1.4 0 1 0 -2.8 0M545.7 446.1a1.4 1.4 0 1 0 2.8 0a1.4 1.4 0 1 0 -2.8 0M546.2 446.1a1.4 1.4 0 1 0 2.8 0a1.4 1.4 0 1 0 -2.8 0M547.5 444.7a1.4 1.4 0 1 0 2.8 0a1.4 1.4 0 1 0 -2.8 0M548.0 444.2a1.4 1.4 0 1 0 2.8 0a1.4 1.4 0 1 0 -2.8 0M548.4 443.5a1.4 1.4 0 1 0 2.8 0a1.4 1.4 0 1 0 -2.8 0M548.9 442.0a1.4 1.4 0 1 0 2.8 0a1.4 1.4 0 1 0 -2.8 0M549.4 442.0a1.4 1.4 0 1 0 2.8 0a1.4 1.4 0 1 0 -2.8 0M549.8 441.2a1.4 1.4 0 1 0 2.8 0a1.4 1.4 0 1 0 -2.8 0M550.8 440.4a1.4 1.4 0 1 0 2.8 0a1.4 1.4 0 1 0 -2.8 0M550.9 439.4a1.4 1.4 0 1 0 2.8 0a1.4 1.4 0 1 0 -2.8 0M551.0 437.8a1.4 1.4 0 1 0 2.8 0a1.4 1.4 0 1 0 -2.8 0M551.6 436.8a1.4 1.4 0 1 0 2.8 0a1.4 1.4 0 1 0 -2.8 0M551.7 435.8a1.4 1.4 0 1 0 2.8 0a1.4 1.4 0 1 0 -2.8 0M552.7 434.9a1.4 1.4 0 1 0 2.8 0a1.4 1.4 0 1 0 -2.8 0M553.2 434.0a1.4 1.4 0 1 0 2.8 0a1.4 1.4 0 1 0 -2.8 0M553.8 433.8a1.4 1.4 0 1 0 2.8 0a1.4 1.4 0 1 0 -2.8 0M554.2 433.1a1.4 1.4 0 1 0 2.8 0a1.4 1.4 0 1 0 -2.8 0M554.0 431.3a1.4 1.4 0 1 0 2.8 0a1.4 1.4 0 1 0 -2.8 0M554.7 431.0a1.4 1.4 0 1 0 2.8 0a1.4 1.4 0 1 0 -2.8 0M555.1 429.2a1.4 1.4 0 1 0 2.8 0a1.4 1.4 0 1 0 -2.8 0M555.5 428.7a1.4 1.4 0 1 0 2.8 0a1.4 1.4 0 1 0 -2.8 0M555.6 427.5a1.4 1.4 0 1 0 2.8 0a1.4 1.4 0 1 0 -2.8 0M556.2 426.3a1.4 1.4 0 1 0 2.8 0a1.4 1.4 0 1 0 -2.8 0M556.5 426.0a1.4 1.4 0 1 0 2.8 0a1.4 1.4 0 1 0 -2.8 0M557.1 425.1a1.4 1.4 0 1 0 2.8 0a1.4 1.4 0 1 0 -2.8 0M557.1 424.0a1.4 1.4 0 1 0 2.8 0a1.4 1.4 0 1 0 -2.8 0M557.5 423.0a1.4 1.4 0 1 0 2.8 0a1.4 1.4 0 1 0 -2.8 0M557.8 421.9a1.4 1.4 0 1 0 2.8 0a1.4 1.4 0 1 0 -2.8 0M558.1 421.3a1.4 1.4 0 1 0 2.8 0a1.4 1.4 0 1 0 -2.8 0M558.4 420.2a1.4 1.4 0 1 0 2.8 0a1.4 1.4 0 1 0 -2.8 0M558.9 419.6a1.4 1.4 0 1 0 2.8 0a1.4 1.4 0 1 0 -2.8 0M559.4 418.0a1.4 1.4 0 1 0 2.8 0a1.4 1.4 0 1 0 -2.8 0M559.7 417.7a1.4 1.4 0 1 0 2.8 0a1.4 1.4 0 1 0 -2.8 0M560.3 416.9a1.4 1.4 0 1 0 2.8 0a1.4 1.4 0 1 0 -2.8 0M560.6 416.2a1.4 1.4 0 1 0 2.8 0a1.4 1.4 0 1 0 -2.8 0M560.9 415.2a1.4 1.4 0 1 0 2.8 0a1.4 1.4 0 1 0 -2.8 0M560.9 413.9a1.4 1.4 0 1 0 2.8 0a1.4 1.4 0 1 0 -2.8 0M561.6 412.7a1.4 1.4 0 1 0 2.8 0a1.4 1.4 0 1 0 -2.8 0M562.1 411.3a1.4 1.4 0 1 0 2.8 0a1.4 1.4 0 1 0 -2.8 0M561.9 411.1a1.4 1.4 0 1 0 2.8 0a1.4 1.4 0 1 0 -2.8 0M562.4 410.7a1.4 1.4 0 1 0 2.8 0a1.4 1.4 0 1 0 -2.8 0M562.8 409.9a1.4 1.4 0 1 0 2.8 0a1.4 1.4 0 1 0 -2.8 0M563.2 407.3a1.4 1.4 0 1 0 2.8 0a1.4 1.4 0 1 0 -2.8 0M563.7 407.1a1.4 1.4 0 1 0 2.8 0a1.4 1.4 0 1 0 -2.8 0M564.0 406.3a1.4 1.4 0 1 0 2.8 0a1.4 1.4 0 1 0 -2.8 0M564.7 405.2a1.4 1.4 0 1 0 2.8 0a1.4 1.4 0 1 0 -2.8 0M564.8 404.7a1.4 1.4 0 1 0 2.8 0a1.4 1.4 0 1 0 -2.8 0M565.4 403.8a1.4 1.4 0 1 0 2.8 0a1.4 1.4 0 1 0 -2.8 0M565.8 402.7a1.4 1.4 0 1 0 2.8 0a1.4 1.4 0 1 0 -2.8 0M566.2 402.0a1.4 1.4 0 1 0 2.8 0a1.4 1.4 0 1 0 -2.8 0M567.1 400.5a1.4 1.4 0 1 0 2.8 0a1.4 1.4 0 1 0 -2.8 0M567.4 399.9a1.4 1.4 0 1 0 2.8 0a1.4 1.4 0 1 0 -2.8 0M568.0 399.1a1.4 1.4 0 1 0 2.8 0a1.4 1.4 0 1 0 -2.8 0M568.4 399.0a1.4 1.4 0 1 0 2.8 0a1.4 1.4 0 1 0 -2.8 0M569.3 397.2a1.4 1.4 0 1 0 2.8 0a1.4 1.4 0 1 0 -2.8 0M569.9 397.0a1.4 1.4 0 1 0 2.8 0a1.4 1.4 0 1 0 -2.8 0M570.5 396.7a1.4 1.4 0 1 0 2.8 0a1.4 1.4 0 1 0 -2.8 0M571.0 395.8a1.4 1.4 0 1 0 2.8 0a1.4 1.4 0 1 0 -2.8 0M572.4 395.7a1.4 1.4 0 1 0 2.8 0a1.4 1.4 0 1 0 -2.8 0M573.3 394.9a1.4 1.4 0 1 0 2.8 0a1.4 1.4 0 1 0 -2.8 0M574.2 395.5a1.4 1.4 0 1 0 2.8 0a1.4 1.4 0 1 0 -2.8 0M575.1 396.1a1.4 1.4 0 1 0 2.8 0a1.4 1.4 0 1 0 -2.8 0M575.9 397.3a1.4 1.4 0 1 0 2.8 0a1.4 1.4 0 1 0 -2.8 0M576.6 397.4a1.4 1.4 0 1 0 2.8 0a1.4 1.4 0 1 0 -2.8 0M576.9 398.5a1.4 1.4 0 1 0 2.8 0a1.4 1.4 0 1 0 -2.8 0M577.6 398.8a1.4 1.4 0 1 0 2.8 0a1.4 1.4 0 1 0 -2.8 0M578.2 399.7a1.4 1.4 0 1 0 2.8 0a1.4 1.4 0 1 0 -2.8 0M578.5 401.2a1.4 1.4 0 1 0 2.8 0a1.4 1.4 0 1 0 -2.8 0M578.8 401.7a1.4 1.4 0 1 0 2.8 0a1.4 1.4 0 1 0 -2.8 0M579.8 402.9a1.4 1.4 0 1 0 2.8 0a1.4 1.4 0 1 0 -2.8 0M579.9 403.6a1.4 1.4 0 1 0 2.8 0a1.4 1.4 0 1 0 -2.8 0M580.1 405.1a1.4 1.4 0 1 0 2.8 0a1.4 1.4 0 1 0 -2.8 0M580.5 406.1a1.4 1.4 0 1 0 2.8 0a1.4 1.4 0 1 0 -2.8 0M580.4 405.7a1.4 1.4 0 1 0 2.8 0a1.4 1.4 0 1 0 -2.8 0M581.0 407.8a1.4 1.4 0 1 0 2.8 0a1.4 1.4 0 1 0 -2.8 0M581.5 408.1a1.4 1.4 0 1 0 2.8 0a1.4 1.4 0 1 0 -2.8 0M582.2 409.1a1.4 1.4 0 1 0 2.8 0a1.4 1.4 0 1 0 -2.8 0M581.8 409.8a1.4 1.4 0 1 0 2.8 0a1.4 1.4 0 1 0 -2.8 0M582.4 411.1a1.4 1.4 0 1 0 2.8 0a1.4 1.4 0 1 0 -2.8 0M583.2 411.3a1.4 1.4 0 1 0 2.8 0a1.4 1.4 0 1 0 -2.8 0M583.3 412.4a1.4 1.4 0 1 0 2.8 0a1.4 1.4 0 1 0 -2.8 0M583.6 413.3a1.4 1.4 0 1 0 2.8 0a1.4 1.4 0 1 0 -2.8 0M584.0 414.7a1.4 1.4 0 1 0 2.8 0a1.4 1.4 0 1 0 -2.8 0M584.0 415.9a1.4 1.4 0 1 0 2.8 0a1.4 1.4 0 1 0 -2.8 0M584.3 416.8a1.4 1.4 0 1 0 2.8 0a1.4 1.4 0 1 0 -2.8 0M584.8 417.6a1.4 1.4 0 1 0 2.8 0a1.4 1.4 0 1 0 -2.8 0M585.1 418.2a1.4 1.4 0 1 0 2.8 0a1.4 1.4 0 1 0 -2.8 0M585.0 418.7a1.4 1.4 0 1 0 2.8 0a1.4 1.4 0 1 0 -2.8 0M585.8 420.5a1.4 1.4 0 1 0 2.8 0a1.4 1.4 0 1 0 -2.8 0M585.5 421.4a1.4 1.4 0 1 0 2.8 0a1.4 1.4 0 1 0 -2.8 0M586.0 422.4a1.4 1.4 0 1 0 2.8 0a1.4 1.4 0 1 0 -2.8 0M587.0 423.8a1.4 1.4 0 1 0 2.8 0a1.4 1.4 0 1 0 -2.8 0M586.6 424.1a1.4 1.4 0 1 0 2.8 0a1.4 1.4 0 1 0 -2.8 0M587.1 425.1a1.4 1.4 0 1 0 2.8 0a1.4 1.4 0 1 0 -2.8 0M587.0 425.2a1.4 1.4 0 1 0 2.8 0a1.4 1.4 0 1 0 -2.8 0M587.5 427.3a1.4 1.4 0 1 0 2.8 0a1.4 1.4 0 1 0 -2.8 0M587.7 428.0a1.4 1.4 0 1 0 2.8 0a1.4 1.4 0 1 0 -2.8 0M588.0 428.7a1.4 1.4 0 1 0 2.8 0a1.4 1.4 0 1 0 -2.8 0M588.5 430.1a1.4 1.4 0 1 0 2.8 0a1.4 1.4 0 1 0 -2.8 0M589.0 430.5a1.4 1.4 0 1 0 2.8 0a1.4 1.4 0 1 0 -2.8 0M589.1 431.6a1.4 1.4 0 1 0 2.8 0a1.4 1.4 0 1 0 -2.8 0M589.6 433.6a1.4 1.4 0 1 0 2.8 0a1.4 1.4 0 1 0 -2.8 0M589.4 434.1a1.4 1.4 0 1 0 2.8 0a1.4 1.4 0 1 0 -2.8 0M590.1 435.1a1.4 1.4 0 1 0 2.8 0a1.4 1.4 0 1 0 -2.8 0M590.3 436.0a1.4 1.4 0 1 0 2.8 0a1.4 1.4 0 1 0 -2.8 0M590.7 436.9a1.4 1.4 0 1 0 2.8 0a1.4 1.4 0 1 0 -2.8 0M590.7 437.7a1.4 1.4 0 1 0 2.8 0a1.4 1.4 0 1 0 -2.8 0M591.0 439.4a1.4 1.4 0 1 0 2.8 0a1.4 1.4 0 1 0 -2.8 0M591.6 439.4a1.4 1.4 0 1 0 2.8 0a1.4 1.4 0 1 0 -2.8 0M591.8 440.7a1.4 1.4 0 1 0 2.8 0a1.4 1.4 0 1 0 -2.8 0M592.0 441.3a1.4 1.4 0 1 0 2.8 0a1.4 1.4 0 1 0 -2.8 0M592.2 442.2a1.4 1.4 0 1 0 2.8 0a1.4 1.4 0 1 0 -2.8 0M592.6 442.3a1.4 1.4 0 1 0 2.8 0a1.4 1.4 0 1 0 -2.8 0M593.1 443.4a1.4 1.4 0 1 0 2.8 0a1.4 1.4 0 1 0 -2.8 0M593.5 445.8a1.4 1.4 0 1 0 2.8 0a1.4 1.4 0 1 0 -2.8 0M593.6 446.7a1.4 1.4 0 1 0 2.8 0a1.4 1.4 0 1 0 -2.8 0M594.0 446.8a1.4 1.4 0 1 0 2.8 0a1.4 1.4 0 1 0 -2.8 0M594.5 447.9a1.4 1.4 0 1 0 2.8 0a1.4 1.4 0 1 0 -2.8 0M594.5 449.1a1.4 1.4 0 1 0 2.8 0a1.4 1.4 0 1 0 -2.8 0M595.3 449.4a1.4 1.4 0 1 0 2.8 0a1.4 1.4 0 1 0 -2.8 0M595.5 451.4a1.4 1.4 0 1 0 2.8 0a1.4 1.4 0 1 0 -2.8 0M595.9 451.2a1.4 1.4 0 1 0 2.8 0a1.4 1.4 0 1 0 -2.8 0M595.8 452.3a1.4 1.4 0 1 0 2.8 0a1.4 1.4 0 1 0 -2.8 0M596.4 452.4a1.4 1.4 0 1 0 2.8 0a1.4 1.4 0 1 0 -2.8 0M596.9 455.0a1.4 1.4 0 1 0 2.8 0a1.4 1.4 0 1 0 -2.8 0M597.5 455.3a1.4 1.4 0 1 0 2.8 0a1.4 1.4 0 1 0 -2.8 0M597.8 456.8a1.4 1.4 0 1 0 2.8 0a1.4 1.4 0 1 0 -2.8 0M598.6 456.6a1.4 1.4 0 1 0 2.8 0a1.4 1.4 0 1 0 -2.8 0M599.0 458.1a1.4 1.4 0 1 0 2.8 0a1.4 1.4 0 1 0 -2.8 0M599.4 458.8a1.4 1.4 0 1 0 2.8 0a1.4 1.4 0 1 0 -2.8 0M599.6 459.7a1.4 1.4 0 1 0 2.8 0a1.4 1.4 0 1 0 -2.8 0M600.9 461.3a1.4 1.4 0 1 0 2.8 0a1.4 1.4 0 1 0 -2.8 0M601.1 462.2a1.4 1.4 0 1 0 2.8 0a1.4 1.4 0 1 0 -2.8 0M601.9 462.6a1.4 1.4 0 1 0 2.8 0a1.4 1.4 0 1 0 -2.8 0M602.2 462.7a1.4 1.4 0 1 0 2.8 0a1.4 1.4 0 1 0 -2.8 0M603.0 464.0a1.4 1.4 0 1 0 2.8 0a1.4 1.4 0 1 0 -2.8 0M603.8 464.9a1.4 1.4 0 1 0 2.8 0a1.4 1.4 0 1 0 -2.8 0M604.5 465.3a1.4 1.4 0 1 0 2.8 0a1.4 1.4 0 1 0 -2.8 0M605.3 466.0a1.4 1.4 0 1 0 2.8 0a1.4 1.4 0 1 0 -2.8 0M605.9 466.5a1.4 1.4 0 1 0 2.8 0a1.4 1.4 0 1 0 -2.8 0M607.1 466.6a1.4 1.4 0 1 0 2.8 0a1.4 1.4 0 1 0 -2.8 0M607.2 467.6a1.4 1.4 0 1 0 2.8 0a1.4 1.4 0 1 0 -2.8 0M608.3 468.6a1.4 1.4 0 1 0 2.8 0a1.4 1.4 0 1 0 -2.8 0M609.5 468.0a1.4 1.4 0 1 0 2.8 0a1.4 1.4 0 1 0 -2.8 0M610.2 468.8a1.4 1.4 0 1 0 2.8 0a1.4 1.4 0 1 0 -2.8 0M611.1 469.5a1.4 1.4 0 1 0 2.8 0a1.4 1.4 0 1 0 -2.8 0M611.8 468.9a1.4 1.4 0 1 0 2.8 0a1.4 1.4 0 1 0 -2.8 0M613.4 469.7a1.4 1.4 0 1 0 2.8 0a1.4 1.4 0 1 0 -2.8 0M613.7 469.3a1.4 1.4 0 1 0 2.8 0a1.4 1.4 0 1 0 -2.8 0M615.2 469.9a1.4 1.4 0 1 0 2.8 0a1.4 1.4 0 1 0 -2.8 0M616.1 469.7a1.4 1.4 0 1 0 2.8 0a1.4 1.4 0 1 0 -2.8 0M617.2 470.1a1.4 1.4 0 1 0 2.8 0a1.4 1.4 0 1 0 -2.8 0M618.3 470.4a1.4 1.4 0 1 0 2.8 0a1.4 1.4 0 1 0 -2.8 0M618.9 470.6a1.4 1.4 0 1 0 2.8 0a1.4 1.4 0 1 0 -2.8 0M619.9 470.7a1.4 1.4 0 1 0 2.8 0a1.4 1.4 0 1 0 -2.8 0M621.0 469.9a1.4 1.4 0 1 0 2.8 0a1.4 1.4 0 1 0 -2.8 0M621.7 471.5a1.4 1.4 0 1 0 2.8 0a1.4 1.4 0 1 0 -2.8 0M623.2 470.9a1.4 1.4 0 1 0 2.8 0a1.4 1.4 0 1 0 -2.8 0M624.0 470.6a1.4 1.4 0 1 0 2.8 0a1.4 1.4 0 1 0 -2.8 0M625.1 470.8a1.4 1.4 0 1 0 2.8 0a1.4 1.4 0 1 0 -2.8 0M625.8 471.2a1.4 1.4 0 1 0 2.8 0a1.4 1.4 0 1 0 -2.8 0M627.0 470.7a1.4 1.4 0 1 0 2.8 0a1.4 1.4 0 1 0 -2.8 0M627.9 471.0a1.4 1.4 0 1 0 2.8 0a1.4 1.4 0 1 0 -2.8 0M629.0 471.0a1.4 1.4 0 1 0 2.8 0a1.4 1.4 0 1 0 -2.8 0M629.8 471.5a1.4 1.4 0 1 0 2.8 0a1.4 1.4 0 1 0 -2.8 0M631.2 471.0a1.4 1.4 0 1 0 2.8 0a1.4 1.4 0 1 0 -2.8 0M631.9 471.5a1.4 1.4 0 1 0 2.8 0a1.4 1.4 0 1 0 -2.8 0M632.5 471.5a1.4 1.4 0 1 0 2.8 0a1.4 1.4 0 1 0 -2.8 0M634.1 471.3a1.4 1.4 0 1 0 2.8 0a1.4 1.4 0 1 0 -2.8 0M635.0 471.9a1.4 1.4 0 1 0 2.8 0a1.4 1.4 0 1 0 -2.8 0M635.8 471.4a1.4 1.4 0 1 0 2.8 0a1.4 1.4 0 1 0 -2.8 0M637.5 471.0a1.4 1.4 0 1 0 2.8 0a1.4 1.4 0 1 0 -2.8 0M638.0 471.6a1.4 1.4 0 1 0 2.8 0a1.4 1.4 0 1 0 -2.8 0M638.8 471.5a1.4 1.4 0 1 0 2.8 0a1.4 1.4 0 1 0 -2.8 0M639.9 471.5a1.4 1.4 0 1 0 2.8 0a1.4 1.4 0 1 0 -2.8 0M641.1 471.6a1.4 1.4 0 1 0 2.8 0a1.4 1.4 0 1 0 -2.8 0M642.0 472.5a1.4 1.4 0 1 0 2.8 0a1.4 1.4 0 1 0 -2.8 0M643.3 471.6a1.4 1.4 0 1 0 2.8 0a1.4 1.4 0 1 0 -2.8 0M644.2 471.7a1.4 1.4 0 1 0 2.8 0a1.4 1.4 0 1 0 -2.8 0M644.9 471.5a1.4 1.4 0 1 0 2.8 0a1.4 1.4 0 1 0 -2.8 0M646.0 472.1a1.4 1.4 0 1 0 2.8 0a1.4 1.4 0 1 0 -2.8 0M647.1 471.6a1.4 1.4 0 1 0 2.8 0a1.4 1.4 0 1 0 -2.8 0" fill="none" stroke="#555" stroke-width="0.6"/>
<path d="M404.4 469.8 L404.9 469.8 L405.4 469.8 L405.9 469.8 L406.4 469.8 L406.9 469.8 L407.3 469.8 L407.8 469.8 L408.3 469.8 L408.8 469.8 L409.3 469.8 L409.8 469.8 L410.3 469.8 L410.8 469.8 L411.3 469.8 L411.8 469.8 L412.2 469.8 L412.7 469.8 L413.2 469.8 L413.7 469.8 L414.2 469.8 L414.7 469.8 L415.2 469.8 L415.7 469.8 L416.2 469.8 L416.7 469.8 L417.1 469.8 L417.6 469.8 L418.1 469.8 L418.6 469.8 L419.1 469.8 L419.6 469.8 L420.1 469.7 L420.6 469.7 L421.1 469.7 L421.6 469.7 L422.0 469.7 L422.5 469.7 L423.0 469.7 L423.5 469.7 L424.0 469.7 L424.5 469.7 L425.0 469.7 L425.5 469.7 L426.0 469.7 L426.5 469.7 L426.9 469.7 L427.4 469.7 L427.9 469.7 L428.4 469.7 L428.9 469.7 L429.4 469.7 L429.9 469.7 L430.4 469.6 L430.9 469.6 L431.4 469.6 L431.9 469.6 L432.3 469.6 L432.8 469.6 L433.3 469.6 L433.8 469.6 L434.3 469.6 L434.8 469.6 L435.3 469.6 L435.8 469.6 L436.3 469.6 L436.8 469.5 L437.2 469.5 L437.7 469.5 L438.2 469.5 L438.7 469.5 L439.2 469.5 L439.7 469.5 L440.2 469.5 L440.7 469.5 L441.2 469.4 L441.7 469.4 L442.1 469.4 L442.6 469.4 L443.1 469.4 L443.6 469.4 L444.1 469.4 L444.6 469.3 L445.1 469.3 L445.6 469.3 L446.1 469.3 L446.6 469.3 L447.0 469.2 L447.5 469.2 L448.0 469.2 L448.5 469.2 L449.0 469.1 L449.5 469.1 L450.0 469.1 L450.5 469.0 L451.0 469.0 L451.5 469.0 L451.9 468.9 L452.4 468.9 L452.9 468.8 L453.4 468.8 L453.9 468.7 L454.4 468.7 L454.9 468.6 L455.4 468.5 L455.9 468.5 L456.4 468.4 L456.8 468.3 L457.3 468.2 L457.8 468.1 L458.3 468.0 L458.8 467.9 L459.3 467.7 L459.8 467.6 L460.3 467.5 L460.8 467.3 L461.3 467.1 L461.8 467.0 L462.2 466.8 L462.7 466.5 L463.2 466.3 L463.7 466.1 L464.2 465.8 L464.7 465.5 L465.2 465.2 L465.7 464.9 L466.2 464.5 L466.7 464.1 L467.1 463.7 L467.6 463.3 L468.1 462.8 L468.6 462.4 L469.1 461.8 L469.6 461.3 L470.1 460.7 L470.6 460.0 L471.1 459.3 L471.6 458.6 L472.0 457.9 L472.5 457.0 L473.0 456.2 L473.5 455.3 L474.0 454.3 L474.5 453.3 L475.0 452.2 L475.5 451.1 L476.0 449.9 L476.5 448.7 L476.9 447.3 L477.4 446.0 L477.9 444.5 L478.4 443.0 L478.9 441.4 L479.4 439.8 L479.9 438.1 L480.4 436.3 L480.9 434.4 L481.4 432.5 L481.8 430.5 L482.3 428.4 L482.8 426.2 L483.3 424.0 L483.8 421.7 L484.3 419.3 L484.8 416.9 L485.3 414.3 L485.8 411.8 L486.3 409.1 L486.8 406.4 L487.2 403.6 L487.7 400.8 L488.2 397.9 L488.7 394.9 L489.2 391.9 L489.7 388.9 L490.2 385.8 L490.7 382.7 L491.2 379.5 L491.7 376.3 L492.1 373.1 L492.6 369.9 L493.1 366.6 L493.6 363.4 L494.1 360.1 L494.6 356.9 L495.1 353.7 L495.6 350.5 L496.1 347.3 L496.6 344.2 L497.0 341.1 L497.5 338.1 L498.0 335.1 L498.5 332.2 L499.0 329.3 L499.5 326.6 L500.0 323.9 L500.5 321.3 L501.0 318.8 L501.5 316.5 L501.9 314.2 L502.4 312.1 L502.9 310.1 L503.4 308.3 L503.9 306.6 L504.4 305.0 L504.9 303.6 L505.4 302.4 L505.9 301.3 L506.4 300.4 L506.8 299.7 L507.3 299.2 L507.8 298.8 L508.3 298.6 L508.8 298.6 L509.3 298.8 L509.8 299.2 L510.3 299.8 L510.8 300.6 L511.3 301.5 L511.7 302.7 L512.2 304.1 L512.7 305.7 L513.2 307.4 L513.7 309.3 L514.2 311.4 L514.7 313.6 L515.2 316.0 L515.7 318.5 L516.2 321.1 L516.7 323.9 L517.1 326.8 L517.6 329.7 L518.1 332.8 L518.6 336.0 L519.1 339.2 L519.6 342.5 L520.1 345.8 L520.6 349.2 L521.1 352.6 L521.6 356.1 L522.0 359.5 L522.5 363.0 L523.0 366.5 L523.5 370.0 L524.0 373.5 L524.5 376.9 L525.0 380.3 L525.5 383.7 L526.0 387.1 L526.5 390.4 L526.9 393.6 L527.4 396.8 L527.9 400.0 L528.4 403.0 L528.9 406.0 L529.4 409.0 L529.9 411.8 L530.4 414.6 L530.9 417.3 L531.4 419.9 L531.8 422.5 L532.3 425.0 L532.8 427.3 L533.3 429.6 L533.8 431.8 L534.3 434.0 L534.8 436.0 L535.3 437.9 L535.8 439.8 L536.3 441.6 L536.7 443.3 L537.2 444.9 L537.7 446.5 L538.2 448.0 L538.7 449.4 L539.2 450.7 L539.7 452.0 L540.2 453.2 L540.7 454.3 L541.2 455.4 L541.7 456.4 L542.1 457.3 L542.6 458.2 L543.1 459.0 L543.6 459.8 L544.1 460.6 L544.6 461.3 L545.1 461.9 L545.6 462.5 L546.1 463.1 L546.6 463.6 L547.0 464.1 L547.5 464.6 L548.0 465.0 L548.5 465.4 L549.0 465.7 L549.5 466.1 L550.0 466.4 L550.5 466.7 L551.0 467.0 L551.5 467.2 L551.9 467.5 L552.4 467.7 L552.9 467.9 L553.4 468.1 L553.9 468.2 L554.4 468.4 L554.9 468.5 L555.4 468.7 L555.9 468.8 L556.4 468.9 L556.8 469.0 L557.3 469.1 L557.8 469.2 L558.3 469.3 L558.8 469.4 L559.3 469.5 L559.8 469.5 L560.3 469.6 L560.8 469.7 L561.3 469.7 L561.7 469.8 L562.2 469.8 L562.7 469.9 L563.2 469.9 L563.7 470.0 L564.2 470.0 L564.7 470.0 L565.2 470.1 L565.7 470.1 L566.2 470.1 L566.6 470.2 L567.1 470.2 L567.6 470.2 L568.1 470.3 L568.6 470.3 L569.1 470.3 L569.6 470.3 L570.1 470.4 L570.6 470.4 L571.1 470.4 L571.6 470.4 L572.0 470.4 L572.5 470.5 L573.0 470.5 L573.5 470.5 L574.0 470.5 L574.5 470.5 L575.0 470.6 L575.5 470.6 L576.0 470.6 L576.5 470.6 L576.9 470.6 L577.4 470.6 L577.9 470.7 L578.4 470.7 L578.9 470.7 L579.4 470.7 L579.9 470.7 L580.4 470.7 L580.9 470.8 L581.4 470.8 L581.8 470.8 L582.3 470.8 L582.8 470.8 L583.3 470.8 L583.8 470.8 L584.3 470.9 L584.8 470.9 L585.3 470.9 L585.8 470.9 L586.3 470.9 L586.7 470.9 L587.2 470.9 L587.7 470.9 L588.2 471.0 L588.7 471.0 L589.2 471.0 L589.7 471.0 L590.2 471.0 L590.7 471.0 L591.2 471.0 L591.6 471.0 L592.1 471.0 L592.6 471.1 L593.1 471.1 L593.6 471.1 L594.1 471.1 L594.6 471.1 L595.1 471.1 L595.6 471.1 L596.1 471.1 L596.6 471.1 L597.0 471.2 L597.5 471.2 L598.0 471.2 L598.5 471.2 L599.0 471.2 L599.5 471.2 L600.0 471.2 L600.5 471.2 L601.0 471.2 L601.5 471.2 L601.9 471.2 L602.4 471.3 L602.9 471.3 L603.4 471.3 L603.9 471.3 L604.4 471.3 L604.9 471.3 L605.4 471.3 L605.9 471.3 L606.4 471.3 L606.8 471.3 L607.3 471.3 L607.8 471.4 L608.3 471.4 L608.8 471.4 L609.3 471.4 L609.8 471.4 L610.3 471.4 L610.8 471.4 L611.3 471.4 L611.7 471.4 L612.2 471.4 L612.7 471.4 L613.2 471.4 L613.7 471.4 L614.2 471.5 L614.7 471.5 L615.2 471.5 L615.7 471.5 L616.2 471.5 L616.6 471.5 L617.1 471.5 L617.6 471.5 L618.1 471.5 L618.6 471.5 L619.1 471.5 L619.6 471.5 L620.1 471.5 L620.6 471.5 L621.1 471.6 L621.5 471.6 L622.0 471.6 L622.5 471.6 L623.0 471.6 L623.5 471.6 L624.0 471.6 L624.5 471.6 L625.0 471.6 L625.5 471.6 L626.0 471.6 L626.5 471.6 L626.9 471.6 L627.4 471.6 L627.9 471.6 L628.4 471.6 L628.9 471.7 L629.4 471.7 L629.9 471.7 L630.4 471.7 L630.9 471.7 L631.4 471.7 L631.8 471.7 L632.3 471.7 L632.8 471.7 L633.3 471.7 L633.8 471.7 L634.3 471.7 L634.8 471.7 L635.3 471.7 L635.8 471.7 L636.3 471.7 L636.7 471.7 L637.2 471.8 L637.7 471.8 L638.2 471.8 L638.7 471.8 L639.2 471.8 L639.7 471.8 L640.2 471.8 L640.7 471.8 L641.2 471.8 L641.6 471.8 L642.1 471.8 L642.6 471.8 L643.1 471.8 L643.6 471.8 L644.1 471.8 L644.6 471.8 L645.1 471.8 L645.6 471.9 L646.1 471.9 L646.5 471.9 L647.0 471.9 L647.5 471.9 L648.0 471.9 L648.5 471.9 L649.0 471.9" fill="none" stroke="#d83434" stroke-width="1.6" stroke-linejoin="round"/>
<path d="M404.4 470.2 L404.9 470.2 L405.4 470.2 L405.9 470.2 L406.4 470.2 L406.9 470.2 L407.3 470.2 L407.8 470.2 L408.3 470.2 L408.8 470.3 L409.3 470.3 L409.8 470.3 L410.3 470.3 L410.8 470.3 L411.3 470.3 L411.8 470.3 L412.2 470.3 L412.7 470.3 L413.2 470.3 L413.7 470.3 L414.2 470.3 L414.7 470.3 L415.2 470.3 L415.7 470.3 L416.2 470.3 L416.7 470.3 L417.1 470.3 L417.6 470.3 L418.1 470.3 L418.6 470.3 L419.1 470.3 L419.6 470.3 L420.1 470.3 L420.6 470.3 L421.1 470.3 L421.6 470.3 L422.0 470.3 L422.5 470.3 L423.0 470.3 L423.5 470.3 L424.0 470.3 L424.5 470.4 L425.0 470.4 L425.5 470.4 L426.0 470.4 L426.5 470.4 L426.9 470.4 L427.4 470.4 L427.9 470.4 L428.4 470.4 L428.9 470.4 L429.4 470.4 L429.9 470.4 L430.4 470.4 L430.9 470.4 L431.4 470.4 L431.9 470.4 L432.3 470.4 L432.8 470.4 L433.3 470.4 L433.8 470.4 L434.3 470.4 L434.8 470.4 L435.3 470.4 L435.8 470.4 L436.3 470.4 L436.8 470.4 L437.2 470.4 L437.7 470.4 L438.2 470.4 L438.7 470.4 L439.2 470.4 L439.7 470.4 L440.2 470.4 L440.7 470.4 L441.2 470.5 L441.7 470.5 L442.1 470.5 L442.6 470.5 L443.1 470.5 L443.6 470.5 L444.1 470.5 L444.6 470.5 L445.1 470.5 L445.6 470.5 L446.1 470.5 L446.6 470.5 L447.0 470.5 L447.5 470.5 L448.0 470.5 L448.5 470.5 L449.0 470.5 L449.5 470.5 L450.0 470.5 L450.5 470.5 L451.0 470.5 L451.5 470.5 L451.9 470.5 L452.4 470.5 L452.9 470.5 L453.4 470.5 L453.9 470.5 L454.4 470.5 L454.9 470.5 L455.4 470.5 L455.9 470.5 L456.4 470.5 L456.8 470.5 L457.3 470.5 L457.8 470.5 L458.3 470.5 L458.8 470.5 L459.3 470.5 L459.8 470.5 L460.3 470.6 L460.8 470.6 L461.3 470.6 L461.8 470.6 L462.2 470.6 L462.7 470.6 L463.2 470.6 L463.7 470.6 L464.2 470.6 L464.7 470.6 L465.2 470.6 L465.7 470.6 L466.2 470.6 L466.7 470.6 L467.1 470.6 L467.6 470.6 L468.1 470.6 L468.6 470.6 L469.1 470.6 L469.6 470.6 L470.1 470.6 L470.6 470.6 L471.1 470.6 L471.6 470.6 L472.0 470.6 L472.5 470.6 L473.0 470.6 L473.5 470.6 L474.0 470.6 L474.5 470.6 L475.0 470.6 L475.5 470.6 L476.0 470.6 L476.5 470.6 L476.9 470.6 L477.4 470.6 L477.9 470.6 L478.4 470.6 L478.9 470.6 L479.4 470.6 L479.9 470.6 L480.4 470.6 L480.9 470.6 L481.4 470.6 L481.8 470.6 L482.3 470.6 L482.8 470.6 L483.3 470.6 L483.8 470.6 L484.3 470.6 L484.8 470.6 L485.3 470.6 L485.8 470.6 L486.3 470.6 L486.8 470.6 L487.2 470.6 L487.7 470.6 L488.2 470.6 L488.7 470.6 L489.2 470.6 L489.7 470.6 L490.2 470.6 L490.7 470.6 L491.2 470.6 L491.7 470.7 L492.1 470.7 L492.6 470.7 L493.1 470.7 L493.6 470.7 L494.1 470.7 L494.6 470.7 L495.1 470.7 L495.6 470.7 L496.1 470.7 L496.6 470.7 L497.0 470.6 L497.5 470.6 L498.0 470.6 L498.5 470.6 L499.0 470.6 L499.5 470.6 L500.0 470.6 L500.5 470.6 L501.0 470.6 L501.5 470.6 L501.9 470.6 L502.4 470.6 L502.9 470.6 L503.4 470.6 L503.9 470.6 L504.4 470.6 L504.9 470.6 L505.4 470.6 L505.9 470.6 L506.4 470.6 L506.8 470.6 L507.3 470.6 L507.8 470.6 L508.3 470.6 L508.8 470.6 L509.3 470.6 L509.8 470.6 L510.3 470.6 L510.8 470.6 L511.3 470.6 L511.7 470.6 L512.2 470.6 L512.7 470.5 L513.2 470.5 L513.7 470.5 L514.2 470.5 L514.7 470.5 L515.2 470.5 L515.7 470.5 L516.2 470.5 L516.7 470.4 L517.1 470.4 L517.6 470.4 L518.1 470.4 L518.6 470.4 L519.1 470.3 L519.6 470.3 L520.1 470.3 L520.6 470.2 L521.1 470.2 L521.6 470.2 L522.0 470.1 L522.5 470.1 L523.0 470.0 L523.5 470.0 L524.0 469.9 L524.5 469.9 L525.0 469.8 L525.5 469.7 L526.0 469.7 L526.5 469.6 L526.9 469.5 L527.4 469.4 L527.9 469.3 L528.4 469.2 L528.9 469.1 L529.4 468.9 L529.9 468.8 L530.4 468.7 L530.9 468.5 L531.4 468.3 L531.8 468.2 L532.3 468.0 L532.8 467.8 L533.3 467.6 L533.8 467.3 L534.3 467.1 L534.8 466.8 L535.3 466.6 L535.8 466.3 L536.3 466.0 L536.7 465.6 L537.2 465.3 L537.7 464.9 L538.2 464.6 L538.7 464.1 L539.2 463.7 L539.7 463.3 L540.2 462.8 L540.7 462.3 L541.2 461.8 L541.7 461.2 L542.1 460.7 L542.6 460.1 L543.1 459.4 L543.6 458.8 L544.1 458.1 L544.6 457.4 L545.1 456.7 L545.6 455.9 L546.1 455.1 L546.6 454.3 L547.0 453.4 L547.5 452.6 L548.0 451.6 L548.5 450.7 L549.0 449.7 L549.5 448.7 L550.0 447.7 L550.5 446.6 L551.0 445.6 L551.5 444.5 L551.9 443.3 L552.4 442.2 L552.9 441.0 L553.4 439.8 L553.9 438.6 L554.4 437.3 L554.9 436.0 L555.4 434.8 L555.9 433.5 L556.4 432.1 L556.8 430.8 L557.3 429.5 L557.8 428.2 L558.3 426.8 L558.8 425.5 L559.3 424.1 L559.8 422.8 L560.3 421.4 L560.8 420.1 L561.3 418.7 L561.7 417.4 L562.2 416.1 L562.7 414.8 L563.2 413.6 L563.7 412.3 L564.2 411.1 L564.7 409.9 L565.2 408.8 L565.7 407.6 L566.2 406.6 L566.6 405.5 L567.1 404.5 L567.6 403.5 L568.1 402.6 L568.6 401.8 L569.1 401.0 L569.6 400.2 L570.1 399.5 L570.6 398.9 L571.1 398.3 L571.6 397.8 L572.0 397.4 L572.5 397.0 L573.0 396.7 L573.5 396.5 L574.0 396.3 L574.5 396.2 L575.0 396.2 L575.5 396.2 L576.0 396.4 L576.5 396.7 L576.9 397.0 L577.4 397.5 L577.9 398.1 L578.4 398.7 L578.9 399.5 L579.4 400.3 L579.9 401.3 L580.4 402.3 L580.9 403.3 L581.4 404.5 L581.8 405.7 L582.3 407.0 L582.8 408.3 L583.3 409.7 L583.8 411.2 L584.3 412.6 L584.8 414.2 L585.3 415.7 L585.8 417.3 L586.3 418.9 L586.7 420.5 L587.2 422.2 L587.7 423.8 L588.2 425.4 L588.7 427.1 L589.2 428.7 L589.7 430.3 L590.2 432.0 L590.7 433.6 L591.2 435.1 L591.6 436.7 L592.1 438.2 L592.6 439.7 L593.1 441.2 L593.6 442.6 L594.1 444.0 L594.6 445.4 L595.1 446.7 L595.6 448.0 L596.1 449.3 L596.6 450.5 L597.0 451.6 L597.5 452.8 L598.0 453.8 L598.5 454.9 L599.0 455.9 L599.5 456.8 L600.0 457.7 L600.5 458.6 L601.0 459.4 L601.5 460.2 L601.9 460.9 L602.4 461.7 L602.9 462.3 L603.4 462.9 L603.9 463.5 L604.4 464.1 L604.9 464.6 L605.4 465.1 L605.9 465.6 L606.4 466.0 L606.8 466.4 L607.3 466.8 L607.8 467.2 L608.3 467.5 L608.8 467.8 L609.3 468.1 L609.8 468.4 L610.3 468.6 L610.8 468.9 L611.3 469.1 L611.7 469.3 L612.2 469.4 L612.7 469.6 L613.2 469.8 L613.7 469.9 L614.2 470.0 L614.7 470.2 L615.2 470.3 L615.7 470.4 L616.2 470.5 L616.6 470.6 L617.1 470.6 L617.6 470.7 L618.1 470.8 L618.6 470.8 L619.1 470.9 L619.6 471.0 L620.1 471.0 L620.6 471.1 L621.1 471.1 L621.5 471.1 L622.0 471.2 L622.5 471.2 L623.0 471.2 L623.5 471.3 L624.0 471.3 L624.5 471.3 L625.0 471.3 L625.5 471.4 L626.0 471.4 L626.5 471.4 L626.9 471.4 L627.4 471.4 L627.9 471.5 L628.4 471.5 L628.9 471.5 L629.4 471.5 L629.9 471.5 L630.4 471.5 L630.9 471.5 L631.4 471.5 L631.8 471.6 L632.3 471.6 L632.8 471.6 L633.3 471.6 L633.8 471.6 L634.3 471.6 L634.8 471.6 L635.3 471.6 L635.8 471.6 L636.3 471.7 L636.7 471.7 L637.2 471.7 L637.7 471.7 L638.2 471.7 L638.7 471.7 L639.2 471.7 L639.7 471.7 L640.2 471.7 L640.7 471.7 L641.2 471.7 L641.6 471.8 L642.1 471.8 L642.6 471.8 L643.1 471.8 L643.6 471.8 L644.1 471.8 L644.6 471.8 L645.1 471.8 L645.6 471.8 L646.1 471.8 L646.5 471.8 L647.0 471.8 L647.5 471.8 L648.0 471.9 L648.5 471.9 L649.0 471.9" fill="none" stroke="#2a2ab8" stroke-width="1.6" stroke-linejoin="round"/>
<path d="M404.4 470.3 L404.9 470.3 L405.4 470.3 L405.9 470.3 L406.4 470.3 L406.9 470.3 L407.3 470.3 L407.8 470.3 L408.3 470.3 L408.8 470.3 L409.3 470.3 L409.8 470.3 L410.3 470.3 L410.8 470.3 L411.3 470.3 L411.8 470.3 L412.2 470.4 L412.7 470.4 L413.2 470.4 L413.7 470.4 L414.2 470.4 L414.7 470.4 L415.2 470.4 L415.7 470.4 L416.2 470.4 L416.7 470.4 L417.1 470.4 L417.6 470.4 L418.1 470.4 L418.6 470.4 L419.1 470.4 L419.6 470.4 L420.1 470.4 L420.6 470.4 L421.1 470.4 L421.6 470.4 L422.0 470.4 L422.5 470.4 L423.0 470.4 L423.5 470.4 L424.0 470.4 L424.5 470.4 L425.0 470.4 L425.5 470.5 L426.0 470.5 L426.5 470.5 L426.9 470.5 L427.4 470.5 L427.9 470.5 L428.4 470.5 L428.9 470.5 L429.4 470.5 L429.9 470.5 L430.4 470.5 L430.9 470.5 L431.4 470.5 L431.9 470.5 L432.3 470.5 L432.8 470.5 L433.3 470.5 L433.8 470.5 L434.3 470.5 L434.8 470.5 L435.3 470.5 L435.8 470.5 L436.3 470.5 L436.8 470.5 L437.2 470.5 L437.7 470.5 L438.2 470.5 L438.7 470.6 L439.2 470.6 L439.7 470.6 L440.2 470.6 L440.7 470.6 L441.2 470.6 L441.7 470.6 L442.1 470.6 L442.6 470.6 L443.1 470.6 L443.6 470.6 L444.1 470.6 L444.6 470.6 L445.1 470.6 L445.6 470.6 L446.1 470.6 L446.6 470.6 L447.0 470.6 L447.5 470.6 L448.0 470.6 L448.5 470.6 L449.0 470.6 L449.5 470.6 L450.0 470.6 L450.5 470.6 L451.0 470.6 L451.5 470.6 L451.9 470.7 L452.4 470.7 L452.9 470.7 L453.4 470.7 L453.9 470.7 L454.4 470.7 L454.9 470.7 L455.4 470.7 L455.9 470.7 L456.4 470.7 L456.8 470.7 L457.3 470.7 L457.8 470.7 L458.3 470.7 L458.8 470.7 L459.3 470.7 L459.8 470.7 L460.3 470.7 L460.8 470.7 L461.3 470.7 L461.8 470.7 L462.2 470.7 L462.7 470.7 L463.2 470.7 L463.7 470.7 L464.2 470.7 L464.7 470.7 L465.2 470.7 L465.7 470.8 L466.2 470.8 L466.7 470.8 L467.1 470.8 L467.6 470.8 L468.1 470.8 L468.6 470.8 L469.1 470.8 L469.6 470.8 L470.1 470.8 L470.6 470.8 L471.1 470.8 L471.6 470.8 L472.0 470.8 L472.5 470.8 L473.0 470.8 L473.5 470.8 L474.0 470.8 L474.5 470.8 L475.0 470.8 L475.5 470.8 L476.0 470.8 L476.5 470.8 L476.9 470.8 L477.4 470.8 L477.9 470.8 L478.4 470.8 L478.9 470.9 L479.4 470.9 L479.9 470.9 L480.4 470.9 L480.9 470.9 L481.4 470.9 L481.8 470.9 L482.3 470.9 L482.8 470.9 L483.3 470.9 L483.8 470.9 L484.3 470.9 L484.8 470.9 L485.3 470.9 L485.8 470.9 L486.3 470.9 L486.8 470.9 L487.2 470.9 L487.7 470.9 L488.2 470.9 L488.7 470.9 L489.2 470.9 L489.7 470.9 L490.2 470.9 L490.7 470.9 L491.2 470.9 L491.7 470.9 L492.1 471.0 L492.6 471.0 L493.1 471.0 L493.6 471.0 L494.1 471.0 L494.6 471.0 L495.1 471.0 L495.6 471.0 L496.1 471.0 L496.6 471.0 L497.0 471.0 L497.5 471.0 L498.0 471.0 L498.5 471.0 L499.0 471.0 L499.5 471.0 L500.0 471.0 L500.5 471.0 L501.0 471.0 L501.5 471.0 L501.9 471.0 L502.4 471.0 L502.9 471.0 L503.4 471.0 L503.9 471.0 L504.4 471.0 L504.9 471.0 L505.4 471.0 L505.9 471.1 L506.4 471.1 L506.8 471.1 L507.3 471.1 L507.8 471.1 L508.3 471.1 L508.8 471.1 L509.3 471.1 L509.8 471.1 L510.3 471.1 L510.8 471.1 L511.3 471.1 L511.7 471.1 L512.2 471.1 L512.7 471.1 L513.2 471.1 L513.7 471.1 L514.2 471.1 L514.7 471.1 L515.2 471.1 L515.7 471.1 L516.2 471.1 L516.7 471.1 L517.1 471.1 L517.6 471.1 L518.1 471.1 L518.6 471.1 L519.1 471.2 L519.6 471.2 L520.1 471.2 L520.6 471.2 L521.1 471.2 L521.6 471.2 L522.0 471.2 L522.5 471.2 L523.0 471.2 L523.5 471.2 L524.0 471.2 L524.5 471.2 L525.0 471.2 L525.5 471.2 L526.0 471.2 L526.5 471.2 L526.9 471.2 L527.4 471.2 L527.9 471.2 L528.4 471.2 L528.9 471.2 L529.4 471.2 L529.9 471.2 L530.4 471.2 L530.9 471.2 L531.4 471.2 L531.8 471.2 L532.3 471.3 L532.8 471.3 L533.3 471.3 L533.8 471.3 L534.3 471.3 L534.8 471.3 L535.3 471.3 L535.8 471.3 L536.3 471.3 L536.7 471.3 L537.2 471.3 L537.7 471.3 L538.2 471.3 L538.7 471.3 L539.2 471.3 L539.7 471.3 L540.2 471.3 L540.7 471.3 L541.2 471.3 L541.7 471.3 L542.1 471.3 L542.6 471.3 L543.1 471.3 L543.6 471.3 L544.1 471.3 L544.6 471.3 L545.1 471.3 L545.6 471.4 L546.1 471.4 L546.6 471.4 L547.0 471.4 L547.5 471.4 L548.0 471.4 L548.5 471.4 L549.0 471.4 L549.5 471.4 L550.0 471.4 L550.5 471.4 L551.0 471.4 L551.5 471.4 L551.9 471.4 L552.4 471.4 L552.9 471.4 L553.4 471.4 L553.9 471.4 L554.4 471.4 L554.9 471.4 L555.4 471.4 L555.9 471.4 L556.4 471.4 L556.8 471.4 L557.3 471.4 L557.8 471.4 L558.3 471.4 L558.8 471.4 L559.3 471.5 L559.8 471.5 L560.3 471.5 L560.8 471.5 L561.3 471.5 L561.7 471.5 L562.2 471.5 L562.7 471.5 L563.2 471.5 L563.7 471.5 L564.2 471.5 L564.7 471.5 L565.2 471.5 L565.7 471.5 L566.2 471.5 L566.6 471.5 L567.1 471.5 L567.6 471.5 L568.1 471.5 L568.6 471.5 L569.1 471.5 L569.6 471.5 L570.1 471.5 L570.6 471.5 L571.1 471.5 L571.6 471.5 L572.0 471.5 L572.5 471.6 L573.0 471.6 L573.5 471.6 L574.0 471.6 L574.5 471.6 L575.0 471.6 L575.5 471.6 L576.0 471.6 L576.5 471.6 L576.9 471.6 L577.4 471.6 L577.9 471.6 L578.4 471.6 L578.9 471.6 L579.4 471.6 L579.9 471.6 L580.4 471.6 L580.9 471.6 L581.4 471.6 L581.8 471.6 L582.3 471.6 L582.8 471.6 L583.3 471.6 L583.8 471.6 L584.3 471.6 L584.8 471.6 L585.3 471.6 L585.8 471.7 L586.3 471.7 L586.7 471.7 L587.2 471.7 L587.7 471.7 L588.2 471.7 L588.7 471.7 L589.2 471.7 L589.7 471.7 L590.2 471.7 L590.7 471.7 L591.2 471.7 L591.6 471.7 L592.1 471.7 L592.6 471.7 L593.1 471.7 L593.6 471.7 L594.1 471.7 L594.6 471.7 L595.1 471.7 L595.6 471.7 L596.1 471.7 L596.6 471.7 L597.0 471.7 L597.5 471.7 L598.0 471.7 L598.5 471.7 L599.0 471.7 L599.5 471.8 L600.0 471.8 L600.5 471.8 L601.0 471.8 L601.5 471.8 L601.9 471.8 L602.4 471.8 L602.9 471.8 L603.4 471.8 L603.9 471.8 L604.4 471.8 L604.9 471.8 L605.4 471.8 L605.9 471.8 L606.4 471.8 L606.8 471.8 L607.3 471.8 L607.8 471.8 L608.3 471.8 L608.8 471.8 L609.3 471.8 L609.8 471.8 L610.3 471.8 L610.8 471.8 L611.3 471.8 L611.7 471.8 L612.2 471.8 L612.7 471.9 L613.2 471.9 L613.7 471.9 L614.2 471.9 L614.7 471.9 L615.2 471.9 L615.7 471.9 L616.2 471.9 L616.6 471.9 L617.1 471.9 L617.6 471.9 L618.1 471.9 L618.6 471.9 L619.1 471.9 L619.6 471.9 L620.1 471.9 L620.6 471.9 L621.1 471.9 L621.5 471.9 L622.0 471.9 L622.5 471.9 L623.0 471.9 L623.5 471.9 L624.0 471.9 L624.5 471.9 L625.0 471.9 L625.5 471.9 L626.0 472.0 L626.5 472.0 L626.9 472.0 L627.4 472.0 L627.9 472.0 L628.4 472.0 L628.9 472.0 L629.4 472.0 L629.9 472.0 L630.4 472.0 L630.9 472.0 L631.4 472.0 L631.8 472.0 L632.3 472.0 L632.8 472.0 L633.3 472.0 L633.8 472.0 L634.3 472.0 L634.8 472.0 L635.3 472.0 L635.8 472.0 L636.3 472.0 L636.7 472.0 L637.2 472.0 L637.7 472.0 L638.2 472.0 L638.7 472.0 L639.2 472.1 L639.7 472.1 L640.2 472.1 L640.7 472.1 L641.2 472.1 L641.6 472.1 L642.1 472.1 L642.6 472.1 L643.1 472.1 L643.6 472.1 L644.1 472.1 L644.6 472.1 L645.1 472.1 L645.6 472.1 L646.1 472.1 L646.5 472.1 L647.0 472.1 L647.5 472.1 L648.0 472.1 L648.5 472.1 L649.0 472.1" fill="none" stroke="#dd44dd" stroke-width="1.5" stroke-linejoin="round" stroke-dasharray="5.5,4"/>
</svg>
</body></html>
